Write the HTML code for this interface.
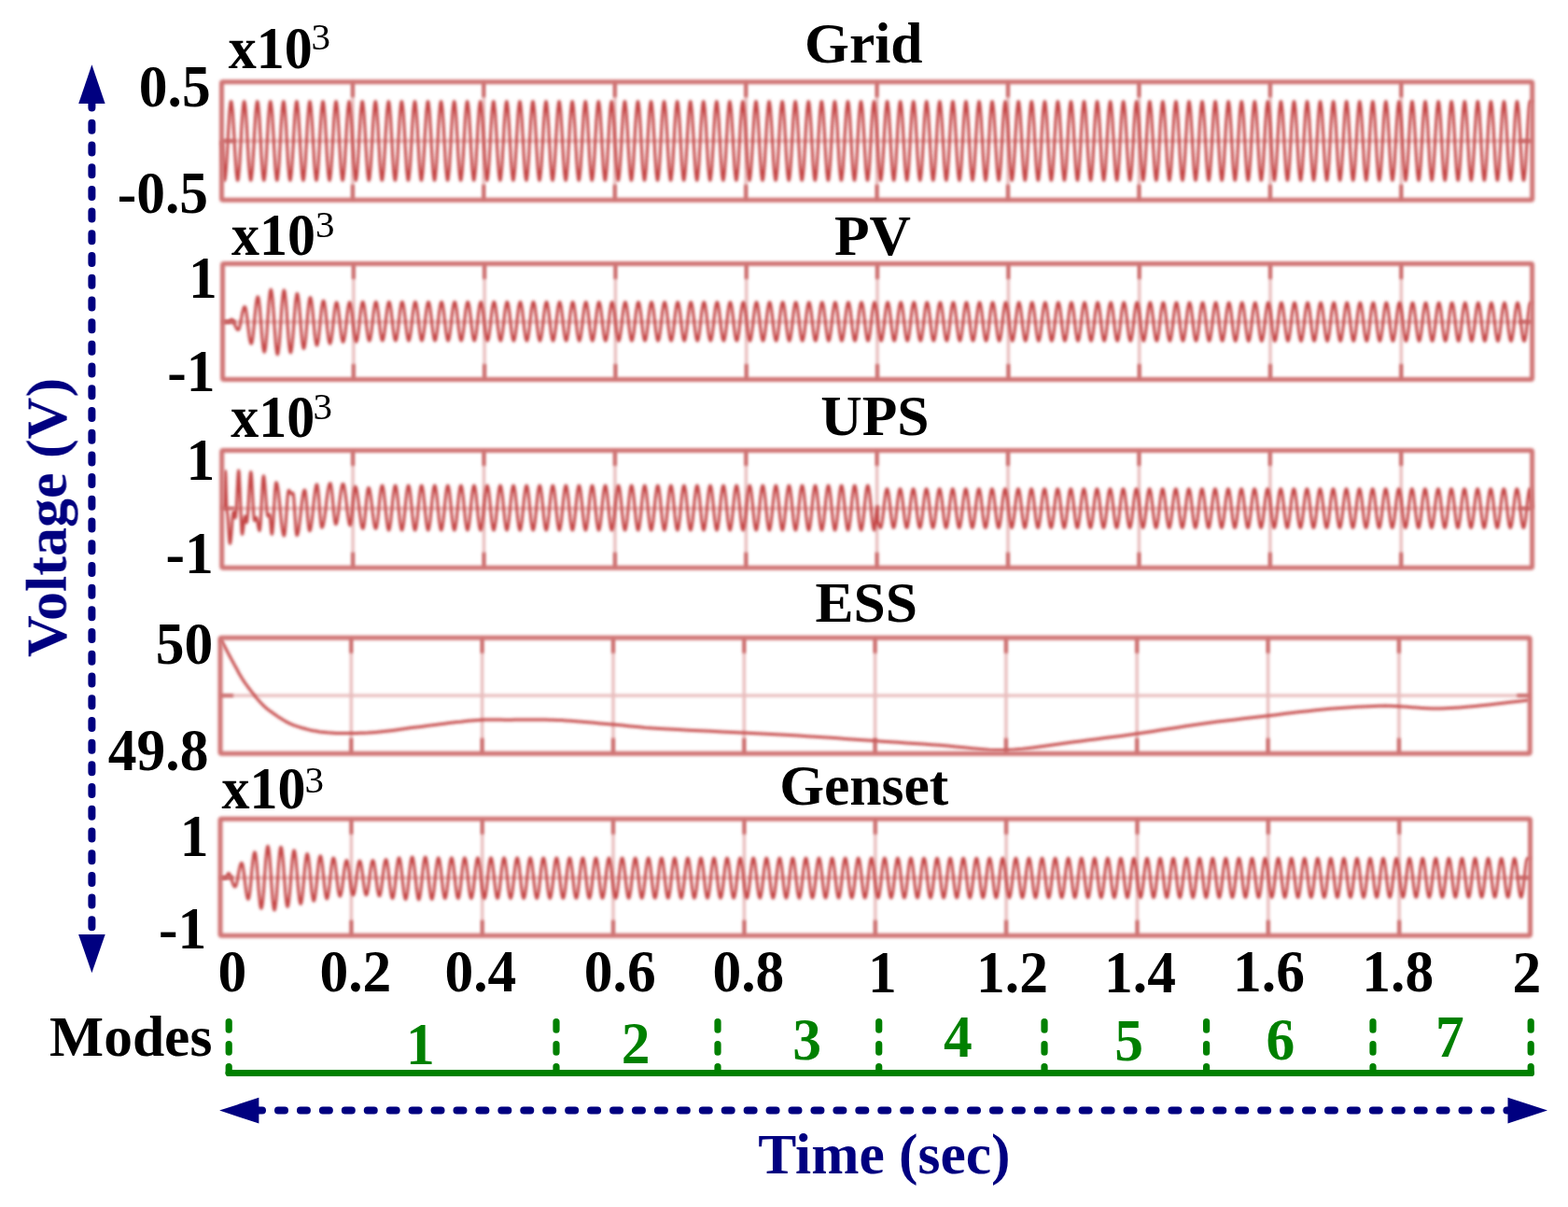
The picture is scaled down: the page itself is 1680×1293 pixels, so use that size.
<!DOCTYPE html>
<html><head><meta charset="utf-8"><title>Voltage waveforms</title>
<style>html,body{margin:0;padding:0;background:#fff;}svg{display:block;}text{font-family:"Liberation Serif","Times New Roman",serif;font-weight:bold;}</style>
</head><body>
<svg width="1680" height="1293" viewBox="0 0 1680 1293">
<rect width="1680" height="1293" fill="#fff"/>
<defs><filter id="bl" filterUnits="userSpaceOnUse" x="0" y="0" width="1680" height="1293"><feGaussianBlur stdDeviation="1.5"/></filter><filter id="bw" filterUnits="userSpaceOnUse" x="0" y="0" width="1680" height="1293"><feGaussianBlur stdDeviation="1.5"/></filter><filter id="bg" filterUnits="userSpaceOnUse" x="0" y="0" width="1680" height="1293"><feGaussianBlur stdDeviation="1.6"/></filter><filter id="bt" filterUnits="userSpaceOnUse" x="0" y="0" width="1680" height="1293"><feGaussianBlur stdDeviation="0.35"/></filter></defs>
<g id="plots">
<g filter="url(#bg)">
<line x1="377.9" y1="87.8" x2="377.9" y2="214.2" stroke="#e8bcbc" stroke-width="3.3"/>
<line x1="518.3" y1="87.8" x2="518.3" y2="214.2" stroke="#e8bcbc" stroke-width="3.3"/>
<line x1="658.8" y1="87.8" x2="658.8" y2="214.2" stroke="#e8bcbc" stroke-width="3.3"/>
<line x1="799.2" y1="87.8" x2="799.2" y2="214.2" stroke="#e8bcbc" stroke-width="3.3"/>
<line x1="939.6" y1="87.8" x2="939.6" y2="214.2" stroke="#e8bcbc" stroke-width="3.3"/>
<line x1="1080.0" y1="87.8" x2="1080.0" y2="214.2" stroke="#e8bcbc" stroke-width="3.3"/>
<line x1="1220.4" y1="87.8" x2="1220.4" y2="214.2" stroke="#e8bcbc" stroke-width="3.3"/>
<line x1="1360.9" y1="87.8" x2="1360.9" y2="214.2" stroke="#e8bcbc" stroke-width="3.3"/>
<line x1="1501.3" y1="87.8" x2="1501.3" y2="214.2" stroke="#e8bcbc" stroke-width="3.3"/>
<line x1="237.5" y1="151.0" x2="1641.7" y2="151.0" stroke="#e8bcbc" stroke-width="3.3"/>
<line x1="378.8" y1="282.6" x2="378.8" y2="406.4" stroke="#e8bcbc" stroke-width="3.3"/>
<line x1="519.1" y1="282.6" x2="519.1" y2="406.4" stroke="#e8bcbc" stroke-width="3.3"/>
<line x1="659.4" y1="282.6" x2="659.4" y2="406.4" stroke="#e8bcbc" stroke-width="3.3"/>
<line x1="799.7" y1="282.6" x2="799.7" y2="406.4" stroke="#e8bcbc" stroke-width="3.3"/>
<line x1="940.0" y1="282.6" x2="940.0" y2="406.4" stroke="#e8bcbc" stroke-width="3.3"/>
<line x1="1080.4" y1="282.6" x2="1080.4" y2="406.4" stroke="#e8bcbc" stroke-width="3.3"/>
<line x1="1220.7" y1="282.6" x2="1220.7" y2="406.4" stroke="#e8bcbc" stroke-width="3.3"/>
<line x1="1361.0" y1="282.6" x2="1361.0" y2="406.4" stroke="#e8bcbc" stroke-width="3.3"/>
<line x1="1501.3" y1="282.6" x2="1501.3" y2="406.4" stroke="#e8bcbc" stroke-width="3.3"/>
<line x1="238.5" y1="344.8" x2="1641.6" y2="344.8" stroke="#e8bcbc" stroke-width="3.3"/>
<line x1="378.1" y1="482.5" x2="378.1" y2="608.2" stroke="#e8bcbc" stroke-width="3.3"/>
<line x1="518.5" y1="482.5" x2="518.5" y2="608.2" stroke="#e8bcbc" stroke-width="3.3"/>
<line x1="658.9" y1="482.5" x2="658.9" y2="608.2" stroke="#e8bcbc" stroke-width="3.3"/>
<line x1="799.3" y1="482.5" x2="799.3" y2="608.2" stroke="#e8bcbc" stroke-width="3.3"/>
<line x1="939.6" y1="482.5" x2="939.6" y2="608.2" stroke="#e8bcbc" stroke-width="3.3"/>
<line x1="1080.0" y1="482.5" x2="1080.0" y2="608.2" stroke="#e8bcbc" stroke-width="3.3"/>
<line x1="1220.4" y1="482.5" x2="1220.4" y2="608.2" stroke="#e8bcbc" stroke-width="3.3"/>
<line x1="1360.8" y1="482.5" x2="1360.8" y2="608.2" stroke="#e8bcbc" stroke-width="3.3"/>
<line x1="1501.2" y1="482.5" x2="1501.2" y2="608.2" stroke="#e8bcbc" stroke-width="3.3"/>
<line x1="237.7" y1="544.6" x2="1641.6" y2="544.6" stroke="#e8bcbc" stroke-width="3.3"/>
<line x1="376.3" y1="683.2" x2="376.3" y2="807.3" stroke="#e8bcbc" stroke-width="3.3"/>
<line x1="516.6" y1="683.2" x2="516.6" y2="807.3" stroke="#e8bcbc" stroke-width="3.3"/>
<line x1="657.0" y1="683.2" x2="657.0" y2="807.3" stroke="#e8bcbc" stroke-width="3.3"/>
<line x1="797.3" y1="683.2" x2="797.3" y2="807.3" stroke="#e8bcbc" stroke-width="3.3"/>
<line x1="937.6" y1="683.2" x2="937.6" y2="807.3" stroke="#e8bcbc" stroke-width="3.3"/>
<line x1="1077.9" y1="683.2" x2="1077.9" y2="807.3" stroke="#e8bcbc" stroke-width="3.3"/>
<line x1="1218.2" y1="683.2" x2="1218.2" y2="807.3" stroke="#e8bcbc" stroke-width="3.3"/>
<line x1="1358.6" y1="683.2" x2="1358.6" y2="807.3" stroke="#e8bcbc" stroke-width="3.3"/>
<line x1="1498.9" y1="683.2" x2="1498.9" y2="807.3" stroke="#e8bcbc" stroke-width="3.3"/>
<line x1="236.0" y1="745.1" x2="1639.2" y2="745.1" stroke="#e8bcbc" stroke-width="3.3"/>
<line x1="376.4" y1="877.3" x2="376.4" y2="1002.3" stroke="#e8bcbc" stroke-width="3.3"/>
<line x1="516.7" y1="877.3" x2="516.7" y2="1002.3" stroke="#e8bcbc" stroke-width="3.3"/>
<line x1="657.0" y1="877.3" x2="657.0" y2="1002.3" stroke="#e8bcbc" stroke-width="3.3"/>
<line x1="797.4" y1="877.3" x2="797.4" y2="1002.3" stroke="#e8bcbc" stroke-width="3.3"/>
<line x1="937.8" y1="877.3" x2="937.8" y2="1002.3" stroke="#e8bcbc" stroke-width="3.3"/>
<line x1="1078.1" y1="877.3" x2="1078.1" y2="1002.3" stroke="#e8bcbc" stroke-width="3.3"/>
<line x1="1218.5" y1="877.3" x2="1218.5" y2="1002.3" stroke="#e8bcbc" stroke-width="3.3"/>
<line x1="1358.8" y1="877.3" x2="1358.8" y2="1002.3" stroke="#e8bcbc" stroke-width="3.3"/>
<line x1="1499.2" y1="877.3" x2="1499.2" y2="1002.3" stroke="#e8bcbc" stroke-width="3.3"/>
<line x1="236.0" y1="940.3" x2="1639.5" y2="940.3" stroke="#e8bcbc" stroke-width="3.3"/>
</g><g filter="url(#bw)">
<path d="M237.5 151.0L237.9 153.1 238.4 159.0 238.8 167.4 239.3 176.9 239.7 185.3 240.1 191.2 240.6 193.3 241.0 192.4 241.5 189.6 242.0 185.2 242.4 179.3 242.9 172.1 243.4 164.0 243.9 155.4 244.3 146.5 244.8 137.9 245.3 129.8 245.7 122.6 246.2 116.7 246.7 112.3 247.1 109.5 247.6 108.6 248.1 109.5 248.5 112.3 249.0 116.7 249.5 122.6 249.9 129.8 250.4 137.9 250.9 146.5 251.3 155.4 251.8 164.0 252.3 172.1 252.8 179.3 253.2 185.2 253.7 189.6 254.2 192.4 254.6 193.3 255.1 192.4 255.6 189.6 256.0 185.2 256.5 179.3 257.0 172.1 257.4 164.0 257.9 155.4 258.4 146.5 258.8 137.9 259.3 129.8 259.8 122.6 260.3 116.7 260.7 112.3 261.2 109.5 261.7 108.6 262.1 109.5 262.6 112.3 263.1 116.7 263.5 122.6 264.0 129.8 264.5 137.9 264.9 146.5 265.4 155.4 265.9 164.0 266.3 172.1 266.8 179.3 267.3 185.2 267.8 189.6 268.2 192.4 268.7 193.3 269.2 192.4 269.6 189.6 270.1 185.2 270.6 179.3 271.0 172.1 271.5 164.0 272.0 155.4 272.4 146.5 272.9 137.9 273.4 129.8 273.8 122.6 274.3 116.7 274.8 112.3 275.3 109.5 275.7 108.6 276.2 109.5 276.7 112.3 277.1 116.7 277.6 122.6 278.1 129.8 278.5 137.9 279.0 146.5 279.5 155.4 279.9 164.0 280.4 172.1 280.9 179.3 281.3 185.2 281.8 189.6 282.3 192.4 282.8 193.3 283.2 192.4 283.7 189.6 284.2 185.2 284.6 179.3 285.1 172.1 285.6 164.0 286.0 155.4 286.5 146.5 287.0 137.9 287.4 129.8 287.9 122.6 288.4 116.7 288.8 112.3 289.3 109.5 289.8 108.6 290.2 109.5 290.7 112.3 291.2 116.7 291.7 122.6 292.1 129.8 292.6 137.9 293.1 146.5 293.5 155.4 294.0 164.0 294.5 172.1 294.9 179.3 295.4 185.2 295.9 189.6 296.3 192.4 296.8 193.3 297.3 192.4 297.7 189.6 298.2 185.2 298.7 179.3 299.2 172.1 299.6 164.0 300.1 155.4 300.6 146.5 301.0 137.9 301.5 129.8 302.0 122.6 302.4 116.7 302.9 112.3 303.4 109.5 303.8 108.6 304.3 109.5 304.8 112.3 305.2 116.7 305.7 122.6 306.2 129.8 306.7 137.9 307.1 146.5 307.6 155.4 308.1 164.0 308.5 172.1 309.0 179.3 309.5 185.2 309.9 189.6 310.4 192.4 310.9 193.3 311.3 192.4 311.8 189.6 312.3 185.2 312.7 179.3 313.2 172.1 313.7 164.0 314.2 155.4 314.6 146.5 315.1 137.9 315.6 129.8 316.0 122.6 316.5 116.7 317.0 112.3 317.4 109.5 317.9 108.6 318.4 109.5 318.8 112.3 319.3 116.7 319.8 122.6 320.2 129.8 320.7 137.9 321.2 146.5 321.6 155.4 322.1 164.0 322.6 172.1 323.1 179.3 323.5 185.2 324.0 189.6 324.5 192.4 324.9 193.3 325.4 192.4 325.9 189.6 326.3 185.2 326.8 179.3 327.3 172.1 327.7 164.0 328.2 155.4 328.7 146.5 329.1 137.9 329.6 129.8 330.1 122.6 330.6 116.7 331.0 112.3 331.5 109.5 332.0 108.6 332.4 109.5 332.9 112.3 333.4 116.7 333.8 122.6 334.3 129.8 334.8 137.9 335.2 146.5 335.7 155.4 336.2 164.0 336.6 172.1 337.1 179.3 337.6 185.2 338.1 189.6 338.5 192.4 339.0 193.3 339.5 192.4 339.9 189.6 340.4 185.2 340.9 179.3 341.3 172.1 341.8 164.0 342.3 155.4 342.7 146.5 343.2 137.9 343.7 129.8 344.1 122.6 344.6 116.7 345.1 112.3 345.6 109.5 346.0 108.6 346.5 109.5 347.0 112.3 347.4 116.7 347.9 122.6 348.4 129.8 348.8 137.9 349.3 146.5 349.8 155.4 350.2 164.0 350.7 172.1 351.2 179.3 351.6 185.2 352.1 189.6 352.6 192.4 353.1 193.3 353.5 192.4 354.0 189.6 354.5 185.2 354.9 179.3 355.4 172.1 355.9 164.0 356.3 155.4 356.8 146.5 357.3 137.9 357.7 129.8 358.2 122.6 358.7 116.7 359.1 112.3 359.6 109.5 360.1 108.6 360.5 109.5 361.0 112.3 361.5 116.7 362.0 122.6 362.4 129.8 362.9 137.9 363.4 146.5 363.8 155.4 364.3 164.0 364.8 172.1 365.2 179.3 365.7 185.2 366.2 189.6 366.6 192.4 367.1 193.3 367.6 192.4 368.0 189.6 368.5 185.2 369.0 179.3 369.5 172.1 369.9 164.0 370.4 155.4 370.9 146.5 371.3 137.9 371.8 129.8 372.3 122.6 372.7 116.7 373.2 112.3 373.7 109.5 374.1 108.6 374.6 109.5 375.1 112.3 375.5 116.7 376.0 122.6 376.5 129.8 377.0 137.9 377.4 146.5 377.9 155.4 378.4 164.0 378.8 172.1 379.3 179.3 379.8 185.2 380.2 189.6 380.7 192.4 381.2 193.3 381.6 192.4 382.1 189.6 382.6 185.2 383.0 179.3 383.5 172.1 384.0 164.0 384.5 155.4 384.9 146.5 385.4 137.9 385.9 129.8 386.3 122.6 386.8 116.7 387.3 112.3 387.7 109.5 388.2 108.6 388.7 109.5 389.1 112.3 389.6 116.7 390.1 122.6 390.5 129.8 391.0 137.9 391.5 146.5 391.9 155.4 392.4 164.0 392.9 172.1 393.4 179.3 393.8 185.2 394.3 189.6 394.8 192.4 395.2 193.3 395.7 192.4 396.2 189.6 396.6 185.2 397.1 179.3 397.6 172.1 398.0 164.0 398.5 155.4 399.0 146.5 399.4 137.9 399.9 129.8 400.4 122.6 400.9 116.7 401.3 112.3 401.8 109.5 402.3 108.6 402.7 109.5 403.2 112.3 403.7 116.7 404.1 122.6 404.6 129.8 405.1 137.9 405.5 146.5 406.0 155.4 406.5 164.0 406.9 172.1 407.4 179.3 407.9 185.2 408.4 189.6 408.8 192.4 409.3 193.3 409.8 192.4 410.2 189.6 410.7 185.2 411.2 179.3 411.6 172.1 412.1 164.0 412.6 155.4 413.0 146.5 413.5 137.9 414.0 129.8 414.4 122.6 414.9 116.7 415.4 112.3 415.9 109.5 416.3 108.6 416.8 109.5 417.3 112.3 417.7 116.7 418.2 122.6 418.7 129.8 419.1 137.9 419.6 146.5 420.1 155.4 420.5 164.0 421.0 172.1 421.5 179.3 421.9 185.2 422.4 189.6 422.9 192.4 423.4 193.3 423.8 192.4 424.3 189.6 424.8 185.2 425.2 179.3 425.7 172.1 426.2 164.0 426.6 155.4 427.1 146.5 427.6 137.9 428.0 129.8 428.5 122.6 429.0 116.7 429.4 112.3 429.9 109.5 430.4 108.6 430.8 109.5 431.3 112.3 431.8 116.7 432.3 122.6 432.7 129.8 433.2 137.9 433.7 146.5 434.1 155.4 434.6 164.0 435.1 172.1 435.5 179.3 436.0 185.2 436.5 189.6 436.9 192.4 437.4 193.3 437.9 192.4 438.3 189.6 438.8 185.2 439.3 179.3 439.8 172.1 440.2 164.0 440.7 155.4 441.2 146.5 441.6 137.9 442.1 129.8 442.6 122.6 443.0 116.7 443.5 112.3 444.0 109.5 444.4 108.6 444.9 109.5 445.4 112.3 445.8 116.7 446.3 122.6 446.8 129.8 447.3 137.9 447.7 146.5 448.2 155.4 448.7 164.0 449.1 172.1 449.6 179.3 450.1 185.2 450.5 189.6 451.0 192.4 451.5 193.3 451.9 192.4 452.4 189.6 452.9 185.2 453.3 179.3 453.8 172.1 454.3 164.0 454.8 155.4 455.2 146.5 455.7 137.9 456.2 129.8 456.6 122.6 457.1 116.7 457.6 112.3 458.0 109.5 458.5 108.6 459.0 109.5 459.4 112.3 459.9 116.7 460.4 122.6 460.8 129.8 461.3 137.9 461.8 146.5 462.2 155.4 462.7 164.0 463.2 172.1 463.7 179.3 464.1 185.2 464.6 189.6 465.1 192.4 465.5 193.3 466.0 192.4 466.5 189.6 466.9 185.2 467.4 179.3 467.9 172.1 468.3 164.0 468.8 155.4 469.3 146.5 469.7 137.9 470.2 129.8 470.7 122.6 471.2 116.7 471.6 112.3 472.1 109.5 472.6 108.6 473.0 109.5 473.5 112.3 474.0 116.7 474.4 122.6 474.9 129.8 475.4 137.9 475.8 146.5 476.3 155.4 476.8 164.0 477.2 172.1 477.7 179.3 478.2 185.2 478.7 189.6 479.1 192.4 479.6 193.3 480.1 192.4 480.5 189.6 481.0 185.2 481.5 179.3 481.9 172.1 482.4 164.0 482.9 155.4 483.3 146.5 483.8 137.9 484.3 129.8 484.7 122.6 485.2 116.7 485.7 112.3 486.2 109.5 486.6 108.6 487.1 109.5 487.6 112.3 488.0 116.7 488.5 122.6 489.0 129.8 489.4 137.9 489.9 146.5 490.4 155.4 490.8 164.0 491.3 172.1 491.8 179.3 492.2 185.2 492.7 189.6 493.2 192.4 493.6 193.3 494.1 192.4 494.6 189.6 495.1 185.2 495.5 179.3 496.0 172.1 496.5 164.0 496.9 155.4 497.4 146.5 497.9 137.9 498.3 129.8 498.8 122.6 499.3 116.7 499.7 112.3 500.2 109.5 500.7 108.6 501.1 109.5 501.6 112.3 502.1 116.7 502.6 122.6 503.0 129.8 503.5 137.9 504.0 146.5 504.4 155.4 504.9 164.0 505.4 172.1 505.8 179.3 506.3 185.2 506.8 189.6 507.2 192.4 507.7 193.3 508.2 192.4 508.6 189.6 509.1 185.2 509.6 179.3 510.1 172.1 510.5 164.0 511.0 155.4 511.5 146.5 511.9 137.9 512.4 129.8 512.9 122.6 513.3 116.7 513.8 112.3 514.3 109.5 514.7 108.6 515.2 109.5 515.7 112.3 516.1 116.7 516.6 122.6 517.1 129.8 517.6 137.9 518.0 146.5 518.5 155.4 519.0 164.0 519.4 172.1 519.9 179.3 520.4 185.2 520.8 189.6 521.3 192.4 521.8 193.3 522.2 192.4 522.7 189.6 523.2 185.2 523.6 179.3 524.1 172.1 524.6 164.0 525.1 155.4 525.5 146.5 526.0 137.9 526.5 129.8 526.9 122.6 527.4 116.7 527.9 112.3 528.3 109.5 528.8 108.6 529.3 109.5 529.7 112.3 530.2 116.7 530.7 122.6 531.1 129.8 531.6 137.9 532.1 146.5 532.5 155.4 533.0 164.0 533.5 172.1 534.0 179.3 534.4 185.2 534.9 189.6 535.4 192.4 535.8 193.3 536.3 192.4 536.8 189.6 537.2 185.2 537.7 179.3 538.2 172.1 538.6 164.0 539.1 155.4 539.6 146.5 540.0 137.9 540.5 129.8 541.0 122.6 541.5 116.7 541.9 112.3 542.4 109.5 542.9 108.6 543.3 109.5 543.8 112.3 544.3 116.7 544.7 122.6 545.2 129.8 545.7 137.9 546.1 146.5 546.6 155.4 547.1 164.0 547.5 172.1 548.0 179.3 548.5 185.2 549.0 189.6 549.4 192.4 549.9 193.3 550.4 192.4 550.8 189.6 551.3 185.2 551.8 179.3 552.2 172.1 552.7 164.0 553.2 155.4 553.6 146.5 554.1 137.9 554.6 129.8 555.0 122.6 555.5 116.7 556.0 112.3 556.5 109.5 556.9 108.6 557.4 109.5 557.9 112.3 558.3 116.7 558.8 122.6 559.3 129.8 559.7 137.9 560.2 146.5 560.7 155.4 561.1 164.0 561.6 172.1 562.1 179.3 562.5 185.2 563.0 189.6 563.5 192.4 564.0 193.3 564.4 192.4 564.9 189.6 565.4 185.2 565.8 179.3 566.3 172.1 566.8 164.0 567.2 155.4 567.7 146.5 568.2 137.9 568.6 129.8 569.1 122.6 569.6 116.7 570.0 112.3 570.5 109.5 571.0 108.6 571.4 109.5 571.9 112.3 572.4 116.7 572.9 122.6 573.3 129.8 573.8 137.9 574.3 146.5 574.7 155.4 575.2 164.0 575.7 172.1 576.1 179.3 576.6 185.2 577.1 189.6 577.5 192.4 578.0 193.3 578.5 192.4 578.9 189.6 579.4 185.2 579.9 179.3 580.4 172.1 580.8 164.0 581.3 155.4 581.8 146.5 582.2 137.9 582.7 129.8 583.2 122.6 583.6 116.7 584.1 112.3 584.6 109.5 585.0 108.6 585.5 109.5 586.0 112.3 586.4 116.7 586.9 122.6 587.4 129.8 587.9 137.9 588.3 146.5 588.8 155.4 589.3 164.0 589.7 172.1 590.2 179.3 590.7 185.2 591.1 189.6 591.6 192.4 592.1 193.3 592.5 192.4 593.0 189.6 593.5 185.2 593.9 179.3 594.4 172.1 594.9 164.0 595.4 155.4 595.8 146.5 596.3 137.9 596.8 129.8 597.2 122.6 597.7 116.7 598.2 112.3 598.6 109.5 599.1 108.6 599.6 109.5 600.0 112.3 600.5 116.7 601.0 122.6 601.4 129.8 601.9 137.9 602.4 146.5 602.8 155.4 603.3 164.0 603.8 172.1 604.3 179.3 604.7 185.2 605.2 189.6 605.7 192.4 606.1 193.3 606.6 192.4 607.1 189.6 607.5 185.2 608.0 179.3 608.5 172.1 608.9 164.0 609.4 155.4 609.9 146.5 610.3 137.9 610.8 129.8 611.3 122.6 611.8 116.7 612.2 112.3 612.7 109.5 613.2 108.6 613.6 109.5 614.1 112.3 614.6 116.7 615.0 122.6 615.5 129.8 616.0 137.9 616.4 146.5 616.9 155.4 617.4 164.0 617.8 172.1 618.3 179.3 618.8 185.2 619.3 189.6 619.7 192.4 620.2 193.3 620.7 192.4 621.1 189.6 621.6 185.2 622.1 179.3 622.5 172.1 623.0 164.0 623.5 155.4 623.9 146.5 624.4 137.9 624.9 129.8 625.3 122.6 625.8 116.7 626.3 112.3 626.8 109.5 627.2 108.6 627.7 109.5 628.2 112.3 628.6 116.7 629.1 122.6 629.6 129.8 630.0 137.9 630.5 146.5 631.0 155.4 631.4 164.0 631.9 172.1 632.4 179.3 632.8 185.2 633.3 189.6 633.8 192.4 634.2 193.3 634.7 192.4 635.2 189.6 635.7 185.2 636.1 179.3 636.6 172.1 637.1 164.0 637.5 155.4 638.0 146.5 638.5 137.9 638.9 129.8 639.4 122.6 639.9 116.7 640.3 112.3 640.8 109.5 641.3 108.6 641.7 109.5 642.2 112.3 642.7 116.7 643.2 122.6 643.6 129.8 644.1 137.9 644.6 146.5 645.0 155.4 645.5 164.0 646.0 172.1 646.4 179.3 646.9 185.2 647.4 189.6 647.8 192.4 648.3 193.3 648.8 192.4 649.2 189.6 649.7 185.2 650.2 179.3 650.7 172.1 651.1 164.0 651.6 155.4 652.1 146.5 652.5 137.9 653.0 129.8 653.5 122.6 653.9 116.7 654.4 112.3 654.9 109.5 655.3 108.6 655.8 109.5 656.3 112.3 656.7 116.7 657.2 122.6 657.7 129.8 658.2 137.9 658.6 146.5 659.1 155.4 659.6 164.0 660.0 172.1 660.5 179.3 661.0 185.2 661.4 189.6 661.9 192.4 662.4 193.3 662.8 192.4 663.3 189.6 663.8 185.2 664.2 179.3 664.7 172.1 665.2 164.0 665.7 155.4 666.1 146.5 666.6 137.9 667.1 129.8 667.5 122.6 668.0 116.7 668.5 112.3 668.9 109.5 669.4 108.6 669.9 109.5 670.3 112.3 670.8 116.7 671.3 122.6 671.7 129.8 672.2 137.9 672.7 146.5 673.1 155.4 673.6 164.0 674.1 172.1 674.6 179.3 675.0 185.2 675.5 189.6 676.0 192.4 676.4 193.3 676.9 192.4 677.4 189.6 677.8 185.2 678.3 179.3 678.8 172.1 679.2 164.0 679.7 155.4 680.2 146.5 680.6 137.9 681.1 129.8 681.6 122.6 682.1 116.7 682.5 112.3 683.0 109.5 683.5 108.6 683.9 109.5 684.4 112.3 684.9 116.7 685.3 122.6 685.8 129.8 686.3 137.9 686.7 146.5 687.2 155.4 687.7 164.0 688.1 172.1 688.6 179.3 689.1 185.2 689.6 189.6 690.0 192.4 690.5 193.3 691.0 192.4 691.4 189.6 691.9 185.2 692.4 179.3 692.8 172.1 693.3 164.0 693.8 155.4 694.2 146.5 694.7 137.9 695.2 129.8 695.6 122.6 696.1 116.7 696.6 112.3 697.1 109.5 697.5 108.6 698.0 109.5 698.5 112.3 698.9 116.7 699.4 122.6 699.9 129.8 700.3 137.9 700.8 146.5 701.3 155.4 701.7 164.0 702.2 172.1 702.7 179.3 703.1 185.2 703.6 189.6 704.1 192.4 704.5 193.3 705.0 192.4 705.5 189.6 706.0 185.2 706.4 179.3 706.9 172.1 707.4 164.0 707.8 155.4 708.3 146.5 708.8 137.9 709.2 129.8 709.7 122.6 710.2 116.7 710.6 112.3 711.1 109.5 711.6 108.6 712.0 109.5 712.5 112.3 713.0 116.7 713.5 122.6 713.9 129.8 714.4 137.9 714.9 146.5 715.3 155.4 715.8 164.0 716.3 172.1 716.7 179.3 717.2 185.2 717.7 189.6 718.1 192.4 718.6 193.3 719.1 192.4 719.5 189.6 720.0 185.2 720.5 179.3 721.0 172.1 721.4 164.0 721.9 155.4 722.4 146.5 722.8 137.9 723.3 129.8 723.8 122.6 724.2 116.7 724.7 112.3 725.2 109.5 725.6 108.6 726.1 109.5 726.6 112.3 727.0 116.7 727.5 122.6 728.0 129.8 728.5 137.9 728.9 146.5 729.4 155.4 729.9 164.0 730.3 172.1 730.8 179.3 731.3 185.2 731.7 189.6 732.2 192.4 732.7 193.3 733.1 192.4 733.6 189.6 734.1 185.2 734.5 179.3 735.0 172.1 735.5 164.0 736.0 155.4 736.4 146.5 736.9 137.9 737.4 129.8 737.8 122.6 738.3 116.7 738.8 112.3 739.2 109.5 739.7 108.6 740.2 109.5 740.6 112.3 741.1 116.7 741.6 122.6 742.0 129.8 742.5 137.9 743.0 146.5 743.4 155.4 743.9 164.0 744.4 172.1 744.9 179.3 745.3 185.2 745.8 189.6 746.3 192.4 746.7 193.3 747.2 192.4 747.7 189.6 748.1 185.2 748.6 179.3 749.1 172.1 749.5 164.0 750.0 155.4 750.5 146.5 750.9 137.9 751.4 129.8 751.9 122.6 752.4 116.7 752.8 112.3 753.3 109.5 753.8 108.6 754.2 109.5 754.7 112.3 755.2 116.7 755.6 122.6 756.1 129.8 756.6 137.9 757.0 146.5 757.5 155.4 758.0 164.0 758.4 172.1 758.9 179.3 759.4 185.2 759.9 189.6 760.3 192.4 760.8 193.3 761.3 192.4 761.7 189.6 762.2 185.2 762.7 179.3 763.1 172.1 763.6 164.0 764.1 155.4 764.5 146.5 765.0 137.9 765.5 129.8 765.9 122.6 766.4 116.7 766.9 112.3 767.4 109.5 767.8 108.6 768.3 109.5 768.8 112.3 769.2 116.7 769.7 122.6 770.2 129.8 770.6 137.9 771.1 146.5 771.6 155.4 772.0 164.0 772.5 172.1 773.0 179.3 773.4 185.2 773.9 189.6 774.4 192.4 774.9 193.3 775.3 192.4 775.8 189.6 776.3 185.2 776.7 179.3 777.2 172.1 777.7 164.0 778.1 155.4 778.6 146.5 779.1 137.9 779.5 129.8 780.0 122.6 780.5 116.7 780.9 112.3 781.4 109.5 781.9 108.6 782.3 109.5 782.8 112.3 783.3 116.7 783.8 122.6 784.2 129.8 784.7 137.9 785.2 146.5 785.6 155.4 786.1 164.0 786.6 172.1 787.0 179.3 787.5 185.2 788.0 189.6 788.4 192.4 788.9 193.3 789.4 192.4 789.8 189.6 790.3 185.2 790.8 179.3 791.3 172.1 791.7 164.0 792.2 155.4 792.7 146.5 793.1 137.9 793.6 129.8 794.1 122.6 794.5 116.7 795.0 112.3 795.5 109.5 795.9 108.6 796.4 109.5 796.9 112.3 797.3 116.7 797.8 122.6 798.3 129.8 798.8 137.9 799.2 146.5 799.7 155.4 800.2 164.0 800.6 172.1 801.1 179.3 801.6 185.2 802.0 189.6 802.5 192.4 803.0 193.3 803.4 192.4 803.9 189.6 804.4 185.2 804.8 179.3 805.3 172.1 805.8 164.0 806.3 155.4 806.7 146.5 807.2 137.9 807.7 129.8 808.1 122.6 808.6 116.7 809.1 112.3 809.5 109.5 810.0 108.6 810.5 109.5 810.9 112.3 811.4 116.7 811.9 122.6 812.3 129.8 812.8 137.9 813.3 146.5 813.7 155.4 814.2 164.0 814.7 172.1 815.2 179.3 815.6 185.2 816.1 189.6 816.6 192.4 817.0 193.3 817.5 192.4 818.0 189.6 818.4 185.2 818.9 179.3 819.4 172.1 819.8 164.0 820.3 155.4 820.8 146.5 821.2 137.9 821.7 129.8 822.2 122.6 822.7 116.7 823.1 112.3 823.6 109.5 824.1 108.6 824.5 109.5 825.0 112.3 825.5 116.7 825.9 122.6 826.4 129.8 826.9 137.9 827.3 146.5 827.8 155.4 828.3 164.0 828.7 172.1 829.2 179.3 829.7 185.2 830.2 189.6 830.6 192.4 831.1 193.3 831.6 192.4 832.0 189.6 832.5 185.2 833.0 179.3 833.4 172.1 833.9 164.0 834.4 155.4 834.8 146.5 835.3 137.9 835.8 129.8 836.2 122.6 836.7 116.7 837.2 112.3 837.7 109.5 838.1 108.6 838.6 109.5 839.1 112.3 839.5 116.7 840.0 122.6 840.5 129.8 840.9 137.9 841.4 146.5 841.9 155.4 842.3 164.0 842.8 172.1 843.3 179.3 843.7 185.2 844.2 189.6 844.7 192.4 845.2 193.3 845.6 192.4 846.1 189.6 846.6 185.2 847.0 179.3 847.5 172.1 848.0 164.0 848.4 155.4 848.9 146.5 849.4 137.9 849.8 129.8 850.3 122.6 850.8 116.7 851.2 112.3 851.7 109.5 852.2 108.6 852.6 109.5 853.1 112.3 853.6 116.7 854.1 122.6 854.5 129.8 855.0 137.9 855.5 146.5 855.9 155.4 856.4 164.0 856.9 172.1 857.3 179.3 857.8 185.2 858.3 189.6 858.7 192.4 859.2 193.3 859.7 192.4 860.1 189.6 860.6 185.2 861.1 179.3 861.6 172.1 862.0 164.0 862.5 155.4 863.0 146.5 863.4 137.9 863.9 129.8 864.4 122.6 864.8 116.7 865.3 112.3 865.8 109.5 866.2 108.6 866.7 109.5 867.2 112.3 867.6 116.7 868.1 122.6 868.6 129.8 869.1 137.9 869.5 146.5 870.0 155.4 870.5 164.0 870.9 172.1 871.4 179.3 871.9 185.2 872.3 189.6 872.8 192.4 873.3 193.3 873.7 192.4 874.2 189.6 874.7 185.2 875.1 179.3 875.6 172.1 876.1 164.0 876.6 155.4 877.0 146.5 877.5 137.9 878.0 129.8 878.4 122.6 878.9 116.7 879.4 112.3 879.8 109.5 880.3 108.6 880.8 109.5 881.2 112.3 881.7 116.7 882.2 122.6 882.6 129.8 883.1 137.9 883.6 146.5 884.0 155.4 884.5 164.0 885.0 172.1 885.5 179.3 885.9 185.2 886.4 189.6 886.9 192.4 887.3 193.3 887.8 192.4 888.3 189.6 888.7 185.2 889.2 179.3 889.7 172.1 890.1 164.0 890.6 155.4 891.1 146.5 891.5 137.9 892.0 129.8 892.5 122.6 893.0 116.7 893.4 112.3 893.9 109.5 894.4 108.6 894.8 109.5 895.3 112.3 895.8 116.7 896.2 122.6 896.7 129.8 897.2 137.9 897.6 146.5 898.1 155.4 898.6 164.0 899.0 172.1 899.5 179.3 900.0 185.2 900.5 189.6 900.9 192.4 901.4 193.3 901.9 192.4 902.3 189.6 902.8 185.2 903.3 179.3 903.7 172.1 904.2 164.0 904.7 155.4 905.1 146.5 905.6 137.9 906.1 129.8 906.5 122.6 907.0 116.7 907.5 112.3 908.0 109.5 908.4 108.6 908.9 109.5 909.4 112.3 909.8 116.7 910.3 122.6 910.8 129.8 911.2 137.9 911.7 146.5 912.2 155.4 912.6 164.0 913.1 172.1 913.6 179.3 914.0 185.2 914.5 189.6 915.0 192.4 915.5 193.3 915.9 192.4 916.4 189.6 916.9 185.2 917.3 179.3 917.8 172.1 918.3 164.0 918.7 155.4 919.2 146.5 919.7 137.9 920.1 129.8 920.6 122.6 921.1 116.7 921.5 112.3 922.0 109.5 922.5 108.6 922.9 109.5 923.4 112.3 923.9 116.7 924.4 122.6 924.8 129.8 925.3 137.9 925.8 146.5 926.2 155.4 926.7 164.0 927.2 172.1 927.6 179.3 928.1 185.2 928.6 189.6 929.0 192.4 929.5 193.3 930.0 192.4 930.4 189.6 930.9 185.2 931.4 179.3 931.9 172.1 932.3 164.0 932.8 155.4 933.3 146.5 933.7 137.9 934.2 129.8 934.7 122.6 935.1 116.7 935.6 112.3 936.1 109.5 936.5 108.6 937.0 109.5 937.5 112.3 937.9 116.7 938.4 122.6 938.9 129.8 939.4 137.9 939.8 146.5 940.3 155.4 940.8 164.0 941.2 172.1 941.7 179.3 942.2 185.2 942.6 189.6 943.1 192.4 943.6 193.3 944.0 192.4 944.5 189.6 945.0 185.2 945.4 179.3 945.9 172.1 946.4 164.0 946.9 155.4 947.3 146.5 947.8 137.9 948.3 129.8 948.7 122.6 949.2 116.7 949.7 112.3 950.1 109.5 950.6 108.6 951.1 109.5 951.5 112.3 952.0 116.7 952.5 122.6 952.9 129.8 953.4 137.9 953.9 146.5 954.3 155.4 954.8 164.0 955.3 172.1 955.8 179.3 956.2 185.2 956.7 189.6 957.2 192.4 957.6 193.3 958.1 192.4 958.6 189.6 959.0 185.2 959.5 179.3 960.0 172.1 960.4 164.0 960.9 155.4 961.4 146.5 961.8 137.9 962.3 129.8 962.8 122.6 963.3 116.7 963.7 112.3 964.2 109.5 964.7 108.6 965.1 109.5 965.6 112.3 966.1 116.7 966.5 122.6 967.0 129.8 967.5 137.9 967.9 146.5 968.4 155.4 968.9 164.0 969.3 172.1 969.8 179.3 970.3 185.2 970.8 189.6 971.2 192.4 971.7 193.3 972.2 192.4 972.6 189.6 973.1 185.2 973.6 179.3 974.0 172.1 974.5 164.0 975.0 155.4 975.4 146.5 975.9 137.9 976.4 129.8 976.8 122.6 977.3 116.7 977.8 112.3 978.3 109.5 978.7 108.6 979.2 109.5 979.7 112.3 980.1 116.7 980.6 122.6 981.1 129.8 981.5 137.9 982.0 146.5 982.5 155.4 982.9 164.0 983.4 172.1 983.9 179.3 984.3 185.2 984.8 189.6 985.3 192.4 985.8 193.3 986.2 192.4 986.7 189.6 987.2 185.2 987.6 179.3 988.1 172.1 988.6 164.0 989.0 155.4 989.5 146.5 990.0 137.9 990.4 129.8 990.9 122.6 991.4 116.7 991.8 112.3 992.3 109.5 992.8 108.6 993.2 109.5 993.7 112.3 994.2 116.7 994.7 122.6 995.1 129.8 995.6 137.9 996.1 146.5 996.5 155.4 997.0 164.0 997.5 172.1 997.9 179.3 998.4 185.2 998.9 189.6 999.3 192.4 999.8 193.3 1000.3 192.4 1000.7 189.6 1001.2 185.2 1001.7 179.3 1002.2 172.1 1002.6 164.0 1003.1 155.4 1003.6 146.5 1004.0 137.9 1004.5 129.8 1005.0 122.6 1005.4 116.7 1005.9 112.3 1006.4 109.5 1006.8 108.6 1007.3 109.5 1007.8 112.3 1008.2 116.7 1008.7 122.6 1009.2 129.8 1009.7 137.9 1010.1 146.5 1010.6 155.4 1011.1 164.0 1011.5 172.1 1012.0 179.3 1012.5 185.2 1012.9 189.6 1013.4 192.4 1013.9 193.3 1014.3 192.4 1014.8 189.6 1015.3 185.2 1015.7 179.3 1016.2 172.1 1016.7 164.0 1017.2 155.4 1017.6 146.5 1018.1 137.9 1018.6 129.8 1019.0 122.6 1019.5 116.7 1020.0 112.3 1020.4 109.5 1020.9 108.6 1021.4 109.5 1021.8 112.3 1022.3 116.7 1022.8 122.6 1023.2 129.8 1023.7 137.9 1024.2 146.5 1024.6 155.4 1025.1 164.0 1025.6 172.1 1026.1 179.3 1026.5 185.2 1027.0 189.6 1027.5 192.4 1027.9 193.3 1028.4 192.4 1028.9 189.6 1029.3 185.2 1029.8 179.3 1030.3 172.1 1030.7 164.0 1031.2 155.4 1031.7 146.5 1032.1 137.9 1032.6 129.8 1033.1 122.6 1033.6 116.7 1034.0 112.3 1034.5 109.5 1035.0 108.6 1035.4 109.5 1035.9 112.3 1036.4 116.7 1036.8 122.6 1037.3 129.8 1037.8 137.9 1038.2 146.5 1038.7 155.4 1039.2 164.0 1039.6 172.1 1040.1 179.3 1040.6 185.2 1041.1 189.6 1041.5 192.4 1042.0 193.3 1042.5 192.4 1042.9 189.6 1043.4 185.2 1043.9 179.3 1044.3 172.1 1044.8 164.0 1045.3 155.4 1045.7 146.5 1046.2 137.9 1046.7 129.8 1047.1 122.6 1047.6 116.7 1048.1 112.3 1048.6 109.5 1049.0 108.6 1049.5 109.5 1050.0 112.3 1050.4 116.7 1050.9 122.6 1051.4 129.8 1051.8 137.9 1052.3 146.5 1052.8 155.4 1053.2 164.0 1053.7 172.1 1054.2 179.3 1054.6 185.2 1055.1 189.6 1055.6 192.4 1056.0 193.3 1056.5 192.4 1057.0 189.6 1057.5 185.2 1057.9 179.3 1058.4 172.1 1058.9 164.0 1059.3 155.4 1059.8 146.5 1060.3 137.9 1060.7 129.8 1061.2 122.6 1061.7 116.7 1062.1 112.3 1062.6 109.5 1063.1 108.6 1063.5 109.5 1064.0 112.3 1064.5 116.7 1065.0 122.6 1065.4 129.8 1065.9 137.9 1066.4 146.5 1066.8 155.4 1067.3 164.0 1067.8 172.1 1068.2 179.3 1068.7 185.2 1069.2 189.6 1069.6 192.4 1070.1 193.3 1070.6 192.4 1071.0 189.6 1071.5 185.2 1072.0 179.3 1072.5 172.1 1072.9 164.0 1073.4 155.4 1073.9 146.5 1074.3 137.9 1074.8 129.8 1075.3 122.6 1075.7 116.7 1076.2 112.3 1076.7 109.5 1077.1 108.6 1077.6 109.5 1078.1 112.3 1078.5 116.7 1079.0 122.6 1079.5 129.8 1080.0 137.9 1080.4 146.5 1080.9 155.4 1081.4 164.0 1081.8 172.1 1082.3 179.3 1082.8 185.2 1083.2 189.6 1083.7 192.4 1084.2 193.3 1084.6 192.4 1085.1 189.6 1085.6 185.2 1086.0 179.3 1086.5 172.1 1087.0 164.0 1087.5 155.4 1087.9 146.5 1088.4 137.9 1088.9 129.8 1089.3 122.6 1089.8 116.7 1090.3 112.3 1090.7 109.5 1091.2 108.6 1091.7 109.5 1092.1 112.3 1092.6 116.7 1093.1 122.6 1093.5 129.8 1094.0 137.9 1094.5 146.5 1094.9 155.4 1095.4 164.0 1095.9 172.1 1096.4 179.3 1096.8 185.2 1097.3 189.6 1097.8 192.4 1098.2 193.3 1098.7 192.4 1099.2 189.6 1099.6 185.2 1100.1 179.3 1100.6 172.1 1101.0 164.0 1101.5 155.4 1102.0 146.5 1102.4 137.9 1102.9 129.8 1103.4 122.6 1103.9 116.7 1104.3 112.3 1104.8 109.5 1105.3 108.6 1105.7 109.5 1106.2 112.3 1106.7 116.7 1107.1 122.6 1107.6 129.8 1108.1 137.9 1108.5 146.5 1109.0 155.4 1109.5 164.0 1109.9 172.1 1110.4 179.3 1110.9 185.2 1111.4 189.6 1111.8 192.4 1112.3 193.3 1112.8 192.4 1113.2 189.6 1113.7 185.2 1114.2 179.3 1114.6 172.1 1115.1 164.0 1115.6 155.4 1116.0 146.5 1116.5 137.9 1117.0 129.8 1117.4 122.6 1117.9 116.7 1118.4 112.3 1118.9 109.5 1119.3 108.6 1119.8 109.5 1120.3 112.3 1120.7 116.7 1121.2 122.6 1121.7 129.8 1122.1 137.9 1122.6 146.5 1123.1 155.4 1123.5 164.0 1124.0 172.1 1124.5 179.3 1124.9 185.2 1125.4 189.6 1125.9 192.4 1126.3 193.3 1126.8 192.4 1127.3 189.6 1127.8 185.2 1128.2 179.3 1128.7 172.1 1129.2 164.0 1129.6 155.4 1130.1 146.5 1130.6 137.9 1131.0 129.8 1131.5 122.6 1132.0 116.7 1132.4 112.3 1132.9 109.5 1133.4 108.6 1133.8 109.5 1134.3 112.3 1134.8 116.7 1135.3 122.6 1135.7 129.8 1136.2 137.9 1136.7 146.5 1137.1 155.4 1137.6 164.0 1138.1 172.1 1138.5 179.3 1139.0 185.2 1139.5 189.6 1139.9 192.4 1140.4 193.3 1140.9 192.4 1141.3 189.6 1141.8 185.2 1142.3 179.3 1142.8 172.1 1143.2 164.0 1143.7 155.4 1144.2 146.5 1144.6 137.9 1145.1 129.8 1145.6 122.6 1146.0 116.7 1146.5 112.3 1147.0 109.5 1147.4 108.6 1147.9 109.5 1148.4 112.3 1148.8 116.7 1149.3 122.6 1149.8 129.8 1150.3 137.9 1150.7 146.5 1151.2 155.4 1151.7 164.0 1152.1 172.1 1152.6 179.3 1153.1 185.2 1153.5 189.6 1154.0 192.4 1154.5 193.3 1154.9 192.4 1155.4 189.6 1155.9 185.2 1156.3 179.3 1156.8 172.1 1157.3 164.0 1157.8 155.4 1158.2 146.5 1158.7 137.9 1159.2 129.8 1159.6 122.6 1160.1 116.7 1160.6 112.3 1161.0 109.5 1161.5 108.6 1162.0 109.5 1162.4 112.3 1162.9 116.7 1163.4 122.6 1163.8 129.8 1164.3 137.9 1164.8 146.5 1165.2 155.4 1165.7 164.0 1166.2 172.1 1166.7 179.3 1167.1 185.2 1167.6 189.6 1168.1 192.4 1168.5 193.3 1169.0 192.4 1169.5 189.6 1169.9 185.2 1170.4 179.3 1170.9 172.1 1171.3 164.0 1171.8 155.4 1172.3 146.5 1172.7 137.9 1173.2 129.8 1173.7 122.6 1174.2 116.7 1174.6 112.3 1175.1 109.5 1175.6 108.6 1176.0 109.5 1176.5 112.3 1177.0 116.7 1177.4 122.6 1177.9 129.8 1178.4 137.9 1178.8 146.5 1179.3 155.4 1179.8 164.0 1180.2 172.1 1180.7 179.3 1181.2 185.2 1181.7 189.6 1182.1 192.4 1182.6 193.3 1183.1 192.4 1183.5 189.6 1184.0 185.2 1184.5 179.3 1184.9 172.1 1185.4 164.0 1185.9 155.4 1186.3 146.5 1186.8 137.9 1187.3 129.8 1187.7 122.6 1188.2 116.7 1188.7 112.3 1189.2 109.5 1189.6 108.6 1190.1 109.5 1190.6 112.3 1191.0 116.7 1191.5 122.6 1192.0 129.8 1192.4 137.9 1192.9 146.5 1193.4 155.4 1193.8 164.0 1194.3 172.1 1194.8 179.3 1195.2 185.2 1195.7 189.6 1196.2 192.4 1196.7 193.3 1197.1 192.4 1197.6 189.6 1198.1 185.2 1198.5 179.3 1199.0 172.1 1199.5 164.0 1199.9 155.4 1200.4 146.5 1200.9 137.9 1201.3 129.8 1201.8 122.6 1202.3 116.7 1202.7 112.3 1203.2 109.5 1203.7 108.6 1204.1 109.5 1204.6 112.3 1205.1 116.7 1205.6 122.6 1206.0 129.8 1206.5 137.9 1207.0 146.5 1207.4 155.4 1207.9 164.0 1208.4 172.1 1208.8 179.3 1209.3 185.2 1209.8 189.6 1210.2 192.4 1210.7 193.3 1211.2 192.4 1211.6 189.6 1212.1 185.2 1212.6 179.3 1213.1 172.1 1213.5 164.0 1214.0 155.4 1214.5 146.5 1214.9 137.9 1215.4 129.8 1215.9 122.6 1216.3 116.7 1216.8 112.3 1217.3 109.5 1217.7 108.6 1218.2 109.5 1218.7 112.3 1219.1 116.7 1219.6 122.6 1220.1 129.8 1220.6 137.9 1221.0 146.5 1221.5 155.4 1222.0 164.0 1222.4 172.1 1222.9 179.3 1223.4 185.2 1223.8 189.6 1224.3 192.4 1224.8 193.3 1225.2 192.4 1225.7 189.6 1226.2 185.2 1226.6 179.3 1227.1 172.1 1227.6 164.0 1228.1 155.4 1228.5 146.5 1229.0 137.9 1229.5 129.8 1229.9 122.6 1230.4 116.7 1230.9 112.3 1231.3 109.5 1231.8 108.6 1232.3 109.5 1232.7 112.3 1233.2 116.7 1233.7 122.6 1234.1 129.8 1234.6 137.9 1235.1 146.5 1235.5 155.4 1236.0 164.0 1236.5 172.1 1237.0 179.3 1237.4 185.2 1237.9 189.6 1238.4 192.4 1238.8 193.3 1239.3 192.4 1239.8 189.6 1240.2 185.2 1240.7 179.3 1241.2 172.1 1241.6 164.0 1242.1 155.4 1242.6 146.5 1243.0 137.9 1243.5 129.8 1244.0 122.6 1244.5 116.7 1244.9 112.3 1245.4 109.5 1245.9 108.6 1246.3 109.5 1246.8 112.3 1247.3 116.7 1247.7 122.6 1248.2 129.8 1248.7 137.9 1249.1 146.5 1249.6 155.4 1250.1 164.0 1250.5 172.1 1251.0 179.3 1251.5 185.2 1252.0 189.6 1252.4 192.4 1252.9 193.3 1253.4 192.4 1253.8 189.6 1254.3 185.2 1254.8 179.3 1255.2 172.1 1255.7 164.0 1256.2 155.4 1256.6 146.5 1257.1 137.9 1257.6 129.8 1258.0 122.6 1258.5 116.7 1259.0 112.3 1259.5 109.5 1259.9 108.6 1260.4 109.5 1260.9 112.3 1261.3 116.7 1261.8 122.6 1262.3 129.8 1262.7 137.9 1263.2 146.5 1263.7 155.4 1264.1 164.0 1264.6 172.1 1265.1 179.3 1265.5 185.2 1266.0 189.6 1266.5 192.4 1267.0 193.3 1267.4 192.4 1267.9 189.6 1268.4 185.2 1268.8 179.3 1269.3 172.1 1269.8 164.0 1270.2 155.4 1270.7 146.5 1271.2 137.9 1271.6 129.8 1272.1 122.6 1272.6 116.7 1273.0 112.3 1273.5 109.5 1274.0 108.6 1274.4 109.5 1274.9 112.3 1275.4 116.7 1275.9 122.6 1276.3 129.8 1276.8 137.9 1277.3 146.5 1277.7 155.4 1278.2 164.0 1278.7 172.1 1279.1 179.3 1279.6 185.2 1280.1 189.6 1280.5 192.4 1281.0 193.3 1281.5 192.4 1281.9 189.6 1282.4 185.2 1282.9 179.3 1283.4 172.1 1283.8 164.0 1284.3 155.4 1284.8 146.5 1285.2 137.9 1285.7 129.8 1286.2 122.6 1286.6 116.7 1287.1 112.3 1287.6 109.5 1288.0 108.6 1288.5 109.5 1289.0 112.3 1289.4 116.7 1289.9 122.6 1290.4 129.8 1290.9 137.9 1291.3 146.5 1291.8 155.4 1292.3 164.0 1292.7 172.1 1293.2 179.3 1293.7 185.2 1294.1 189.6 1294.6 192.4 1295.1 193.3 1295.5 192.4 1296.0 189.6 1296.5 185.2 1296.9 179.3 1297.4 172.1 1297.9 164.0 1298.4 155.4 1298.8 146.5 1299.3 137.9 1299.8 129.8 1300.2 122.6 1300.7 116.7 1301.2 112.3 1301.6 109.5 1302.1 108.6 1302.6 109.5 1303.0 112.3 1303.5 116.7 1304.0 122.6 1304.4 129.8 1304.9 137.9 1305.4 146.5 1305.8 155.4 1306.3 164.0 1306.8 172.1 1307.3 179.3 1307.7 185.2 1308.2 189.6 1308.7 192.4 1309.1 193.3 1309.6 192.4 1310.1 189.6 1310.5 185.2 1311.0 179.3 1311.5 172.1 1311.9 164.0 1312.4 155.4 1312.9 146.5 1313.3 137.9 1313.8 129.8 1314.3 122.6 1314.8 116.7 1315.2 112.3 1315.7 109.5 1316.2 108.6 1316.6 109.5 1317.1 112.3 1317.6 116.7 1318.0 122.6 1318.5 129.8 1319.0 137.9 1319.4 146.5 1319.9 155.4 1320.4 164.0 1320.8 172.1 1321.3 179.3 1321.8 185.2 1322.3 189.6 1322.7 192.4 1323.2 193.3 1323.7 192.4 1324.1 189.6 1324.6 185.2 1325.1 179.3 1325.5 172.1 1326.0 164.0 1326.5 155.4 1326.9 146.5 1327.4 137.9 1327.9 129.8 1328.3 122.6 1328.8 116.7 1329.3 112.3 1329.8 109.5 1330.2 108.6 1330.7 109.5 1331.2 112.3 1331.6 116.7 1332.1 122.6 1332.6 129.8 1333.0 137.9 1333.5 146.5 1334.0 155.4 1334.4 164.0 1334.9 172.1 1335.4 179.3 1335.8 185.2 1336.3 189.6 1336.8 192.4 1337.2 193.3 1337.7 192.4 1338.2 189.6 1338.7 185.2 1339.1 179.3 1339.6 172.1 1340.1 164.0 1340.5 155.4 1341.0 146.5 1341.5 137.9 1341.9 129.8 1342.4 122.6 1342.9 116.7 1343.3 112.3 1343.8 109.5 1344.3 108.6 1344.7 109.5 1345.2 112.3 1345.7 116.7 1346.2 122.6 1346.6 129.8 1347.1 137.9 1347.6 146.5 1348.0 155.4 1348.5 164.0 1349.0 172.1 1349.4 179.3 1349.9 185.2 1350.4 189.6 1350.8 192.4 1351.3 193.3 1351.8 192.4 1352.2 189.6 1352.7 185.2 1353.2 179.3 1353.7 172.1 1354.1 164.0 1354.6 155.4 1355.1 146.5 1355.5 137.9 1356.0 129.8 1356.5 122.6 1356.9 116.7 1357.4 112.3 1357.9 109.5 1358.3 108.6 1358.8 109.5 1359.3 112.3 1359.7 116.7 1360.2 122.6 1360.7 129.8 1361.2 137.9 1361.6 146.5 1362.1 155.4 1362.6 164.0 1363.0 172.1 1363.5 179.3 1364.0 185.2 1364.4 189.6 1364.9 192.4 1365.4 193.3 1365.8 192.4 1366.3 189.6 1366.8 185.2 1367.2 179.3 1367.7 172.1 1368.2 164.0 1368.7 155.4 1369.1 146.5 1369.6 137.9 1370.1 129.8 1370.5 122.6 1371.0 116.7 1371.5 112.3 1371.9 109.5 1372.4 108.6 1372.9 109.5 1373.3 112.3 1373.8 116.7 1374.3 122.6 1374.7 129.8 1375.2 137.9 1375.7 146.5 1376.1 155.4 1376.6 164.0 1377.1 172.1 1377.6 179.3 1378.0 185.2 1378.5 189.6 1379.0 192.4 1379.4 193.3 1379.9 192.4 1380.4 189.6 1380.8 185.2 1381.3 179.3 1381.8 172.1 1382.2 164.0 1382.7 155.4 1383.2 146.5 1383.6 137.9 1384.1 129.8 1384.6 122.6 1385.1 116.7 1385.5 112.3 1386.0 109.5 1386.5 108.6 1386.9 109.5 1387.4 112.3 1387.9 116.7 1388.3 122.6 1388.8 129.8 1389.3 137.9 1389.7 146.5 1390.2 155.4 1390.7 164.0 1391.1 172.1 1391.6 179.3 1392.1 185.2 1392.6 189.6 1393.0 192.4 1393.5 193.3 1394.0 192.4 1394.4 189.6 1394.9 185.2 1395.4 179.3 1395.8 172.1 1396.3 164.0 1396.8 155.4 1397.2 146.5 1397.7 137.9 1398.2 129.8 1398.6 122.6 1399.1 116.7 1399.6 112.3 1400.1 109.5 1400.5 108.6 1401.0 109.5 1401.5 112.3 1401.9 116.7 1402.4 122.6 1402.9 129.8 1403.3 137.9 1403.8 146.5 1404.3 155.4 1404.7 164.0 1405.2 172.1 1405.7 179.3 1406.1 185.2 1406.6 189.6 1407.1 192.4 1407.5 193.3 1408.0 192.4 1408.5 189.6 1409.0 185.2 1409.4 179.3 1409.9 172.1 1410.4 164.0 1410.8 155.4 1411.3 146.5 1411.8 137.9 1412.2 129.8 1412.7 122.6 1413.2 116.7 1413.6 112.3 1414.1 109.5 1414.6 108.6 1415.0 109.5 1415.5 112.3 1416.0 116.7 1416.5 122.6 1416.9 129.8 1417.4 137.9 1417.9 146.5 1418.3 155.4 1418.8 164.0 1419.3 172.1 1419.7 179.3 1420.2 185.2 1420.7 189.6 1421.1 192.4 1421.6 193.3 1422.1 192.4 1422.5 189.6 1423.0 185.2 1423.5 179.3 1424.0 172.1 1424.4 164.0 1424.9 155.4 1425.4 146.5 1425.8 137.9 1426.3 129.8 1426.8 122.6 1427.2 116.7 1427.7 112.3 1428.2 109.5 1428.6 108.6 1429.1 109.5 1429.6 112.3 1430.0 116.7 1430.5 122.6 1431.0 129.8 1431.5 137.9 1431.9 146.5 1432.4 155.4 1432.9 164.0 1433.3 172.1 1433.8 179.3 1434.3 185.2 1434.7 189.6 1435.2 192.4 1435.7 193.3 1436.1 192.4 1436.6 189.6 1437.1 185.2 1437.5 179.3 1438.0 172.1 1438.5 164.0 1439.0 155.4 1439.4 146.5 1439.9 137.9 1440.4 129.8 1440.8 122.6 1441.3 116.7 1441.8 112.3 1442.2 109.5 1442.7 108.6 1443.2 109.5 1443.6 112.3 1444.1 116.7 1444.6 122.6 1445.0 129.8 1445.5 137.9 1446.0 146.5 1446.4 155.4 1446.9 164.0 1447.4 172.1 1447.9 179.3 1448.3 185.2 1448.8 189.6 1449.3 192.4 1449.7 193.3 1450.2 192.4 1450.7 189.6 1451.1 185.2 1451.6 179.3 1452.1 172.1 1452.5 164.0 1453.0 155.4 1453.5 146.5 1453.9 137.9 1454.4 129.8 1454.9 122.6 1455.4 116.7 1455.8 112.3 1456.3 109.5 1456.8 108.6 1457.2 109.5 1457.7 112.3 1458.2 116.7 1458.6 122.6 1459.1 129.8 1459.6 137.9 1460.0 146.5 1460.5 155.4 1461.0 164.0 1461.4 172.1 1461.9 179.3 1462.4 185.2 1462.9 189.6 1463.3 192.4 1463.8 193.3 1464.3 192.4 1464.7 189.6 1465.2 185.2 1465.7 179.3 1466.1 172.1 1466.6 164.0 1467.1 155.4 1467.5 146.5 1468.0 137.9 1468.5 129.8 1468.9 122.6 1469.4 116.7 1469.9 112.3 1470.4 109.5 1470.8 108.6 1471.3 109.5 1471.8 112.3 1472.2 116.7 1472.7 122.6 1473.2 129.8 1473.6 137.9 1474.1 146.5 1474.6 155.4 1475.0 164.0 1475.5 172.1 1476.0 179.3 1476.4 185.2 1476.9 189.6 1477.4 192.4 1477.8 193.3 1478.3 192.4 1478.8 189.6 1479.3 185.2 1479.7 179.3 1480.2 172.1 1480.7 164.0 1481.1 155.4 1481.6 146.5 1482.1 137.9 1482.5 129.8 1483.0 122.6 1483.5 116.7 1483.9 112.3 1484.4 109.5 1484.9 108.6 1485.3 109.5 1485.8 112.3 1486.3 116.7 1486.8 122.6 1487.2 129.8 1487.7 137.9 1488.2 146.5 1488.6 155.4 1489.1 164.0 1489.6 172.1 1490.0 179.3 1490.5 185.2 1491.0 189.6 1491.4 192.4 1491.9 193.3 1492.4 192.4 1492.8 189.6 1493.3 185.2 1493.8 179.3 1494.3 172.1 1494.7 164.0 1495.2 155.4 1495.7 146.5 1496.1 137.9 1496.6 129.8 1497.1 122.6 1497.5 116.7 1498.0 112.3 1498.5 109.5 1498.9 108.6 1499.4 109.5 1499.9 112.3 1500.3 116.7 1500.8 122.6 1501.3 129.8 1501.8 137.9 1502.2 146.5 1502.7 155.4 1503.2 164.0 1503.6 172.1 1504.1 179.3 1504.6 185.2 1505.0 189.6 1505.5 192.4 1506.0 193.3 1506.4 192.4 1506.9 189.6 1507.4 185.2 1507.8 179.3 1508.3 172.1 1508.8 164.0 1509.3 155.4 1509.7 146.5 1510.2 137.9 1510.7 129.8 1511.1 122.6 1511.6 116.7 1512.1 112.3 1512.5 109.5 1513.0 108.6 1513.5 109.5 1513.9 112.3 1514.4 116.7 1514.9 122.6 1515.3 129.8 1515.8 137.9 1516.3 146.5 1516.7 155.4 1517.2 164.0 1517.7 172.1 1518.2 179.3 1518.6 185.2 1519.1 189.6 1519.6 192.4 1520.0 193.3 1520.5 192.4 1521.0 189.6 1521.4 185.2 1521.9 179.3 1522.4 172.1 1522.8 164.0 1523.3 155.4 1523.8 146.5 1524.2 137.9 1524.7 129.8 1525.2 122.6 1525.7 116.7 1526.1 112.3 1526.6 109.5 1527.1 108.6 1527.5 109.5 1528.0 112.3 1528.5 116.7 1528.9 122.6 1529.4 129.8 1529.9 137.9 1530.3 146.5 1530.8 155.4 1531.3 164.0 1531.7 172.1 1532.2 179.3 1532.7 185.2 1533.2 189.6 1533.6 192.4 1534.1 193.3 1534.6 192.4 1535.0 189.6 1535.5 185.2 1536.0 179.3 1536.4 172.1 1536.9 164.0 1537.4 155.4 1537.8 146.5 1538.3 137.9 1538.8 129.8 1539.2 122.6 1539.7 116.7 1540.2 112.3 1540.7 109.5 1541.1 108.6 1541.6 109.5 1542.1 112.3 1542.5 116.7 1543.0 122.6 1543.5 129.8 1543.9 137.9 1544.4 146.5 1544.9 155.4 1545.3 164.0 1545.8 172.1 1546.3 179.3 1546.7 185.2 1547.2 189.6 1547.7 192.4 1548.1 193.3 1548.6 192.4 1549.1 189.6 1549.6 185.2 1550.0 179.3 1550.5 172.1 1551.0 164.0 1551.4 155.4 1551.9 146.5 1552.4 137.9 1552.8 129.8 1553.3 122.6 1553.8 116.7 1554.2 112.3 1554.7 109.5 1555.2 108.6 1555.6 109.5 1556.1 112.3 1556.6 116.7 1557.1 122.6 1557.5 129.8 1558.0 137.9 1558.5 146.5 1558.9 155.4 1559.4 164.0 1559.9 172.1 1560.3 179.3 1560.8 185.2 1561.3 189.6 1561.7 192.4 1562.2 193.3 1562.7 192.4 1563.1 189.6 1563.6 185.2 1564.1 179.3 1564.6 172.1 1565.0 164.0 1565.5 155.4 1566.0 146.5 1566.4 137.9 1566.9 129.8 1567.4 122.6 1567.8 116.7 1568.3 112.3 1568.8 109.5 1569.2 108.6 1569.7 109.5 1570.2 112.3 1570.6 116.7 1571.1 122.6 1571.6 129.8 1572.1 137.9 1572.5 146.5 1573.0 155.4 1573.5 164.0 1573.9 172.1 1574.4 179.3 1574.9 185.2 1575.3 189.6 1575.8 192.4 1576.3 193.3 1576.7 192.4 1577.2 189.6 1577.7 185.2 1578.1 179.3 1578.6 172.1 1579.1 164.0 1579.6 155.4 1580.0 146.5 1580.5 137.9 1581.0 129.8 1581.4 122.6 1581.9 116.7 1582.4 112.3 1582.8 109.5 1583.3 108.6 1583.8 109.5 1584.2 112.3 1584.7 116.7 1585.2 122.6 1585.6 129.8 1586.1 137.9 1586.6 146.5 1587.0 155.4 1587.5 164.0 1588.0 172.1 1588.5 179.3 1588.9 185.2 1589.4 189.6 1589.9 192.4 1590.3 193.3 1590.8 192.4 1591.3 189.6 1591.7 185.2 1592.2 179.3 1592.7 172.1 1593.1 164.0 1593.6 155.4 1594.1 146.5 1594.5 137.9 1595.0 129.8 1595.5 122.6 1596.0 116.7 1596.4 112.3 1596.9 109.5 1597.4 108.6 1597.8 109.5 1598.3 112.3 1598.8 116.7 1599.2 122.6 1599.7 129.8 1600.2 137.9 1600.6 146.5 1601.1 155.4 1601.6 164.0 1602.0 172.1 1602.5 179.3 1603.0 185.2 1603.5 189.6 1603.9 192.4 1604.4 193.3 1604.9 192.4 1605.3 189.6 1605.8 185.2 1606.3 179.3 1606.7 172.1 1607.2 164.0 1607.7 155.4 1608.1 146.5 1608.6 137.9 1609.1 129.8 1609.5 122.6 1610.0 116.7 1610.5 112.3 1611.0 109.5 1611.4 108.6 1611.9 109.5 1612.4 112.3 1612.8 116.7 1613.3 122.6 1613.8 129.8 1614.2 137.9 1614.7 146.5 1615.2 155.4 1615.6 164.0 1616.1 172.1 1616.6 179.3 1617.0 185.2 1617.5 189.6 1618.0 192.4 1618.5 193.3 1618.9 192.4 1619.4 189.6 1619.9 185.2 1620.3 179.3 1620.8 172.1 1621.3 164.0 1621.7 155.4 1622.2 146.5 1622.7 137.9 1623.1 129.8 1623.6 122.6 1624.1 116.7 1624.5 112.3 1625.0 109.5 1625.5 108.6 1625.9 109.5 1626.4 112.3 1626.9 116.7 1627.4 122.6 1627.8 129.8 1628.3 137.9 1628.8 146.5 1629.2 155.4 1629.7 164.0 1630.2 172.1 1630.6 179.3 1631.1 185.2 1631.6 189.6 1632.0 192.4 1632.5 193.3 1633.0 192.4 1633.4 189.6 1633.9 185.2 1634.4 179.3 1634.9 172.1 1635.3 164.0 1635.8 155.4 1636.3 146.5 1636.7 137.9 1637.2 129.8 1637.7 122.6 1638.1 116.7 1638.6 112.3 1639.1 109.5 1639.5 108.6 1640.0 108.6 1640.4 108.6 1640.8 108.6 1641.3 108.6 1641.7 108.6" stroke="#c44444" stroke-width="3.0" fill="none" stroke-linejoin="round"/>
<path d="M238.5 344.8L239.0 344.8 239.5 344.8 240.0 344.8 240.5 344.8 241.0 344.8 241.5 344.8 242.0 344.8 242.5 344.8 243.0 344.8 243.5 344.8 244.0 344.8 244.5 344.8 245.0 344.8 245.5 344.8 245.9 344.6 246.4 344.2 246.8 343.5 247.2 342.9 247.7 342.4 248.1 342.2 248.6 342.3 249.0 342.7 249.5 343.3 250.0 344.1 250.4 345.0 250.9 346.1 251.4 347.2 251.8 348.4 252.3 349.6 252.8 350.6 253.3 351.6 253.7 352.4 254.2 353.0 254.7 353.3 255.1 353.4 255.6 353.2 256.1 352.4 256.5 351.1 257.0 349.3 257.5 347.2 257.9 344.8 258.4 342.3 258.9 339.7 259.3 337.1 259.8 334.7 260.3 332.6 260.8 330.9 261.2 329.6 261.7 328.8 262.2 328.5 262.6 328.9 263.1 330.2 263.6 332.3 264.0 335.1 264.5 338.4 265.0 342.2 265.4 346.3 265.9 350.5 266.4 354.6 266.8 358.4 267.3 361.7 267.8 364.5 268.3 366.6 268.7 367.9 269.2 368.3 269.7 367.8 270.1 366.1 270.6 363.5 271.1 360.0 271.5 355.7 272.0 350.9 272.5 345.7 272.9 340.4 273.4 335.2 273.9 330.4 274.3 326.1 274.8 322.6 275.3 320.0 275.8 318.3 276.2 317.8 276.7 318.4 277.2 320.3 277.6 323.5 278.1 327.6 278.6 332.6 279.0 338.3 279.5 344.4 280.0 350.6 280.4 356.7 280.9 362.4 281.4 367.4 281.8 371.6 282.3 374.7 282.8 376.6 283.2 377.2 283.7 376.5 284.2 374.3 284.7 370.8 285.1 366.2 285.6 360.5 286.1 354.1 286.5 347.2 287.0 340.2 287.5 333.4 287.9 327.0 288.4 321.3 288.9 316.6 289.3 313.1 289.8 310.9 290.3 310.2 290.7 311.0 291.2 313.2 291.7 316.9 292.2 321.7 292.6 327.6 293.1 334.2 293.6 341.4 294.0 348.6 294.5 355.7 295.0 362.4 295.4 368.3 295.9 373.1 296.4 376.8 296.8 379.0 297.3 379.8 297.8 379.0 298.2 376.8 298.7 373.2 299.2 368.4 299.7 362.5 300.1 356.0 300.6 348.9 301.1 341.7 301.5 334.7 302.0 328.1 302.5 322.3 302.9 317.5 303.4 313.9 303.9 311.6 304.3 310.9 304.8 311.6 305.3 313.8 305.7 317.3 306.2 322.0 306.7 327.6 307.2 334.0 307.6 340.9 308.1 347.9 308.6 354.8 309.0 361.2 309.5 366.8 310.0 371.5 310.4 375.0 310.9 377.2 311.4 377.9 311.8 377.2 312.3 375.2 312.8 371.9 313.2 367.4 313.7 362.1 314.2 356.0 314.7 349.5 315.1 342.9 315.6 336.4 316.1 330.3 316.5 324.9 317.0 320.5 317.5 317.2 317.9 315.1 318.4 314.4 318.9 315.1 319.3 317.0 319.8 320.1 320.3 324.2 320.7 329.2 321.2 334.8 321.7 340.9 322.1 347.0 322.6 353.1 323.1 358.7 323.6 363.7 324.0 367.8 324.5 370.9 325.0 372.8 325.4 373.5 325.9 372.9 326.4 371.1 326.8 368.2 327.3 364.4 327.8 359.7 328.2 354.5 328.7 348.9 329.2 343.1 329.6 337.5 330.1 332.3 330.6 327.6 331.1 323.8 331.5 320.9 332.0 319.1 332.5 318.5 332.9 319.1 333.4 320.7 333.9 323.4 334.3 327.0 334.8 331.4 335.3 336.3 335.7 341.5 336.2 346.9 336.7 352.2 337.1 357.1 337.6 361.4 338.1 365.0 338.6 367.7 339.0 369.4 339.5 369.9 340.0 369.4 340.4 367.9 340.9 365.4 341.4 362.0 341.8 358.0 342.3 353.4 342.8 348.5 343.2 343.5 343.7 338.6 344.2 334.0 344.6 330.0 345.1 326.6 345.6 324.1 346.1 322.6 346.5 322.1 347.0 322.6 347.5 324.1 347.9 326.5 348.4 329.7 348.9 333.6 349.3 338.0 349.8 342.7 350.3 347.5 350.7 352.2 351.2 356.6 351.7 360.5 352.1 363.7 352.6 366.1 353.1 367.6 353.6 368.1 354.0 367.6 354.5 366.2 355.0 363.9 355.4 360.8 355.9 357.0 356.4 352.8 356.8 348.3 357.3 343.6 357.8 339.1 358.2 334.9 358.7 331.1 359.2 328.0 359.6 325.7 360.1 324.3 360.6 323.8 361.0 324.3 361.5 325.6 362.0 327.9 362.5 330.8 362.9 334.4 363.4 338.5 363.9 342.9 364.3 347.3 364.8 351.7 365.3 355.7 365.7 359.3 366.2 362.3 366.7 364.5 367.1 365.9 367.6 366.4 368.1 365.9 368.5 364.5 369.0 362.3 369.5 359.3 370.0 355.7 370.4 351.6 370.9 347.3 371.4 342.8 371.8 338.4 372.3 334.4 372.8 330.7 373.2 327.8 373.7 325.5 374.2 324.2 374.6 323.7 375.1 324.1 375.6 325.5 376.0 327.7 376.5 330.7 377.0 334.3 377.5 338.3 377.9 342.7 378.4 347.1 378.9 351.4 379.3 355.5 379.8 359.1 380.3 362.0 380.7 364.2 381.2 365.6 381.7 366.1 382.1 365.6 382.6 364.2 383.1 362.0 383.5 359.0 384.0 355.4 384.5 351.3 385.0 346.9 385.4 342.5 385.9 338.1 386.4 334.0 386.8 330.4 387.3 327.4 387.8 325.2 388.2 323.8 388.7 323.3 389.2 323.8 389.6 325.1 390.1 327.3 390.6 330.3 391.0 333.8 391.5 337.8 392.0 342.1 392.4 346.5 392.9 350.8 393.4 354.8 393.9 358.3 394.3 361.2 394.8 363.4 395.3 364.8 395.7 365.2 396.2 364.8 396.7 363.4 397.1 361.2 397.6 358.3 398.1 354.8 398.5 350.8 399.0 346.5 399.5 342.1 399.9 337.8 400.4 333.8 400.9 330.2 401.4 327.3 401.8 325.1 402.3 323.8 402.8 323.3 403.2 323.8 403.7 325.1 404.2 327.3 404.6 330.2 405.1 333.7 405.6 337.7 406.0 342.0 406.5 346.3 407.0 350.6 407.4 354.6 407.9 358.1 408.4 361.0 408.9 363.2 409.3 364.5 409.8 365.0 410.3 364.5 410.7 363.2 411.2 361.0 411.7 358.1 412.1 354.6 412.6 350.6 413.1 346.3 413.5 342.0 414.0 337.7 414.5 333.7 414.9 330.2 415.4 327.3 415.9 325.1 416.4 323.8 416.8 323.3 417.3 323.8 417.8 325.1 418.2 327.3 418.7 330.2 419.2 333.7 419.6 337.7 420.1 342.0 420.6 346.3 421.0 350.6 421.5 354.6 422.0 358.1 422.4 361.0 422.9 363.2 423.4 364.6 423.9 365.0 424.3 364.6 424.8 363.2 425.3 361.0 425.7 358.1 426.2 354.6 426.7 350.6 427.1 346.3 427.6 342.0 428.1 337.7 428.5 333.8 429.0 330.2 429.5 327.3 429.9 325.1 430.4 323.8 430.9 323.3 431.3 323.8 431.8 325.1 432.3 327.3 432.8 330.2 433.2 333.8 433.7 337.7 434.2 342.0 434.6 346.4 435.1 350.6 435.6 354.6 436.0 358.1 436.5 361.0 437.0 363.2 437.4 364.6 437.9 365.0 438.4 364.6 438.8 363.2 439.3 361.0 439.8 358.1 440.3 354.6 440.7 350.6 441.2 346.4 441.7 342.0 442.1 337.7 442.6 333.8 443.1 330.2 443.5 327.3 444.0 325.1 444.5 323.8 444.9 323.3 445.4 323.8 445.9 325.1 446.3 327.3 446.8 330.2 447.3 333.8 447.8 337.7 448.2 342.0 448.7 346.4 449.2 350.6 449.6 354.6 450.1 358.1 450.6 361.0 451.0 363.2 451.5 364.6 452.0 365.0 452.4 364.6 452.9 363.2 453.4 361.0 453.8 358.1 454.3 354.6 454.8 350.6 455.3 346.4 455.7 342.0 456.2 337.7 456.7 333.8 457.1 330.2 457.6 327.3 458.1 325.2 458.5 323.8 459.0 323.4 459.5 323.8 459.9 325.2 460.4 327.3 460.9 330.2 461.3 333.8 461.8 337.8 462.3 342.0 462.7 346.4 463.2 350.6 463.7 354.6 464.2 358.1 464.6 361.0 465.1 363.2 465.6 364.6 466.0 365.0 466.5 364.6 467.0 363.2 467.4 361.0 467.9 358.1 468.4 354.6 468.8 350.6 469.3 346.4 469.8 342.0 470.2 337.8 470.7 333.8 471.2 330.3 471.7 327.3 472.1 325.2 472.6 323.8 473.1 323.4 473.5 323.8 474.0 325.2 474.5 327.3 474.9 330.3 475.4 333.8 475.9 337.8 476.3 342.0 476.8 346.4 477.3 350.6 477.7 354.6 478.2 358.1 478.7 361.1 479.2 363.2 479.6 364.6 480.1 365.0 480.6 364.6 481.0 363.2 481.5 361.1 482.0 358.1 482.4 354.6 482.9 350.6 483.4 346.4 483.8 342.0 484.3 337.8 484.8 333.8 485.2 330.3 485.7 327.4 486.2 325.2 486.7 323.8 487.1 323.4 487.6 323.8 488.1 325.2 488.5 327.4 489.0 330.3 489.5 333.8 489.9 337.8 490.4 342.0 490.9 346.4 491.3 350.6 491.8 354.6 492.3 358.1 492.7 361.1 493.2 363.2 493.7 364.6 494.1 365.0 494.6 364.6 495.1 363.2 495.6 361.1 496.0 358.1 496.5 354.6 497.0 350.6 497.4 346.4 497.9 342.0 498.4 337.8 498.8 333.8 499.3 330.3 499.8 327.4 500.2 325.2 500.7 323.8 501.2 323.4 501.6 323.8 502.1 325.2 502.6 327.4 503.1 330.3 503.5 333.8 504.0 337.8 504.5 342.0 504.9 346.4 505.4 350.6 505.9 354.6 506.3 358.2 506.8 361.1 507.3 363.2 507.7 364.6 508.2 365.0 508.7 364.6 509.1 363.2 509.6 361.1 510.1 358.2 510.6 354.6 511.0 350.7 511.5 346.4 512.0 342.0 512.4 337.8 512.9 333.8 513.4 330.3 513.8 327.4 514.3 325.2 514.8 323.9 515.2 323.4 515.7 323.9 516.2 325.2 516.6 327.4 517.1 330.3 517.6 333.8 518.1 337.8 518.5 342.0 519.0 346.4 519.5 350.7 519.9 354.6 520.4 358.2 520.9 361.1 521.3 363.2 521.8 364.6 522.3 365.0 522.7 364.6 523.2 363.2 523.7 361.1 524.1 358.2 524.6 354.6 525.1 350.7 525.6 346.4 526.0 342.1 526.5 337.8 527.0 333.8 527.4 330.3 527.9 327.4 528.4 325.2 528.8 323.9 529.3 323.4 529.8 323.9 530.2 325.2 530.7 327.4 531.2 330.3 531.6 333.8 532.1 337.8 532.6 342.1 533.0 346.4 533.5 350.7 534.0 354.6 534.5 358.2 534.9 361.1 535.4 363.3 535.9 364.6 536.3 365.1 536.8 364.6 537.3 363.3 537.7 361.1 538.2 358.2 538.7 354.6 539.1 350.7 539.6 346.4 540.1 342.1 540.5 337.8 541.0 333.8 541.5 330.3 542.0 327.4 542.4 325.2 542.9 323.9 543.4 323.4 543.8 323.9 544.3 325.2 544.8 327.4 545.2 330.3 545.7 333.8 546.2 337.8 546.6 342.1 547.1 346.4 547.6 350.7 548.0 354.6 548.5 358.2 549.0 361.1 549.5 363.3 549.9 364.6 550.4 365.1 550.9 364.6 551.3 363.3 551.8 361.1 552.3 358.2 552.7 354.7 553.2 350.7 553.7 346.4 554.1 342.1 554.6 337.8 555.1 333.8 555.5 330.3 556.0 327.4 556.5 325.2 557.0 323.9 557.4 323.4 557.9 323.9 558.4 325.2 558.8 327.4 559.3 330.3 559.8 333.8 560.2 337.8 560.7 342.1 561.2 346.4 561.6 350.7 562.1 354.7 562.6 358.2 563.0 361.1 563.5 363.3 564.0 364.6 564.5 365.1 564.9 364.6 565.4 363.3 565.9 361.1 566.3 358.2 566.8 354.7 567.3 350.7 567.7 346.4 568.2 342.1 568.7 337.8 569.1 333.8 569.6 330.3 570.1 327.4 570.5 325.2 571.0 323.9 571.5 323.4 571.9 323.9 572.4 325.2 572.9 327.4 573.4 330.3 573.8 333.8 574.3 337.8 574.8 342.1 575.2 346.4 575.7 350.7 576.2 354.7 576.6 358.2 577.1 361.1 577.6 363.3 578.0 364.6 578.5 365.1 579.0 364.6 579.4 363.3 579.9 361.1 580.4 358.2 580.9 354.7 581.3 350.7 581.8 346.4 582.3 342.1 582.7 337.8 583.2 333.9 583.7 330.3 584.1 327.4 584.6 325.2 585.1 323.9 585.5 323.4 586.0 323.9 586.5 325.2 586.9 327.4 587.4 330.3 587.9 333.9 588.4 337.8 588.8 342.1 589.3 346.4 589.8 350.7 590.2 354.7 590.7 358.2 591.2 361.1 591.6 363.3 592.1 364.6 592.6 365.1 593.0 364.6 593.5 363.3 594.0 361.1 594.4 358.2 594.9 354.7 595.4 350.7 595.9 346.4 596.3 342.1 596.8 337.8 597.3 333.9 597.7 330.3 598.2 327.4 598.7 325.3 599.1 323.9 599.6 323.5 600.1 323.9 600.5 325.3 601.0 327.4 601.5 330.3 601.9 333.9 602.4 337.8 602.9 342.1 603.3 346.4 603.8 350.7 604.3 354.7 604.8 358.2 605.2 361.1 605.7 363.3 606.2 364.6 606.6 365.1 607.1 364.6 607.6 363.3 608.0 361.1 608.5 358.2 609.0 354.7 609.4 350.7 609.9 346.4 610.4 342.1 610.8 337.8 611.3 333.9 611.8 330.4 612.3 327.4 612.7 325.3 613.2 323.9 613.7 323.5 614.1 323.9 614.6 325.3 615.1 327.4 615.5 330.4 616.0 333.9 616.5 337.8 616.9 342.1 617.4 346.5 617.9 350.7 618.3 354.7 618.8 358.2 619.3 361.1 619.8 363.3 620.2 364.6 620.7 365.1 621.2 364.6 621.6 363.3 622.1 361.1 622.6 358.2 623.0 354.7 623.5 350.7 624.0 346.5 624.4 342.1 624.9 337.9 625.4 333.9 625.8 330.4 626.3 327.5 626.8 325.3 627.3 323.9 627.7 323.5 628.2 323.9 628.7 325.3 629.1 327.5 629.6 330.4 630.1 333.9 630.5 337.9 631.0 342.1 631.5 346.5 631.9 350.7 632.4 354.7 632.9 358.2 633.3 361.1 633.8 363.3 634.3 364.6 634.8 365.1 635.2 364.6 635.7 363.3 636.2 361.1 636.6 358.2 637.1 354.7 637.6 350.7 638.0 346.5 638.5 342.1 639.0 337.9 639.4 333.9 639.9 330.4 640.4 327.5 640.8 325.3 641.3 323.9 641.8 323.5 642.2 323.9 642.7 325.3 643.2 327.5 643.7 330.4 644.1 333.9 644.6 337.9 645.1 342.1 645.5 346.5 646.0 350.7 646.5 354.7 646.9 358.2 647.4 361.1 647.9 363.3 648.3 364.6 648.8 365.1 649.3 364.6 649.7 363.3 650.2 361.1 650.7 358.2 651.2 354.7 651.6 350.7 652.1 346.5 652.6 342.1 653.0 337.9 653.5 333.9 654.0 330.4 654.4 327.5 654.9 325.3 655.4 324.0 655.8 323.5 656.3 324.0 656.8 325.3 657.2 327.5 657.7 330.4 658.2 333.9 658.7 337.9 659.1 342.1 659.6 346.5 660.1 350.7 660.5 354.7 661.0 358.2 661.5 361.1 661.9 363.3 662.4 364.6 662.9 365.1 663.3 364.6 663.8 363.3 664.3 361.1 664.7 358.2 665.2 354.7 665.7 350.7 666.2 346.5 666.6 342.1 667.1 337.9 667.6 333.9 668.0 330.4 668.5 327.5 669.0 325.3 669.4 324.0 669.9 323.5 670.4 324.0 670.8 325.3 671.3 327.5 671.8 330.4 672.2 333.9 672.7 337.9 673.2 342.1 673.6 346.5 674.1 350.7 674.6 354.7 675.1 358.2 675.5 361.1 676.0 363.3 676.5 364.7 676.9 365.1 677.4 364.7 677.9 363.3 678.3 361.1 678.8 358.2 679.3 354.7 679.7 350.7 680.2 346.5 680.7 342.1 681.1 337.9 681.6 333.9 682.1 330.4 682.6 327.5 683.0 325.3 683.5 324.0 684.0 323.5 684.4 324.0 684.9 325.3 685.4 327.5 685.8 330.4 686.3 333.9 686.8 337.9 687.2 342.1 687.7 346.5 688.2 350.7 688.6 354.7 689.1 358.2 689.6 361.1 690.1 363.3 690.5 364.7 691.0 365.1 691.5 364.7 691.9 363.3 692.4 361.1 692.9 358.2 693.3 354.7 693.8 350.7 694.3 346.5 694.7 342.2 695.2 337.9 695.7 333.9 696.1 330.4 696.6 327.5 697.1 325.3 697.6 324.0 698.0 323.5 698.5 324.0 699.0 325.3 699.4 327.5 699.9 330.4 700.4 333.9 700.8 337.9 701.3 342.2 701.8 346.5 702.2 350.8 702.7 354.7 703.2 358.2 703.6 361.1 704.1 363.3 704.6 364.7 705.0 365.1 705.5 364.7 706.0 363.3 706.5 361.1 706.9 358.2 707.4 354.7 707.9 350.8 708.3 346.5 708.8 342.2 709.3 337.9 709.7 333.9 710.2 330.4 710.7 327.5 711.1 325.3 711.6 324.0 712.1 323.5 712.5 324.0 713.0 325.3 713.5 327.5 714.0 330.4 714.4 333.9 714.9 337.9 715.4 342.2 715.8 346.5 716.3 350.8 716.8 354.7 717.2 358.2 717.7 361.2 718.2 363.3 718.6 364.7 719.1 365.1 719.6 364.7 720.0 363.3 720.5 361.2 721.0 358.2 721.5 354.7 721.9 350.8 722.4 346.5 722.9 342.2 723.3 337.9 723.8 333.9 724.3 330.4 724.7 327.5 725.2 325.4 725.7 324.0 726.1 323.6 726.6 324.0 727.1 325.4 727.5 327.5 728.0 330.4 728.5 333.9 729.0 337.9 729.4 342.2 729.9 346.5 730.4 350.8 730.8 354.7 731.3 358.3 731.8 361.2 732.2 363.3 732.7 364.7 733.2 365.1 733.6 364.7 734.1 363.3 734.6 361.2 735.0 358.3 735.5 354.7 736.0 350.8 736.5 346.5 736.9 342.2 737.4 337.9 737.9 334.0 738.3 330.4 738.8 327.5 739.3 325.4 739.7 324.0 740.2 323.6 740.7 324.0 741.1 325.4 741.6 327.5 742.1 330.4 742.5 334.0 743.0 337.9 743.5 342.2 743.9 346.5 744.4 350.8 744.9 354.7 745.4 358.3 745.8 361.2 746.3 363.3 746.8 364.7 747.2 365.1 747.7 364.7 748.2 363.3 748.6 361.2 749.1 358.3 749.6 354.7 750.0 350.8 750.5 346.5 751.0 342.2 751.4 337.9 751.9 334.0 752.4 330.5 752.9 327.5 753.3 325.4 753.8 324.0 754.3 323.6 754.7 324.0 755.2 325.4 755.7 327.5 756.1 330.5 756.6 334.0 757.1 337.9 757.5 342.2 758.0 346.5 758.5 350.8 758.9 354.7 759.4 358.3 759.9 361.2 760.4 363.3 760.8 364.7 761.3 365.1 761.8 364.7 762.2 363.3 762.7 361.2 763.2 358.3 763.6 354.8 764.1 350.8 764.6 346.5 765.0 342.2 765.5 337.9 766.0 334.0 766.4 330.5 766.9 327.6 767.4 325.4 767.9 324.0 768.3 323.6 768.8 324.0 769.3 325.4 769.7 327.6 770.2 330.5 770.7 334.0 771.1 337.9 771.6 342.2 772.1 346.5 772.5 350.8 773.0 354.8 773.5 358.3 773.9 361.2 774.4 363.3 774.9 364.7 775.4 365.1 775.8 364.7 776.3 363.3 776.8 361.2 777.2 358.3 777.7 354.8 778.2 350.8 778.6 346.5 779.1 342.2 779.6 338.0 780.0 334.0 780.5 330.5 781.0 327.6 781.4 325.4 781.9 324.1 782.4 323.6 782.8 324.1 783.3 325.4 783.8 327.6 784.3 330.5 784.7 334.0 785.2 338.0 785.7 342.2 786.1 346.5 786.6 350.8 787.1 354.8 787.5 358.3 788.0 361.2 788.5 363.4 788.9 364.7 789.4 365.1 789.9 364.7 790.3 363.4 790.8 361.2 791.3 358.3 791.8 354.8 792.2 350.8 792.7 346.6 793.2 342.2 793.6 338.0 794.1 334.0 794.6 330.5 795.0 327.6 795.5 325.4 796.0 324.1 796.4 323.6 796.9 324.1 797.4 325.4 797.8 327.6 798.3 330.5 798.8 334.0 799.3 338.0 799.7 342.2 800.2 346.6 800.7 350.8 801.1 354.8 801.6 358.3 802.1 361.2 802.5 363.4 803.0 364.7 803.5 365.2 803.9 364.7 804.4 363.4 804.9 361.2 805.3 358.3 805.8 354.8 806.3 350.8 806.8 346.6 807.2 342.2 807.7 338.0 808.2 334.0 808.6 330.5 809.1 327.6 809.6 325.4 810.0 324.1 810.5 323.6 811.0 324.1 811.4 325.4 811.9 327.6 812.4 330.5 812.8 334.0 813.3 338.0 813.8 342.2 814.2 346.6 814.7 350.8 815.2 354.8 815.7 358.3 816.1 361.2 816.6 363.4 817.1 364.7 817.5 365.2 818.0 364.7 818.5 363.4 818.9 361.2 819.4 358.3 819.9 354.8 820.3 350.8 820.8 346.6 821.3 342.2 821.7 338.0 822.2 334.0 822.7 330.5 823.2 327.6 823.6 325.4 824.1 324.1 824.6 323.6 825.0 324.1 825.5 325.4 826.0 327.6 826.4 330.5 826.9 334.0 827.4 338.0 827.8 342.2 828.3 346.6 828.8 350.8 829.2 354.8 829.7 358.3 830.2 361.2 830.7 363.4 831.1 364.7 831.6 365.2 832.1 364.7 832.5 363.4 833.0 361.2 833.5 358.3 833.9 354.8 834.4 350.8 834.9 346.6 835.3 342.2 835.8 338.0 836.3 334.0 836.7 330.5 837.2 327.6 837.7 325.4 838.2 324.1 838.6 323.6 839.1 324.1 839.6 325.4 840.0 327.6 840.5 330.5 841.0 334.0 841.4 338.0 841.9 342.2 842.4 346.6 842.8 350.8 843.3 354.8 843.8 358.3 844.2 361.2 844.7 363.4 845.2 364.7 845.7 365.2 846.1 364.7 846.6 363.4 847.1 361.2 847.5 358.3 848.0 354.8 848.5 350.8 848.9 346.6 849.4 342.2 849.9 338.0 850.3 334.0 850.8 330.5 851.3 327.6 851.7 325.4 852.2 324.1 852.7 323.7 853.1 324.1 853.6 325.4 854.1 327.6 854.6 330.5 855.0 334.0 855.5 338.0 856.0 342.2 856.4 346.6 856.9 350.8 857.4 354.8 857.8 358.3 858.3 361.2 858.8 363.4 859.2 364.7 859.7 365.2 860.2 364.7 860.6 363.4 861.1 361.2 861.6 358.3 862.1 354.8 862.5 350.8 863.0 346.6 863.5 342.3 863.9 338.0 864.4 334.0 864.9 330.5 865.3 327.6 865.8 325.5 866.3 324.1 866.7 323.7 867.2 324.1 867.7 325.5 868.1 327.6 868.6 330.5 869.1 334.0 869.6 338.0 870.0 342.3 870.5 346.6 871.0 350.8 871.4 354.8 871.9 358.3 872.4 361.2 872.8 363.4 873.3 364.7 873.8 365.2 874.2 364.7 874.7 363.4 875.2 361.2 875.6 358.3 876.1 354.8 876.6 350.8 877.1 346.6 877.5 342.3 878.0 338.0 878.5 334.1 878.9 330.5 879.4 327.6 879.9 325.5 880.3 324.1 880.8 323.7 881.3 324.1 881.7 325.5 882.2 327.6 882.7 330.5 883.1 334.1 883.6 338.0 884.1 342.3 884.5 346.6 885.0 350.8 885.5 354.8 886.0 358.3 886.4 361.2 886.9 363.4 887.4 364.7 887.8 365.2 888.3 364.7 888.8 363.4 889.2 361.2 889.7 358.3 890.2 354.8 890.6 350.8 891.1 346.6 891.6 342.3 892.0 338.0 892.5 334.1 893.0 330.6 893.5 327.6 893.9 325.5 894.4 324.1 894.9 323.7 895.3 324.1 895.8 325.5 896.3 327.6 896.7 330.6 897.2 334.1 897.7 338.0 898.1 342.3 898.6 346.6 899.1 350.9 899.5 354.8 900.0 358.3 900.5 361.2 901.0 363.4 901.4 364.7 901.9 365.2 902.4 364.7 902.8 363.4 903.3 361.2 903.8 358.3 904.2 354.8 904.7 350.9 905.2 346.6 905.6 342.3 906.1 338.0 906.6 334.1 907.0 330.6 907.5 327.7 908.0 325.5 908.5 324.1 908.9 323.7 909.4 324.1 909.9 325.5 910.3 327.7 910.8 330.6 911.3 334.1 911.7 338.0 912.2 342.3 912.7 346.6 913.1 350.9 913.6 354.8 914.1 358.3 914.5 361.2 915.0 363.4 915.5 364.7 916.0 365.2 916.4 364.7 916.9 363.4 917.4 361.2 917.8 358.3 918.3 354.8 918.8 350.9 919.2 346.6 919.7 342.3 920.2 338.0 920.6 334.1 921.1 330.6 921.6 327.7 922.0 325.5 922.5 324.2 923.0 323.7 923.4 324.2 923.9 325.5 924.4 327.7 924.9 330.6 925.3 334.1 925.8 338.0 926.3 342.3 926.7 346.6 927.2 350.9 927.7 354.8 928.1 358.3 928.6 361.2 929.1 363.4 929.5 364.8 930.0 365.2 930.5 364.8 930.9 363.4 931.4 361.2 931.9 358.3 932.4 354.8 932.8 350.9 933.3 346.6 933.8 342.3 934.2 338.1 934.7 334.1 935.2 330.6 935.6 327.7 936.1 325.5 936.6 324.2 937.0 323.7 937.5 324.2 938.0 325.5 938.4 327.7 938.9 330.6 939.4 334.1 939.9 338.1 940.3 342.3 940.8 346.6 941.3 350.9 941.7 354.8 942.2 358.3 942.7 361.2 943.1 363.4 943.6 364.8 944.1 365.2 944.5 364.8 945.0 363.4 945.5 361.2 945.9 358.3 946.4 354.8 946.9 350.9 947.4 346.6 947.8 342.3 948.3 338.1 948.8 334.1 949.2 330.6 949.7 327.7 950.2 325.5 950.6 324.2 951.1 323.7 951.6 324.2 952.0 325.5 952.5 327.7 953.0 330.6 953.4 334.1 953.9 338.1 954.4 342.3 954.8 346.6 955.3 350.9 955.8 354.8 956.3 358.4 956.7 361.3 957.2 363.4 957.7 364.8 958.1 365.2 958.6 364.8 959.1 363.4 959.5 361.3 960.0 358.4 960.5 354.8 960.9 350.9 961.4 346.6 961.9 342.3 962.3 338.1 962.8 334.1 963.3 330.6 963.8 327.7 964.2 325.5 964.7 324.2 965.2 323.7 965.6 324.2 966.1 325.5 966.6 327.7 967.0 330.6 967.5 334.1 968.0 338.1 968.4 342.3 968.9 346.6 969.4 350.9 969.8 354.8 970.3 358.4 970.8 361.3 971.3 363.4 971.7 364.8 972.2 365.2 972.7 364.8 973.1 363.4 973.6 361.3 974.1 358.4 974.5 354.9 975.0 350.9 975.5 346.7 975.9 342.3 976.4 338.1 976.9 334.1 977.3 330.6 977.8 327.7 978.3 325.5 978.8 324.2 979.2 323.7 979.7 324.2 980.2 325.5 980.6 327.7 981.1 330.6 981.6 334.1 982.0 338.1 982.5 342.3 983.0 346.7 983.4 350.9 983.9 354.9 984.4 358.4 984.8 361.3 985.3 363.4 985.8 364.8 986.2 365.2 986.7 364.8 987.2 363.4 987.7 361.3 988.1 358.4 988.6 354.9 989.1 350.9 989.5 346.7 990.0 342.3 990.5 338.1 990.9 334.1 991.4 330.6 991.9 327.7 992.3 325.6 992.8 324.2 993.3 323.8 993.7 324.2 994.2 325.6 994.7 327.7 995.2 330.6 995.6 334.1 996.1 338.1 996.6 342.3 997.0 346.7 997.5 350.9 998.0 354.9 998.4 358.4 998.9 361.3 999.4 363.4 999.8 364.8 1000.3 365.2 1000.8 364.8 1001.2 363.4 1001.7 361.3 1002.2 358.4 1002.7 354.9 1003.1 350.9 1003.6 346.7 1004.1 342.3 1004.5 338.1 1005.0 334.1 1005.5 330.6 1005.9 327.7 1006.4 325.6 1006.9 324.2 1007.3 323.8 1007.8 324.2 1008.3 325.6 1008.7 327.7 1009.2 330.6 1009.7 334.1 1010.2 338.1 1010.6 342.3 1011.1 346.7 1011.6 350.9 1012.0 354.9 1012.5 358.4 1013.0 361.3 1013.4 363.4 1013.9 364.8 1014.4 365.2 1014.8 364.8 1015.3 363.4 1015.8 361.3 1016.2 358.4 1016.7 354.9 1017.2 350.9 1017.7 346.7 1018.1 342.3 1018.6 338.1 1019.1 334.1 1019.5 330.6 1020.0 327.7 1020.5 325.6 1020.9 324.2 1021.4 323.8 1021.9 324.2 1022.3 325.6 1022.8 327.7 1023.3 330.6 1023.7 334.1 1024.2 338.1 1024.7 342.3 1025.1 346.7 1025.6 350.9 1026.1 354.9 1026.6 358.4 1027.0 361.3 1027.5 363.4 1028.0 364.8 1028.4 365.2 1028.9 364.8 1029.4 363.4 1029.8 361.3 1030.3 358.4 1030.8 354.9 1031.2 350.9 1031.7 346.7 1032.2 342.4 1032.6 338.1 1033.1 334.2 1033.6 330.6 1034.1 327.8 1034.5 325.6 1035.0 324.2 1035.5 323.8 1035.9 324.2 1036.4 325.6 1036.9 327.8 1037.3 330.7 1037.8 334.2 1038.3 338.1 1038.7 342.4 1039.2 346.7 1039.7 350.9 1040.1 354.9 1040.6 358.4 1041.1 361.3 1041.6 363.5 1042.0 364.8 1042.5 365.2 1043.0 364.8 1043.4 363.5 1043.9 361.3 1044.4 358.4 1044.8 354.9 1045.3 350.9 1045.8 346.7 1046.2 342.4 1046.7 338.1 1047.2 334.2 1047.6 330.7 1048.1 327.8 1048.6 325.6 1049.1 324.3 1049.5 323.8 1050.0 324.3 1050.5 325.6 1050.9 327.8 1051.4 330.7 1051.9 334.2 1052.3 338.1 1052.8 342.4 1053.3 346.7 1053.7 350.9 1054.2 354.9 1054.7 358.4 1055.1 361.3 1055.6 363.5 1056.1 364.8 1056.5 365.3 1057.0 364.8 1057.5 363.5 1058.0 361.3 1058.4 358.4 1058.9 354.9 1059.4 350.9 1059.8 346.7 1060.3 342.4 1060.8 338.1 1061.2 334.2 1061.7 330.7 1062.2 327.8 1062.6 325.6 1063.1 324.3 1063.6 323.8 1064.0 324.3 1064.5 325.6 1065.0 327.8 1065.5 330.7 1065.9 334.2 1066.4 338.1 1066.9 342.4 1067.3 346.7 1067.8 350.9 1068.3 354.9 1068.7 358.4 1069.2 361.3 1069.7 363.5 1070.1 364.8 1070.6 365.3 1071.1 364.8 1071.5 363.5 1072.0 361.3 1072.5 358.4 1073.0 354.9 1073.4 350.9 1073.9 346.7 1074.4 342.4 1074.8 338.1 1075.3 334.2 1075.8 330.7 1076.2 327.8 1076.7 325.6 1077.2 324.3 1077.6 323.8 1078.1 324.3 1078.6 325.6 1079.0 327.8 1079.5 330.7 1080.0 334.2 1080.5 338.1 1080.9 342.4 1081.4 346.7 1081.9 350.9 1082.3 354.9 1082.8 358.4 1083.3 361.3 1083.7 363.5 1084.2 364.8 1084.7 365.3 1085.1 364.8 1085.6 363.5 1086.1 361.3 1086.5 358.4 1087.0 354.9 1087.5 351.0 1088.0 346.7 1088.4 342.4 1088.9 338.1 1089.4 334.2 1089.8 330.7 1090.3 327.8 1090.8 325.6 1091.2 324.3 1091.7 323.8 1092.2 324.3 1092.6 325.6 1093.1 327.8 1093.6 330.7 1094.0 334.2 1094.5 338.2 1095.0 342.4 1095.4 346.7 1095.9 351.0 1096.4 354.9 1096.9 358.4 1097.3 361.3 1097.8 363.5 1098.3 364.8 1098.7 365.3 1099.2 364.8 1099.7 363.5 1100.1 361.3 1100.6 358.4 1101.1 354.9 1101.5 351.0 1102.0 346.7 1102.5 342.4 1102.9 338.2 1103.4 334.2 1103.9 330.7 1104.4 327.8 1104.8 325.6 1105.3 324.3 1105.8 323.8 1106.2 324.3 1106.7 325.6 1107.2 327.8 1107.6 330.7 1108.1 334.2 1108.6 338.2 1109.0 342.4 1109.5 346.7 1110.0 351.0 1110.4 354.9 1110.9 358.4 1111.4 361.3 1111.9 363.5 1112.3 364.8 1112.8 365.3 1113.3 364.8 1113.7 363.5 1114.2 361.3 1114.7 358.4 1115.1 354.9 1115.6 351.0 1116.1 346.7 1116.5 342.4 1117.0 338.2 1117.5 334.2 1117.9 330.7 1118.4 327.8 1118.9 325.6 1119.4 324.3 1119.8 323.9 1120.3 324.3 1120.8 325.6 1121.2 327.8 1121.7 330.7 1122.2 334.2 1122.6 338.2 1123.1 342.4 1123.6 346.7 1124.0 351.0 1124.5 354.9 1125.0 358.4 1125.4 361.3 1125.9 363.5 1126.4 364.8 1126.8 365.3 1127.3 364.8 1127.8 363.5 1128.3 361.3 1128.7 358.4 1129.2 354.9 1129.7 351.0 1130.1 346.7 1130.6 342.4 1131.1 338.2 1131.5 334.2 1132.0 330.7 1132.5 327.8 1132.9 325.7 1133.4 324.3 1133.9 323.9 1134.3 324.3 1134.8 325.7 1135.3 327.8 1135.8 330.7 1136.2 334.2 1136.7 338.2 1137.2 342.4 1137.6 346.7 1138.1 351.0 1138.6 354.9 1139.0 358.4 1139.5 361.3 1140.0 363.5 1140.4 364.8 1140.9 365.3 1141.4 364.8 1141.8 363.5 1142.3 361.3 1142.8 358.4 1143.3 354.9 1143.7 351.0 1144.2 346.7 1144.7 342.4 1145.1 338.2 1145.6 334.2 1146.1 330.7 1146.5 327.8 1147.0 325.7 1147.5 324.3 1147.9 323.9 1148.4 324.3 1148.9 325.7 1149.3 327.8 1149.8 330.7 1150.3 334.2 1150.8 338.2 1151.2 342.4 1151.7 346.7 1152.2 351.0 1152.6 354.9 1153.1 358.4 1153.6 361.3 1154.0 363.5 1154.5 364.8 1155.0 365.3 1155.4 364.8 1155.9 363.5 1156.4 361.3 1156.8 358.4 1157.3 354.9 1157.8 351.0 1158.3 346.8 1158.7 342.4 1159.2 338.2 1159.7 334.2 1160.1 330.7 1160.6 327.8 1161.1 325.7 1161.5 324.3 1162.0 323.9 1162.5 324.3 1162.9 325.7 1163.4 327.8 1163.9 330.7 1164.3 334.2 1164.8 338.2 1165.3 342.4 1165.7 346.8 1166.2 351.0 1166.7 354.9 1167.2 358.4 1167.6 361.3 1168.1 363.5 1168.6 364.8 1169.0 365.3 1169.5 364.8 1170.0 363.5 1170.4 361.3 1170.9 358.4 1171.4 354.9 1171.8 351.0 1172.3 346.8 1172.8 342.4 1173.2 338.2 1173.7 334.2 1174.2 330.7 1174.7 327.9 1175.1 325.7 1175.6 324.4 1176.1 323.9 1176.5 324.4 1177.0 325.7 1177.5 327.9 1177.9 330.7 1178.4 334.3 1178.9 338.2 1179.3 342.4 1179.8 346.8 1180.3 351.0 1180.7 355.0 1181.2 358.5 1181.7 361.3 1182.2 363.5 1182.6 364.8 1183.1 365.3 1183.6 364.8 1184.0 363.5 1184.5 361.3 1185.0 358.5 1185.4 355.0 1185.9 351.0 1186.4 346.8 1186.8 342.4 1187.3 338.2 1187.8 334.3 1188.2 330.8 1188.7 327.9 1189.2 325.7 1189.7 324.4 1190.1 323.9 1190.6 324.4 1191.1 325.7 1191.5 327.9 1192.0 330.8 1192.5 334.3 1192.9 338.2 1193.4 342.4 1193.9 346.8 1194.3 351.0 1194.8 355.0 1195.3 358.5 1195.7 361.4 1196.2 363.5 1196.7 364.9 1197.2 365.3 1197.6 364.9 1198.1 363.5 1198.6 361.4 1199.0 358.5 1199.5 355.0 1200.0 351.0 1200.4 346.8 1200.9 342.5 1201.4 338.2 1201.8 334.3 1202.3 330.8 1202.8 327.9 1203.2 325.7 1203.7 324.4 1204.2 323.9 1204.6 324.4 1205.1 325.7 1205.6 327.9 1206.1 330.8 1206.5 334.3 1207.0 338.2 1207.5 342.5 1207.9 346.8 1208.4 351.0 1208.9 355.0 1209.3 358.5 1209.8 361.4 1210.3 363.5 1210.7 364.9 1211.2 365.3 1211.7 364.9 1212.1 363.5 1212.6 361.4 1213.1 358.5 1213.6 355.0 1214.0 351.0 1214.5 346.8 1215.0 342.5 1215.4 338.2 1215.9 334.3 1216.4 330.8 1216.8 327.9 1217.3 325.7 1217.8 324.4 1218.2 323.9 1218.7 324.4 1219.2 325.7 1219.6 327.9 1220.1 330.8 1220.6 334.3 1221.1 338.2 1221.5 342.5 1222.0 346.8 1222.5 351.0 1222.9 355.0 1223.4 358.5 1223.9 361.4 1224.3 363.5 1224.8 364.9 1225.3 365.3 1225.7 364.9 1226.2 363.5 1226.7 361.4 1227.1 358.5 1227.6 355.0 1228.1 351.0 1228.6 346.8 1229.0 342.5 1229.5 338.2 1230.0 334.3 1230.4 330.8 1230.9 327.9 1231.4 325.7 1231.8 324.4 1232.3 323.9 1232.8 324.4 1233.2 325.7 1233.7 327.9 1234.2 330.8 1234.6 334.3 1235.1 338.2 1235.6 342.5 1236.0 346.8 1236.5 351.0 1237.0 355.0 1237.5 358.5 1237.9 361.4 1238.4 363.5 1238.9 364.9 1239.3 365.3 1239.8 364.9 1240.3 363.5 1240.7 361.4 1241.2 358.5 1241.7 355.0 1242.1 351.0 1242.6 346.8 1243.1 342.5 1243.5 338.2 1244.0 334.3 1244.5 330.8 1245.0 327.9 1245.4 325.7 1245.9 324.4 1246.4 324.0 1246.8 324.4 1247.3 325.7 1247.8 327.9 1248.2 330.8 1248.7 334.3 1249.2 338.2 1249.6 342.5 1250.1 346.8 1250.6 351.0 1251.0 355.0 1251.5 358.5 1252.0 361.4 1252.5 363.5 1252.9 364.9 1253.4 365.3 1253.9 364.9 1254.3 363.5 1254.8 361.4 1255.3 358.5 1255.7 355.0 1256.2 351.0 1256.7 346.8 1257.1 342.5 1257.6 338.3 1258.1 334.3 1258.5 330.8 1259.0 327.9 1259.5 325.8 1260.0 324.4 1260.4 324.0 1260.9 324.4 1261.4 325.8 1261.8 327.9 1262.3 330.8 1262.8 334.3 1263.2 338.3 1263.7 342.5 1264.2 346.8 1264.6 351.0 1265.1 355.0 1265.6 358.5 1266.0 361.4 1266.5 363.5 1267.0 364.9 1267.5 365.3 1267.9 364.9 1268.4 363.5 1268.9 361.4 1269.3 358.5 1269.8 355.0 1270.3 351.0 1270.7 346.8 1271.2 342.5 1271.7 338.3 1272.1 334.3 1272.6 330.8 1273.1 327.9 1273.5 325.8 1274.0 324.4 1274.5 324.0 1274.9 324.4 1275.4 325.8 1275.9 327.9 1276.4 330.8 1276.8 334.3 1277.3 338.3 1277.8 342.5 1278.2 346.8 1278.7 351.0 1279.2 355.0 1279.6 358.5 1280.1 361.4 1280.6 363.6 1281.0 364.9 1281.5 365.3 1282.0 364.9 1282.4 363.6 1282.9 361.4 1283.4 358.5 1283.9 355.0 1284.3 351.1 1284.8 346.8 1285.3 342.5 1285.7 338.3 1286.2 334.3 1286.7 330.8 1287.1 327.9 1287.6 325.8 1288.1 324.4 1288.5 324.0 1289.0 324.4 1289.5 325.8 1289.9 327.9 1290.4 330.8 1290.9 334.3 1291.4 338.3 1291.8 342.5 1292.3 346.8 1292.8 351.1 1293.2 355.0 1293.7 358.5 1294.2 361.4 1294.6 363.6 1295.1 364.9 1295.6 365.3 1296.0 364.9 1296.5 363.6 1297.0 361.4 1297.4 358.5 1297.9 355.0 1298.4 351.1 1298.9 346.8 1299.3 342.5 1299.8 338.3 1300.3 334.3 1300.7 330.8 1301.2 327.9 1301.7 325.8 1302.1 324.4 1302.6 324.0 1303.1 324.4 1303.5 325.8 1304.0 327.9 1304.5 330.8 1304.9 334.3 1305.4 338.3 1305.9 342.5 1306.3 346.8 1306.8 351.1 1307.3 355.0 1307.8 358.5 1308.2 361.4 1308.7 363.6 1309.2 364.9 1309.6 365.3 1310.1 364.9 1310.6 363.6 1311.0 361.4 1311.5 358.5 1312.0 355.0 1312.4 351.1 1312.9 346.8 1313.4 342.5 1313.8 338.3 1314.3 334.3 1314.8 330.8 1315.3 328.0 1315.7 325.8 1316.2 324.5 1316.7 324.0 1317.1 324.5 1317.6 325.8 1318.1 328.0 1318.5 330.8 1319.0 334.3 1319.5 338.3 1319.9 342.5 1320.4 346.8 1320.9 351.1 1321.3 355.0 1321.8 358.5 1322.3 361.4 1322.8 363.6 1323.2 364.9 1323.7 365.4 1324.2 364.9 1324.6 363.6 1325.1 361.4 1325.6 358.5 1326.0 355.0 1326.5 351.1 1327.0 346.8 1327.4 342.5 1327.9 338.3 1328.4 334.4 1328.8 330.9 1329.3 328.0 1329.8 325.8 1330.3 324.5 1330.7 324.0 1331.2 324.5 1331.7 325.8 1332.1 328.0 1332.6 330.9 1333.1 334.4 1333.5 338.3 1334.0 342.5 1334.5 346.9 1334.9 351.1 1335.4 355.0 1335.9 358.5 1336.3 361.4 1336.8 363.6 1337.3 364.9 1337.8 365.4 1338.2 364.9 1338.7 363.6 1339.2 361.4 1339.6 358.5 1340.1 355.0 1340.6 351.1 1341.0 346.9 1341.5 342.5 1342.0 338.3 1342.4 334.4 1342.9 330.9 1343.4 328.0 1343.8 325.8 1344.3 324.5 1344.8 324.0 1345.2 324.5 1345.7 325.8 1346.2 328.0 1346.7 330.9 1347.1 334.4 1347.6 338.3 1348.1 342.5 1348.5 346.9 1349.0 351.1 1349.5 355.0 1349.9 358.5 1350.4 361.4 1350.9 363.6 1351.3 364.9 1351.8 365.4 1352.3 364.9 1352.7 363.6 1353.2 361.4 1353.7 358.5 1354.2 355.0 1354.6 351.1 1355.1 346.9 1355.6 342.5 1356.0 338.3 1356.5 334.4 1357.0 330.9 1357.4 328.0 1357.9 325.8 1358.4 324.5 1358.8 324.0 1359.3 324.5 1359.8 325.8 1360.2 328.0 1360.7 330.9 1361.2 334.4 1361.7 338.3 1362.1 342.5 1362.6 346.9 1363.1 351.1 1363.5 355.0 1364.0 358.5 1364.5 361.4 1364.9 363.6 1365.4 364.9 1365.9 365.4 1366.3 364.9 1366.8 363.6 1367.3 361.4 1367.7 358.5 1368.2 355.0 1368.7 351.1 1369.2 346.9 1369.6 342.6 1370.1 338.3 1370.6 334.4 1371.0 330.9 1371.5 328.0 1372.0 325.8 1372.4 324.5 1372.9 324.1 1373.4 324.5 1373.8 325.8 1374.3 328.0 1374.8 330.9 1375.2 334.4 1375.7 338.3 1376.2 342.6 1376.6 346.9 1377.1 351.1 1377.6 355.0 1378.1 358.5 1378.5 361.4 1379.0 363.6 1379.5 364.9 1379.9 365.4 1380.4 364.9 1380.9 363.6 1381.3 361.4 1381.8 358.5 1382.3 355.0 1382.7 351.1 1383.2 346.9 1383.7 342.6 1384.1 338.3 1384.6 334.4 1385.1 330.9 1385.6 328.0 1386.0 325.8 1386.5 324.5 1387.0 324.1 1387.4 324.5 1387.9 325.8 1388.4 328.0 1388.8 330.9 1389.3 334.4 1389.8 338.3 1390.2 342.6 1390.7 346.9 1391.2 351.1 1391.6 355.1 1392.1 358.5 1392.6 361.4 1393.1 363.6 1393.5 364.9 1394.0 365.4 1394.5 364.9 1394.9 363.6 1395.4 361.4 1395.9 358.5 1396.3 355.1 1396.8 351.1 1397.3 346.9 1397.7 342.6 1398.2 338.3 1398.7 334.4 1399.1 330.9 1399.6 328.0 1400.1 325.9 1400.6 324.5 1401.0 324.1 1401.5 324.5 1402.0 325.9 1402.4 328.0 1402.9 330.9 1403.4 334.4 1403.8 338.3 1404.3 342.6 1404.8 346.9 1405.2 351.1 1405.7 355.1 1406.2 358.6 1406.6 361.4 1407.1 363.6 1407.6 364.9 1408.0 365.4 1408.5 364.9 1409.0 363.6 1409.5 361.4 1409.9 358.6 1410.4 355.1 1410.9 351.1 1411.3 346.9 1411.8 342.6 1412.3 338.4 1412.7 334.4 1413.2 330.9 1413.7 328.0 1414.1 325.9 1414.6 324.5 1415.1 324.1 1415.5 324.5 1416.0 325.9 1416.5 328.0 1417.0 330.9 1417.4 334.4 1417.9 338.4 1418.4 342.6 1418.8 346.9 1419.3 351.1 1419.8 355.1 1420.2 358.6 1420.7 361.4 1421.2 363.6 1421.6 364.9 1422.1 365.4 1422.6 364.9 1423.0 363.6 1423.5 361.4 1424.0 358.6 1424.5 355.1 1424.9 351.1 1425.4 346.9 1425.9 342.6 1426.3 338.4 1426.8 334.4 1427.3 330.9 1427.7 328.0 1428.2 325.9 1428.7 324.5 1429.1 324.1 1429.6 324.5 1430.1 325.9 1430.5 328.0 1431.0 330.9 1431.5 334.4 1432.0 338.4 1432.4 342.6 1432.9 346.9 1433.4 351.1 1433.8 355.1 1434.3 358.6 1434.8 361.5 1435.2 363.6 1435.7 364.9 1436.2 365.4 1436.6 364.9 1437.1 363.6 1437.6 361.5 1438.0 358.6 1438.5 355.1 1439.0 351.1 1439.5 346.9 1439.9 342.6 1440.4 338.4 1440.9 334.4 1441.3 330.9 1441.8 328.0 1442.3 325.9 1442.7 324.6 1443.2 324.1 1443.7 324.6 1444.1 325.9 1444.6 328.0 1445.1 330.9 1445.5 334.4 1446.0 338.4 1446.5 342.6 1446.9 346.9 1447.4 351.1 1447.9 355.1 1448.4 358.6 1448.8 361.5 1449.3 363.6 1449.8 365.0 1450.2 365.4 1450.7 365.0 1451.2 363.6 1451.6 361.5 1452.1 358.6 1452.6 355.1 1453.0 351.1 1453.5 346.9 1454.0 342.6 1454.4 338.4 1454.9 334.4 1455.4 330.9 1455.9 328.1 1456.3 325.9 1456.8 324.6 1457.3 324.1 1457.7 324.6 1458.2 325.9 1458.7 328.1 1459.1 330.9 1459.6 334.4 1460.1 338.4 1460.5 342.6 1461.0 346.9 1461.5 351.1 1461.9 355.1 1462.4 358.6 1462.9 361.5 1463.4 363.6 1463.8 365.0 1464.3 365.4 1464.8 365.0 1465.2 363.6 1465.7 361.5 1466.2 358.6 1466.6 355.1 1467.1 351.1 1467.6 346.9 1468.0 342.6 1468.5 338.4 1469.0 334.4 1469.4 331.0 1469.9 328.1 1470.4 325.9 1470.9 324.6 1471.3 324.1 1471.8 324.6 1472.3 325.9 1472.7 328.1 1473.2 331.0 1473.7 334.4 1474.1 338.4 1474.6 342.6 1475.1 346.9 1475.5 351.1 1476.0 355.1 1476.5 358.6 1476.9 361.5 1477.4 363.6 1477.9 365.0 1478.3 365.4 1478.8 365.0 1479.3 363.6 1479.8 361.5 1480.2 358.6 1480.7 355.1 1481.2 351.2 1481.6 346.9 1482.1 342.6 1482.6 338.4 1483.0 334.5 1483.5 331.0 1484.0 328.1 1484.4 325.9 1484.9 324.6 1485.4 324.1 1485.8 324.6 1486.3 325.9 1486.8 328.1 1487.3 331.0 1487.7 334.5 1488.2 338.4 1488.7 342.6 1489.1 346.9 1489.6 351.2 1490.1 355.1 1490.5 358.6 1491.0 361.5 1491.5 363.6 1491.9 365.0 1492.4 365.4 1492.9 365.0 1493.3 363.6 1493.8 361.5 1494.3 358.6 1494.8 355.1 1495.2 351.2 1495.7 346.9 1496.2 342.6 1496.6 338.4 1497.1 334.5 1497.6 331.0 1498.0 328.1 1498.5 325.9 1499.0 324.6 1499.4 324.1 1499.9 324.6 1500.4 325.9 1500.8 328.1 1501.3 331.0 1501.8 334.5 1502.3 338.4 1502.7 342.6 1503.2 346.9 1503.7 351.2 1504.1 355.1 1504.6 358.6 1505.1 361.5 1505.5 363.6 1506.0 365.0 1506.5 365.4 1506.9 365.0 1507.4 363.6 1507.9 361.5 1508.3 358.6 1508.8 355.1 1509.3 351.2 1509.8 346.9 1510.2 342.6 1510.7 338.4 1511.2 334.5 1511.6 331.0 1512.1 328.1 1512.6 325.9 1513.0 324.6 1513.5 324.2 1514.0 324.6 1514.4 325.9 1514.9 328.1 1515.4 331.0 1515.8 334.5 1516.3 338.4 1516.8 342.6 1517.2 347.0 1517.7 351.2 1518.2 355.1 1518.7 358.6 1519.1 361.5 1519.6 363.6 1520.1 365.0 1520.5 365.4 1521.0 365.0 1521.5 363.6 1521.9 361.5 1522.4 358.6 1522.9 355.1 1523.3 351.2 1523.8 347.0 1524.3 342.6 1524.7 338.4 1525.2 334.5 1525.7 331.0 1526.2 328.1 1526.6 326.0 1527.1 324.6 1527.6 324.2 1528.0 324.6 1528.5 326.0 1529.0 328.1 1529.4 331.0 1529.9 334.5 1530.4 338.4 1530.8 342.6 1531.3 347.0 1531.8 351.2 1532.2 355.1 1532.7 358.6 1533.2 361.5 1533.7 363.7 1534.1 365.0 1534.6 365.4 1535.1 365.0 1535.5 363.7 1536.0 361.5 1536.5 358.6 1536.9 355.1 1537.4 351.2 1537.9 347.0 1538.3 342.7 1538.8 338.4 1539.3 334.5 1539.7 331.0 1540.2 328.1 1540.7 326.0 1541.2 324.6 1541.6 324.2 1542.1 324.6 1542.6 326.0 1543.0 328.1 1543.5 331.0 1544.0 334.5 1544.4 338.4 1544.9 342.7 1545.4 347.0 1545.8 351.2 1546.3 355.1 1546.8 358.6 1547.2 361.5 1547.7 363.7 1548.2 365.0 1548.6 365.4 1549.1 365.0 1549.6 363.7 1550.1 361.5 1550.5 358.6 1551.0 355.1 1551.5 351.2 1551.9 347.0 1552.4 342.7 1552.9 338.4 1553.3 334.5 1553.8 331.0 1554.3 328.1 1554.7 326.0 1555.2 324.6 1555.7 324.2 1556.1 324.6 1556.6 326.0 1557.1 328.1 1557.6 331.0 1558.0 334.5 1558.5 338.4 1559.0 342.7 1559.4 347.0 1559.9 351.2 1560.4 355.1 1560.8 358.6 1561.3 361.5 1561.8 363.7 1562.2 365.0 1562.7 365.4 1563.2 365.0 1563.6 363.7 1564.1 361.5 1564.6 358.6 1565.1 355.1 1565.5 351.2 1566.0 347.0 1566.5 342.7 1566.9 338.5 1567.4 334.5 1567.9 331.0 1568.3 328.1 1568.8 326.0 1569.3 324.7 1569.7 324.2 1570.2 324.7 1570.7 326.0 1571.1 328.1 1571.6 331.0 1572.1 334.5 1572.6 338.5 1573.0 342.7 1573.5 347.0 1574.0 351.2 1574.4 355.1 1574.9 358.6 1575.4 361.5 1575.8 363.7 1576.3 365.0 1576.8 365.5 1577.2 365.0 1577.7 363.7 1578.2 361.5 1578.6 358.6 1579.1 355.1 1579.6 351.2 1580.1 347.0 1580.5 342.7 1581.0 338.5 1581.5 334.5 1581.9 331.0 1582.4 328.1 1582.9 326.0 1583.3 324.7 1583.8 324.2 1584.3 324.7 1584.7 326.0 1585.2 328.2 1585.7 331.0 1586.1 334.5 1586.6 338.5 1587.1 342.7 1587.5 347.0 1588.0 351.2 1588.5 355.1 1589.0 358.6 1589.4 361.5 1589.9 363.7 1590.4 365.0 1590.8 365.5 1591.3 365.0 1591.8 363.7 1592.2 361.5 1592.7 358.6 1593.2 355.1 1593.6 351.2 1594.1 347.0 1594.6 342.7 1595.0 338.5 1595.5 334.5 1596.0 331.0 1596.5 328.2 1596.9 326.0 1597.4 324.7 1597.9 324.2 1598.3 324.7 1598.8 326.0 1599.3 328.2 1599.7 331.0 1600.2 334.5 1600.7 338.5 1601.1 342.7 1601.6 347.0 1602.1 351.2 1602.5 355.2 1603.0 358.6 1603.5 361.5 1604.0 363.7 1604.4 365.0 1604.9 365.5 1605.4 365.0 1605.8 363.7 1606.3 361.5 1606.8 358.6 1607.2 355.2 1607.7 351.2 1608.2 347.0 1608.6 342.7 1609.1 338.5 1609.6 334.5 1610.0 331.1 1610.5 328.2 1611.0 326.0 1611.5 324.7 1611.9 324.2 1612.4 324.7 1612.9 326.0 1613.3 328.2 1613.8 331.1 1614.3 334.5 1614.7 338.5 1615.2 342.7 1615.7 347.0 1616.1 351.2 1616.6 355.2 1617.1 358.6 1617.5 361.5 1618.0 363.7 1618.5 365.0 1619.0 365.5 1619.4 365.0 1619.9 363.7 1620.4 361.5 1620.8 358.6 1621.3 355.2 1621.8 351.2 1622.2 347.0 1622.7 342.7 1623.2 338.5 1623.6 334.5 1624.1 331.1 1624.6 328.2 1625.0 326.0 1625.5 324.7 1626.0 324.2 1626.4 324.7 1626.9 326.0 1627.4 328.2 1627.9 331.1 1628.3 334.6 1628.8 338.5 1629.3 342.7 1629.7 347.0 1630.2 351.2 1630.7 355.2 1631.1 358.7 1631.6 361.5 1632.1 363.7 1632.5 365.0 1633.0 365.5 1633.5 365.0 1633.9 363.7 1634.4 361.5 1634.9 358.7 1635.4 355.2 1635.8 351.2 1636.3 347.0 1636.8 342.7 1637.2 338.5 1637.7 334.6 1638.2 331.1 1638.6 328.2 1639.1 326.0 1639.6 324.7 1640.0 324.3 1640.4 324.3 1640.8 324.3 1641.2 324.3 1641.6 324.3" stroke="#c44444" stroke-width="3.0" fill="none" stroke-linejoin="round"/>
<path d="M237.7 543.6L238.2 543.6 238.6 543.7 239.1 543.7 239.5 543.8 240.0 543.8 240.5 534.0 241.0 514.5 241.5 504.7 241.9 511.0 242.3 526.4 242.8 541.7 243.2 548.0 243.7 549.7 244.1 554.5 244.6 561.4 245.0 569.0 245.5 575.9 245.9 580.7 246.4 582.4 246.9 581.1 247.4 577.4 247.9 571.8 248.4 565.2 248.8 558.6 249.3 553.0 249.8 549.3 250.3 548.0 250.8 549.0 251.2 551.4 251.7 553.8 252.2 554.8 252.7 552.3 253.2 545.2 253.7 535.1 254.2 523.7 254.7 513.6 255.2 506.5 255.7 504.0 256.2 506.6 256.6 514.0 257.1 525.1 257.6 538.2 258.1 551.3 258.6 562.4 259.0 569.8 259.5 572.4 259.9 571.4 260.4 568.7 260.8 564.9 261.3 560.5 261.7 556.7 262.2 554.0 262.6 553.0 263.0 554.0 263.5 556.4 263.9 558.8 264.3 559.8 264.8 558.2 265.3 553.4 265.8 546.2 266.3 537.4 266.8 527.9 267.3 519.1 267.8 511.9 268.3 507.1 268.8 505.5 269.3 507.5 269.8 513.2 270.2 521.6 270.7 531.6 271.2 541.7 271.7 550.1 272.1 555.8 272.6 557.8 273.1 557.3 273.5 556.0 273.9 554.8 274.4 554.3 274.9 554.8 275.3 556.4 275.8 558.7 276.2 561.4 276.7 564.1 277.2 566.4 277.6 568.0 278.1 568.5 278.6 566.7 279.1 561.6 279.5 553.8 280.0 544.2 280.5 534.1 281.0 524.5 281.4 516.7 281.9 511.6 282.4 509.8 282.9 510.9 283.3 513.9 283.8 518.7 284.2 524.7 284.7 531.4 285.2 538.1 285.6 544.1 286.1 548.9 286.5 551.9 287.0 553.0 287.4 552.7 287.8 552.0 288.2 551.3 288.6 551.0 289.1 552.4 289.5 556.4 290.0 561.7 290.4 567.0 290.9 571.0 291.3 572.4 291.8 571.0 292.2 567.1 292.7 560.9 293.1 553.2 293.6 544.6 294.1 535.9 294.5 528.2 295.0 522.0 295.4 518.1 295.9 516.7 296.4 517.2 296.9 518.6 297.4 521.0 297.9 524.2 298.4 528.1 298.9 532.6 299.4 537.5 299.9 542.7 300.4 547.9 300.9 553.1 301.4 558.0 301.9 562.5 302.4 566.4 302.9 569.6 303.4 572.0 303.9 573.4 304.4 573.9 304.9 572.7 305.4 569.2 305.9 563.9 306.4 557.1 306.9 549.6 307.4 542.0 307.9 535.2 308.4 529.9 308.9 526.4 309.4 525.2 309.8 525.4 310.3 526.0 310.7 526.8 311.2 527.6 311.6 528.4 312.1 529.0 312.5 529.2 312.9 529.0 313.4 528.5 313.8 528.2 314.3 529.6 314.8 533.5 315.2 539.5 315.7 547.0 316.2 554.8 316.7 562.2 317.1 568.3 317.6 572.2 318.1 573.6 318.6 573.2 319.1 572.0 319.6 569.9 320.1 567.2 320.5 563.9 321.0 560.1 321.5 555.9 322.0 551.5 322.5 546.9 323.0 542.5 323.5 538.3 324.0 534.5 324.4 531.2 324.9 528.5 325.4 526.4 325.9 525.2 326.4 524.8 326.9 525.7 327.4 528.3 327.9 532.4 328.4 537.7 328.9 543.7 329.3 549.9 329.8 555.9 330.3 561.2 330.8 565.3 331.3 567.9 331.8 568.8 332.3 568.3 332.8 566.9 333.2 564.6 333.7 561.5 334.2 557.7 334.7 553.4 335.2 548.7 335.6 543.8 336.1 538.9 336.6 534.2 337.1 529.9 337.6 526.1 338.1 523.0 338.5 520.7 339.0 519.3 339.5 518.8 340.0 519.7 340.5 522.5 341.0 526.8 341.5 532.4 342.0 538.7 342.4 545.3 342.9 551.6 343.4 557.2 343.9 561.5 344.4 564.3 344.9 565.2 345.4 564.8 345.9 563.8 346.4 562.0 346.9 559.6 347.4 556.7 347.9 553.3 348.4 549.5 348.9 545.5 349.4 541.4 349.8 537.3 350.3 533.3 350.8 529.5 351.3 526.1 351.8 523.2 352.3 520.8 352.8 519.0 353.3 518.0 353.8 517.6 354.3 518.4 354.8 520.6 355.3 524.1 355.8 528.6 356.3 533.9 356.8 539.6 357.3 545.4 357.8 550.7 358.3 555.2 358.8 558.7 359.3 560.9 359.8 561.7 360.3 561.3 360.8 560.0 361.2 558.0 361.7 555.3 362.2 552.0 362.7 548.3 363.2 544.2 363.6 540.0 364.1 535.7 364.6 531.6 365.1 527.9 365.6 524.6 366.1 521.9 366.5 519.9 367.0 518.6 367.5 518.2 368.0 518.6 368.5 519.9 368.9 522.0 369.4 524.7 369.9 528.1 370.4 532.0 370.9 536.1 371.4 540.5 371.8 544.9 372.3 549.0 372.8 552.9 373.3 556.3 373.8 559.0 374.2 561.1 374.7 562.4 375.2 562.8 375.7 562.0 376.2 559.5 376.7 555.6 377.2 550.6 377.7 545.0 378.1 539.0 378.6 533.4 379.1 528.4 379.6 524.5 380.1 522.0 380.6 521.2 381.1 521.6 381.6 522.7 382.1 524.6 382.6 527.1 383.0 530.2 383.5 533.7 384.0 537.6 384.5 541.7 385.0 545.9 385.5 550.0 386.0 553.9 386.5 557.4 386.9 560.5 387.4 563.0 387.9 564.9 388.4 566.0 388.9 566.4 389.4 565.7 389.9 563.5 390.4 560.0 390.9 555.4 391.4 550.1 391.9 544.4 392.4 538.7 392.9 533.4 393.4 528.8 393.9 525.3 394.4 523.1 394.9 522.4 395.4 522.8 395.9 524.1 396.3 526.1 396.8 528.8 397.3 532.2 397.8 536.0 398.3 540.1 398.8 544.4 399.2 548.7 399.7 552.8 400.2 556.6 400.7 560.0 401.2 562.7 401.6 564.7 402.1 566.0 402.6 566.4 403.1 565.8 403.6 564.1 404.1 561.3 404.6 557.7 405.1 553.3 405.6 548.4 406.1 543.2 406.5 538.0 407.0 533.1 407.5 528.7 408.0 525.1 408.5 522.3 409.0 520.6 409.5 520.0 410.0 520.5 410.4 522.1 410.9 524.6 411.4 527.9 411.8 532.0 412.3 536.6 412.8 541.5 413.2 546.5 413.7 551.4 414.2 556.0 414.7 560.1 415.1 563.4 415.6 565.9 416.1 567.5 416.5 568.0 417.0 567.5 417.5 565.9 417.9 563.4 418.4 560.1 418.9 556.0 419.3 551.4 419.8 546.5 420.3 541.5 420.7 536.6 421.2 532.0 421.7 527.9 422.2 524.6 422.6 522.1 423.1 520.5 423.6 520.0 424.0 520.5 424.5 522.1 425.0 524.6 425.4 527.9 425.9 532.0 426.4 536.6 426.8 541.5 427.3 546.5 427.8 551.4 428.2 556.0 428.7 560.1 429.2 563.4 429.7 565.9 430.1 567.5 430.6 568.0 431.1 567.5 431.5 565.9 432.0 563.4 432.5 560.1 432.9 556.0 433.4 551.4 433.9 546.5 434.3 541.5 434.8 536.6 435.3 532.0 435.7 527.9 436.2 524.6 436.7 522.1 437.2 520.5 437.6 520.0 438.1 520.5 438.6 522.1 439.0 524.6 439.5 527.9 440.0 532.0 440.4 536.6 440.9 541.5 441.4 546.5 441.8 551.4 442.3 556.0 442.8 560.1 443.2 563.4 443.7 565.9 444.2 567.5 444.6 568.0 445.1 567.5 445.6 565.9 446.1 563.4 446.5 560.1 447.0 556.0 447.5 551.4 447.9 546.5 448.4 541.5 448.9 536.6 449.3 532.0 449.8 527.9 450.3 524.6 450.7 522.1 451.2 520.5 451.7 520.0 452.1 520.5 452.6 522.1 453.1 524.6 453.6 527.9 454.0 532.0 454.5 536.6 455.0 541.5 455.4 546.5 455.9 551.4 456.4 556.0 456.8 560.1 457.3 563.4 457.8 565.9 458.2 567.5 458.7 568.0 459.2 567.5 459.6 565.9 460.1 563.4 460.6 560.1 461.1 556.0 461.5 551.4 462.0 546.5 462.5 541.5 462.9 536.6 463.4 532.0 463.9 527.9 464.3 524.6 464.8 522.1 465.3 520.5 465.7 520.0 466.2 520.5 466.7 522.1 467.1 524.6 467.6 527.9 468.1 532.0 468.6 536.6 469.0 541.5 469.5 546.5 470.0 551.4 470.4 556.0 470.9 560.1 471.4 563.4 471.8 565.9 472.3 567.5 472.8 568.0 473.2 567.5 473.7 565.9 474.2 563.4 474.6 560.1 475.1 556.0 475.6 551.4 476.1 546.5 476.5 541.5 477.0 536.6 477.5 532.0 477.9 527.9 478.4 524.6 478.9 522.1 479.3 520.5 479.8 520.0 480.3 520.5 480.7 522.1 481.2 524.6 481.7 527.9 482.1 532.0 482.6 536.6 483.1 541.5 483.5 546.5 484.0 551.4 484.5 556.0 485.0 560.1 485.4 563.4 485.9 565.9 486.4 567.5 486.8 568.0 487.3 567.5 487.8 565.9 488.2 563.4 488.7 560.1 489.2 556.0 489.6 551.4 490.1 546.5 490.6 541.5 491.0 536.6 491.5 532.0 492.0 527.9 492.5 524.6 492.9 522.1 493.4 520.5 493.9 520.0 494.3 520.5 494.8 522.1 495.3 524.6 495.7 527.9 496.2 532.0 496.7 536.6 497.1 541.5 497.6 546.5 498.1 551.4 498.5 556.0 499.0 560.1 499.5 563.4 500.0 565.9 500.4 567.5 500.9 568.0 501.4 567.5 501.8 565.9 502.3 563.4 502.8 560.1 503.2 556.0 503.7 551.4 504.2 546.5 504.6 541.5 505.1 536.6 505.6 532.0 506.0 527.9 506.5 524.6 507.0 522.1 507.5 520.5 507.9 520.0 508.4 520.5 508.9 522.1 509.3 524.6 509.8 527.9 510.3 532.0 510.7 536.6 511.2 541.5 511.7 546.5 512.1 551.4 512.6 556.0 513.1 560.1 513.5 563.4 514.0 565.9 514.5 567.5 515.0 568.0 515.4 567.5 515.9 565.9 516.4 563.4 516.8 560.1 517.3 556.0 517.8 551.4 518.2 546.5 518.7 541.5 519.2 536.6 519.6 532.0 520.1 527.9 520.6 524.6 521.0 522.1 521.5 520.5 522.0 520.0 522.4 520.5 522.9 522.1 523.4 524.6 523.9 527.9 524.3 532.0 524.8 536.6 525.3 541.5 525.7 546.5 526.2 551.4 526.7 556.0 527.1 560.1 527.6 563.4 528.1 565.9 528.5 567.5 529.0 568.0 529.5 567.5 529.9 565.9 530.4 563.4 530.9 560.1 531.4 556.0 531.8 551.4 532.3 546.5 532.8 541.5 533.2 536.6 533.7 532.0 534.2 527.9 534.6 524.6 535.1 522.1 535.6 520.5 536.0 520.0 536.5 520.5 537.0 522.1 537.4 524.6 537.9 527.9 538.4 532.0 538.9 536.6 539.3 541.5 539.8 546.5 540.3 551.4 540.7 556.0 541.2 560.1 541.7 563.4 542.1 565.9 542.6 567.5 543.1 568.0 543.5 567.5 544.0 565.9 544.5 563.4 544.9 560.1 545.4 556.0 545.9 551.4 546.4 546.5 546.8 541.5 547.3 536.6 547.8 532.0 548.2 527.9 548.7 524.6 549.2 522.1 549.6 520.5 550.1 520.0 550.6 520.5 551.0 522.1 551.5 524.6 552.0 527.9 552.4 532.0 552.9 536.6 553.4 541.5 553.8 546.5 554.3 551.4 554.8 556.0 555.3 560.1 555.7 563.4 556.2 565.9 556.7 567.5 557.1 568.0 557.6 567.5 558.1 565.9 558.5 563.4 559.0 560.1 559.5 556.0 559.9 551.4 560.4 546.5 560.9 541.5 561.3 536.6 561.8 532.0 562.3 527.9 562.8 524.6 563.2 522.1 563.7 520.5 564.2 520.0 564.6 520.5 565.1 522.1 565.6 524.6 566.0 527.9 566.5 532.0 567.0 536.6 567.4 541.5 567.9 546.5 568.4 551.4 568.8 556.0 569.3 560.1 569.8 563.4 570.3 565.9 570.7 567.5 571.2 568.0 571.7 567.5 572.1 565.9 572.6 563.4 573.1 560.1 573.5 556.0 574.0 551.4 574.5 546.5 574.9 541.5 575.4 536.6 575.9 532.0 576.3 527.9 576.8 524.6 577.3 522.1 577.8 520.5 578.2 520.0 578.7 520.5 579.2 522.1 579.6 524.6 580.1 527.9 580.6 532.0 581.0 536.6 581.5 541.5 582.0 546.5 582.4 551.4 582.9 556.0 583.4 560.1 583.8 563.4 584.3 565.9 584.8 567.5 585.2 568.0 585.7 567.5 586.2 565.9 586.7 563.4 587.1 560.1 587.6 556.0 588.1 551.4 588.5 546.5 589.0 541.5 589.5 536.6 589.9 532.0 590.4 527.9 590.9 524.6 591.3 522.1 591.8 520.5 592.3 520.0 592.7 520.5 593.2 522.1 593.7 524.6 594.2 527.9 594.6 532.0 595.1 536.6 595.6 541.5 596.0 546.5 596.5 551.4 597.0 556.0 597.4 560.1 597.9 563.4 598.4 565.9 598.8 567.5 599.3 568.0 599.8 567.5 600.2 565.9 600.7 563.4 601.2 560.1 601.7 556.0 602.1 551.4 602.6 546.5 603.1 541.5 603.5 536.6 604.0 532.0 604.5 527.9 604.9 524.6 605.4 522.1 605.9 520.5 606.3 520.0 606.8 520.5 607.3 522.1 607.7 524.6 608.2 527.9 608.7 532.0 609.2 536.6 609.6 541.5 610.1 546.5 610.6 551.4 611.0 556.0 611.5 560.1 612.0 563.4 612.4 565.9 612.9 567.5 613.4 568.0 613.8 567.5 614.3 565.9 614.8 563.4 615.2 560.1 615.7 556.0 616.2 551.4 616.7 546.5 617.1 541.5 617.6 536.6 618.1 532.0 618.5 527.9 619.0 524.6 619.5 522.1 619.9 520.5 620.4 520.0 620.9 520.5 621.3 522.1 621.8 524.6 622.3 527.9 622.7 532.0 623.2 536.6 623.7 541.5 624.1 546.5 624.6 551.4 625.1 556.0 625.6 560.1 626.0 563.4 626.5 565.9 627.0 567.5 627.4 568.0 627.9 567.5 628.4 565.9 628.8 563.4 629.3 560.1 629.8 556.0 630.2 551.4 630.7 546.5 631.2 541.5 631.6 536.6 632.1 532.0 632.6 527.9 633.1 524.6 633.5 522.1 634.0 520.5 634.5 520.0 634.9 520.5 635.4 522.1 635.9 524.6 636.3 527.9 636.8 532.0 637.3 536.6 637.7 541.5 638.2 546.5 638.7 551.4 639.1 556.0 639.6 560.1 640.1 563.4 640.6 565.9 641.0 567.5 641.5 568.0 642.0 567.5 642.4 565.9 642.9 563.4 643.4 560.1 643.8 556.0 644.3 551.4 644.8 546.5 645.2 541.5 645.7 536.6 646.2 532.0 646.6 527.9 647.1 524.6 647.6 522.1 648.1 520.5 648.5 520.0 649.0 520.5 649.5 522.1 649.9 524.6 650.4 527.9 650.9 532.0 651.3 536.6 651.8 541.5 652.3 546.5 652.7 551.4 653.2 556.0 653.7 560.1 654.1 563.4 654.6 565.9 655.1 567.5 655.5 568.0 656.0 567.5 656.5 565.9 657.0 563.4 657.4 560.1 657.9 556.0 658.4 551.4 658.8 546.5 659.3 541.5 659.8 536.6 660.2 532.0 660.7 527.9 661.2 524.6 661.6 522.1 662.1 520.5 662.6 520.0 663.0 520.5 663.5 522.1 664.0 524.6 664.5 527.9 664.9 532.0 665.4 536.6 665.9 541.5 666.3 546.5 666.8 551.4 667.3 556.0 667.7 560.1 668.2 563.4 668.7 565.9 669.1 567.5 669.6 568.0 670.1 567.5 670.5 565.9 671.0 563.4 671.5 560.1 672.0 556.0 672.4 551.4 672.9 546.5 673.4 541.5 673.8 536.6 674.3 532.0 674.8 527.9 675.2 524.6 675.7 522.1 676.2 520.5 676.6 520.0 677.1 520.5 677.6 522.1 678.0 524.6 678.5 527.9 679.0 532.0 679.5 536.6 679.9 541.5 680.4 546.5 680.9 551.4 681.3 556.0 681.8 560.1 682.3 563.4 682.7 565.9 683.2 567.5 683.7 568.0 684.1 567.5 684.6 565.9 685.1 563.4 685.5 560.1 686.0 556.0 686.5 551.4 687.0 546.5 687.4 541.5 687.9 536.6 688.4 532.0 688.8 527.9 689.3 524.6 689.8 522.1 690.2 520.5 690.7 520.0 691.2 520.5 691.6 522.1 692.1 524.6 692.6 527.9 693.0 532.0 693.5 536.6 694.0 541.5 694.4 546.5 694.9 551.4 695.4 556.0 695.9 560.1 696.3 563.4 696.8 565.9 697.3 567.5 697.7 568.0 698.2 567.5 698.7 565.9 699.1 563.4 699.6 560.1 700.1 556.0 700.5 551.4 701.0 546.5 701.5 541.5 701.9 536.6 702.4 532.0 702.9 527.9 703.4 524.6 703.8 522.1 704.3 520.5 704.8 520.0 705.2 520.5 705.7 522.1 706.2 524.6 706.6 527.9 707.1 532.0 707.6 536.6 708.0 541.5 708.5 546.5 709.0 551.4 709.4 556.0 709.9 560.1 710.4 563.4 710.9 565.9 711.3 567.5 711.8 568.0 712.3 567.5 712.7 565.9 713.2 563.4 713.7 560.1 714.1 556.0 714.6 551.4 715.1 546.5 715.5 541.5 716.0 536.6 716.5 532.0 716.9 527.9 717.4 524.6 717.9 522.1 718.4 520.5 718.8 520.0 719.3 520.5 719.8 522.1 720.2 524.6 720.7 527.9 721.2 532.0 721.6 536.6 722.1 541.5 722.6 546.5 723.0 551.4 723.5 556.0 724.0 560.1 724.4 563.4 724.9 565.9 725.4 567.5 725.9 568.0 726.3 567.5 726.8 565.9 727.3 563.4 727.7 560.1 728.2 556.0 728.7 551.4 729.1 546.5 729.6 541.5 730.1 536.6 730.5 532.0 731.0 527.9 731.5 524.6 731.9 522.1 732.4 520.5 732.9 520.0 733.3 520.5 733.8 522.1 734.3 524.6 734.8 527.9 735.2 532.0 735.7 536.6 736.2 541.5 736.6 546.5 737.1 551.4 737.6 556.0 738.0 560.1 738.5 563.4 739.0 565.9 739.4 567.5 739.9 568.0 740.4 567.5 740.8 565.9 741.3 563.4 741.8 560.1 742.3 556.0 742.7 551.4 743.2 546.5 743.7 541.5 744.1 536.6 744.6 532.0 745.1 527.9 745.5 524.6 746.0 522.1 746.5 520.5 746.9 520.0 747.4 520.5 747.9 522.1 748.3 524.6 748.8 527.9 749.3 532.0 749.8 536.6 750.2 541.5 750.7 546.5 751.2 551.4 751.6 556.0 752.1 560.1 752.6 563.4 753.0 565.9 753.5 567.5 754.0 568.0 754.4 567.5 754.9 565.9 755.4 563.4 755.8 560.1 756.3 556.0 756.8 551.4 757.3 546.5 757.7 541.5 758.2 536.6 758.7 532.0 759.1 527.9 759.6 524.6 760.1 522.1 760.5 520.5 761.0 520.0 761.5 520.5 761.9 522.1 762.4 524.6 762.9 527.9 763.3 532.0 763.8 536.6 764.3 541.5 764.7 546.5 765.2 551.4 765.7 556.0 766.2 560.1 766.6 563.4 767.1 565.9 767.6 567.5 768.0 568.0 768.5 567.5 769.0 565.9 769.4 563.4 769.9 560.1 770.4 556.0 770.8 551.4 771.3 546.5 771.8 541.5 772.2 536.6 772.7 532.0 773.2 527.9 773.7 524.6 774.1 522.1 774.6 520.5 775.1 520.0 775.5 520.5 776.0 522.1 776.5 524.6 776.9 527.9 777.4 532.0 777.9 536.6 778.3 541.5 778.8 546.5 779.3 551.4 779.7 556.0 780.2 560.1 780.7 563.4 781.2 565.9 781.6 567.5 782.1 568.0 782.6 567.5 783.0 565.9 783.5 563.4 784.0 560.1 784.4 556.0 784.9 551.4 785.4 546.5 785.8 541.5 786.3 536.6 786.8 532.0 787.2 527.9 787.7 524.6 788.2 522.1 788.7 520.5 789.1 520.0 789.6 520.5 790.1 522.1 790.5 524.6 791.0 527.9 791.5 532.0 791.9 536.6 792.4 541.5 792.9 546.5 793.3 551.4 793.8 556.0 794.3 560.1 794.7 563.4 795.2 565.9 795.7 567.5 796.2 568.0 796.6 567.5 797.1 565.9 797.6 563.4 798.0 560.1 798.5 556.0 799.0 551.4 799.4 546.5 799.9 541.5 800.4 536.6 800.8 532.0 801.3 527.9 801.8 524.6 802.2 522.1 802.7 520.5 803.2 520.0 803.6 520.5 804.1 522.1 804.6 524.6 805.1 527.9 805.5 532.0 806.0 536.6 806.5 541.5 806.9 546.5 807.4 551.4 807.9 556.0 808.3 560.1 808.8 563.4 809.3 565.9 809.7 567.5 810.2 568.0 810.7 567.5 811.1 565.9 811.6 563.4 812.1 560.1 812.6 556.0 813.0 551.4 813.5 546.5 814.0 541.5 814.4 536.6 814.9 532.0 815.4 527.9 815.8 524.6 816.3 522.1 816.8 520.5 817.2 520.0 817.7 520.5 818.2 522.1 818.6 524.6 819.1 527.9 819.6 532.0 820.1 536.6 820.5 541.5 821.0 546.5 821.5 551.4 821.9 556.0 822.4 560.1 822.9 563.4 823.3 565.9 823.8 567.5 824.3 568.0 824.7 567.5 825.2 565.9 825.7 563.4 826.1 560.1 826.6 556.0 827.1 551.4 827.6 546.5 828.0 541.5 828.5 536.6 829.0 532.0 829.4 527.9 829.9 524.6 830.4 522.1 830.8 520.5 831.3 520.0 831.8 520.5 832.2 522.1 832.7 524.6 833.2 527.9 833.6 532.0 834.1 536.6 834.6 541.5 835.0 546.5 835.5 551.4 836.0 556.0 836.5 560.1 836.9 563.4 837.4 565.9 837.9 567.5 838.3 568.0 838.8 567.5 839.3 565.9 839.7 563.4 840.2 560.1 840.7 556.0 841.1 551.4 841.6 546.5 842.1 541.5 842.5 536.6 843.0 532.0 843.5 527.9 844.0 524.6 844.4 522.1 844.9 520.5 845.4 520.0 845.8 520.5 846.3 522.1 846.8 524.6 847.2 527.9 847.7 532.0 848.2 536.6 848.6 541.5 849.1 546.5 849.6 551.4 850.0 556.0 850.5 560.1 851.0 563.4 851.5 565.9 851.9 567.5 852.4 568.0 852.9 567.5 853.3 565.9 853.8 563.4 854.3 560.1 854.7 556.0 855.2 551.4 855.7 546.5 856.1 541.5 856.6 536.6 857.1 532.0 857.5 527.9 858.0 524.6 858.5 522.1 859.0 520.5 859.4 520.0 859.9 520.5 860.4 522.1 860.8 524.6 861.3 527.9 861.8 532.0 862.2 536.6 862.7 541.5 863.2 546.5 863.6 551.4 864.1 556.0 864.6 560.1 865.0 563.4 865.5 565.9 866.0 567.5 866.5 568.0 866.9 567.5 867.4 565.9 867.9 563.4 868.3 560.1 868.8 556.0 869.3 551.4 869.7 546.5 870.2 541.5 870.7 536.6 871.1 532.0 871.6 527.9 872.1 524.6 872.5 522.1 873.0 520.5 873.5 520.0 873.9 520.5 874.4 522.1 874.9 524.6 875.4 527.9 875.8 532.0 876.3 536.6 876.8 541.5 877.2 546.5 877.7 551.4 878.2 556.0 878.6 560.1 879.1 563.4 879.6 565.9 880.0 567.5 880.5 568.0 881.0 567.5 881.4 565.9 881.9 563.4 882.4 560.1 882.9 556.0 883.3 551.4 883.8 546.5 884.3 541.5 884.7 536.6 885.2 532.0 885.7 527.9 886.1 524.6 886.6 522.1 887.1 520.5 887.5 520.0 888.0 520.5 888.5 522.1 888.9 524.6 889.4 527.9 889.9 532.0 890.4 536.6 890.8 541.5 891.3 546.5 891.8 551.4 892.2 556.0 892.7 560.1 893.2 563.4 893.6 565.9 894.1 567.5 894.6 568.0 895.0 567.5 895.5 565.9 896.0 563.4 896.4 560.1 896.9 556.0 897.4 551.4 897.9 546.5 898.3 541.5 898.8 536.6 899.3 532.0 899.7 527.9 900.2 524.6 900.7 522.1 901.1 520.5 901.6 520.0 902.1 520.5 902.5 522.1 903.0 524.6 903.5 527.9 903.9 532.0 904.4 536.6 904.9 541.5 905.3 546.5 905.8 551.4 906.3 556.0 906.8 560.1 907.2 563.4 907.7 565.9 908.2 567.5 908.6 568.0 909.1 567.5 909.6 565.9 910.0 563.4 910.5 560.1 911.0 556.0 911.4 551.4 911.9 546.5 912.4 541.5 912.8 536.6 913.3 532.0 913.8 527.9 914.3 524.6 914.7 522.1 915.2 520.5 915.7 520.0 916.1 520.5 916.6 522.1 917.1 524.6 917.5 527.9 918.0 532.0 918.5 536.6 918.9 541.5 919.4 546.5 919.9 551.4 920.3 556.0 920.8 560.1 921.3 563.4 921.8 565.9 922.2 567.5 922.7 568.0 923.2 567.5 923.6 565.9 924.1 563.4 924.6 560.1 925.0 556.0 925.5 551.4 926.0 546.5 926.4 541.5 926.9 536.6 927.4 532.0 927.8 527.9 928.3 524.6 928.8 522.1 929.3 520.5 929.7 520.0 930.2 520.5 930.7 522.1 931.1 524.6 931.6 527.9 932.1 532.0 932.5 536.6 933.0 541.5 933.5 546.5 933.9 551.4 934.4 556.0 934.9 560.1 935.3 563.4 935.8 565.9 936.3 567.5 936.8 568.0 937.2 566.7 937.7 563.2 938.2 558.1 938.7 552.4 939.2 547.3 939.7 543.8 940.2 542.5 940.3 551.0 940.4 559.5 940.9 559.9 941.4 561.0 941.9 562.5 942.4 564.0 942.9 565.1 943.4 565.5 943.8 565.0 944.3 563.7 944.8 561.5 945.2 558.6 945.7 555.0 946.2 551.0 946.7 546.7 947.1 542.4 947.6 538.1 948.1 534.1 948.5 530.5 949.0 527.6 949.5 525.4 949.9 524.1 950.4 523.6 950.9 524.1 951.3 525.4 951.8 527.6 952.3 530.5 952.7 534.1 953.2 538.1 953.7 542.4 954.1 546.7 954.6 551.0 955.1 555.0 955.6 558.6 956.0 561.5 956.5 563.7 957.0 565.0 957.4 565.5 957.9 565.0 958.4 563.7 958.8 561.5 959.3 558.6 959.8 555.0 960.2 551.0 960.7 546.7 961.2 542.4 961.6 538.1 962.1 534.1 962.6 530.5 963.1 527.6 963.5 525.4 964.0 524.1 964.5 523.6 964.9 524.1 965.4 525.4 965.9 527.6 966.3 530.5 966.8 534.1 967.3 538.1 967.7 542.4 968.2 546.7 968.7 551.0 969.1 555.0 969.6 558.6 970.1 561.5 970.6 563.7 971.0 565.0 971.5 565.5 972.0 565.0 972.4 563.7 972.9 561.5 973.4 558.6 973.8 555.0 974.3 551.0 974.8 546.7 975.2 542.4 975.7 538.1 976.2 534.1 976.6 530.5 977.1 527.6 977.6 525.4 978.1 524.1 978.5 523.6 979.0 524.1 979.5 525.4 979.9 527.6 980.4 530.5 980.9 534.1 981.3 538.1 981.8 542.4 982.3 546.7 982.7 551.0 983.2 555.0 983.7 558.6 984.1 561.5 984.6 563.7 985.1 565.0 985.5 565.5 986.0 565.0 986.5 563.7 987.0 561.5 987.4 558.6 987.9 555.0 988.4 551.0 988.8 546.7 989.3 542.4 989.8 538.1 990.2 534.1 990.7 530.5 991.2 527.6 991.6 525.4 992.1 524.1 992.6 523.6 993.0 524.1 993.5 525.4 994.0 527.6 994.5 530.5 994.9 534.1 995.4 538.1 995.9 542.4 996.3 546.7 996.8 551.0 997.3 555.0 997.7 558.6 998.2 561.5 998.7 563.7 999.1 565.0 999.6 565.5 1000.1 565.0 1000.5 563.7 1001.0 561.5 1001.5 558.6 1002.0 555.0 1002.4 551.0 1002.9 546.7 1003.4 542.4 1003.8 538.1 1004.3 534.1 1004.8 530.5 1005.2 527.6 1005.7 525.4 1006.2 524.1 1006.6 523.6 1007.1 524.1 1007.6 525.4 1008.0 527.6 1008.5 530.5 1009.0 534.1 1009.5 538.1 1009.9 542.4 1010.4 546.7 1010.9 551.0 1011.3 555.0 1011.8 558.6 1012.3 561.5 1012.7 563.7 1013.2 565.0 1013.7 565.5 1014.1 565.0 1014.6 563.7 1015.1 561.5 1015.5 558.6 1016.0 555.0 1016.5 551.0 1017.0 546.7 1017.4 542.4 1017.9 538.1 1018.4 534.1 1018.8 530.5 1019.3 527.6 1019.8 525.4 1020.2 524.1 1020.7 523.6 1021.2 524.1 1021.6 525.4 1022.1 527.6 1022.6 530.5 1023.0 534.1 1023.5 538.1 1024.0 542.4 1024.4 546.7 1024.9 551.0 1025.4 555.0 1025.9 558.6 1026.3 561.5 1026.8 563.7 1027.3 565.0 1027.7 565.5 1028.2 565.0 1028.7 563.7 1029.1 561.5 1029.6 558.6 1030.1 555.0 1030.5 551.0 1031.0 546.7 1031.5 542.4 1031.9 538.1 1032.4 534.1 1032.9 530.5 1033.4 527.6 1033.8 525.4 1034.3 524.1 1034.8 523.6 1035.2 524.1 1035.7 525.4 1036.2 527.6 1036.6 530.5 1037.1 534.1 1037.6 538.1 1038.0 542.4 1038.5 546.7 1039.0 551.0 1039.4 555.0 1039.9 558.6 1040.4 561.5 1040.9 563.7 1041.3 565.0 1041.8 565.5 1042.3 565.0 1042.7 563.7 1043.2 561.5 1043.7 558.6 1044.1 555.0 1044.6 551.0 1045.1 546.7 1045.5 542.4 1046.0 538.1 1046.5 534.1 1046.9 530.5 1047.4 527.6 1047.9 525.4 1048.4 524.1 1048.8 523.6 1049.3 524.1 1049.8 525.4 1050.2 527.6 1050.7 530.5 1051.2 534.1 1051.6 538.1 1052.1 542.4 1052.6 546.7 1053.0 551.0 1053.5 555.0 1054.0 558.6 1054.4 561.5 1054.9 563.7 1055.4 565.0 1055.8 565.5 1056.3 565.0 1056.8 563.7 1057.3 561.5 1057.7 558.6 1058.2 555.0 1058.7 551.0 1059.1 546.7 1059.6 542.4 1060.1 538.1 1060.5 534.1 1061.0 530.5 1061.5 527.6 1061.9 525.4 1062.4 524.1 1062.9 523.6 1063.3 524.1 1063.8 525.4 1064.3 527.6 1064.8 530.5 1065.2 534.1 1065.7 538.1 1066.2 542.4 1066.6 546.7 1067.1 551.0 1067.6 555.0 1068.0 558.6 1068.5 561.5 1069.0 563.7 1069.4 565.0 1069.9 565.5 1070.4 565.0 1070.8 563.7 1071.3 561.5 1071.8 558.6 1072.3 555.0 1072.7 551.0 1073.2 546.7 1073.7 542.4 1074.1 538.1 1074.6 534.1 1075.1 530.5 1075.5 527.6 1076.0 525.4 1076.5 524.1 1076.9 523.6 1077.4 524.1 1077.9 525.4 1078.3 527.6 1078.8 530.5 1079.3 534.1 1079.8 538.1 1080.2 542.4 1080.7 546.7 1081.2 551.0 1081.6 555.0 1082.1 558.6 1082.6 561.5 1083.0 563.7 1083.5 565.0 1084.0 565.5 1084.4 565.0 1084.9 563.7 1085.4 561.5 1085.8 558.6 1086.3 555.0 1086.8 551.0 1087.3 546.7 1087.7 542.4 1088.2 538.1 1088.7 534.1 1089.1 530.5 1089.6 527.6 1090.1 525.4 1090.5 524.1 1091.0 523.6 1091.5 524.1 1091.9 525.4 1092.4 527.6 1092.9 530.5 1093.3 534.1 1093.8 538.1 1094.3 542.4 1094.7 546.7 1095.2 551.0 1095.7 555.0 1096.2 558.6 1096.6 561.5 1097.1 563.7 1097.6 565.0 1098.0 565.5 1098.5 565.0 1099.0 563.7 1099.4 561.5 1099.9 558.6 1100.4 555.0 1100.8 551.0 1101.3 546.7 1101.8 542.4 1102.2 538.1 1102.7 534.1 1103.2 530.5 1103.7 527.6 1104.1 525.4 1104.6 524.1 1105.1 523.6 1105.5 524.1 1106.0 525.4 1106.5 527.6 1106.9 530.5 1107.4 534.1 1107.9 538.1 1108.3 542.4 1108.8 546.7 1109.3 551.0 1109.7 555.0 1110.2 558.6 1110.7 561.5 1111.2 563.7 1111.6 565.0 1112.1 565.5 1112.6 565.0 1113.0 563.7 1113.5 561.5 1114.0 558.6 1114.4 555.0 1114.9 551.0 1115.4 546.7 1115.8 542.4 1116.3 538.1 1116.8 534.1 1117.2 530.5 1117.7 527.6 1118.2 525.4 1118.7 524.1 1119.1 523.6 1119.6 524.1 1120.1 525.4 1120.5 527.6 1121.0 530.5 1121.5 534.1 1121.9 538.1 1122.4 542.4 1122.9 546.7 1123.3 551.0 1123.8 555.0 1124.3 558.6 1124.7 561.5 1125.2 563.7 1125.7 565.0 1126.2 565.5 1126.6 565.0 1127.1 563.7 1127.6 561.5 1128.0 558.6 1128.5 555.0 1129.0 551.0 1129.4 546.7 1129.9 542.4 1130.4 538.1 1130.8 534.1 1131.3 530.5 1131.8 527.6 1132.2 525.4 1132.7 524.1 1133.2 523.6 1133.6 524.1 1134.1 525.4 1134.6 527.6 1135.1 530.5 1135.5 534.1 1136.0 538.1 1136.5 542.4 1136.9 546.7 1137.4 551.0 1137.9 555.0 1138.3 558.6 1138.8 561.5 1139.3 563.7 1139.7 565.0 1140.2 565.5 1140.7 565.0 1141.1 563.7 1141.6 561.5 1142.1 558.6 1142.6 555.0 1143.0 551.0 1143.5 546.7 1144.0 542.4 1144.4 538.1 1144.9 534.1 1145.4 530.5 1145.8 527.6 1146.3 525.4 1146.8 524.1 1147.2 523.6 1147.7 524.1 1148.2 525.4 1148.6 527.6 1149.1 530.5 1149.6 534.1 1150.1 538.1 1150.5 542.4 1151.0 546.7 1151.5 551.0 1151.9 555.0 1152.4 558.6 1152.9 561.5 1153.3 563.7 1153.8 565.0 1154.3 565.5 1154.7 565.0 1155.2 563.7 1155.7 561.5 1156.1 558.6 1156.6 555.0 1157.1 551.0 1157.6 546.7 1158.0 542.4 1158.5 538.1 1159.0 534.1 1159.4 530.5 1159.9 527.6 1160.4 525.4 1160.8 524.1 1161.3 523.6 1161.8 524.1 1162.2 525.4 1162.7 527.6 1163.2 530.5 1163.6 534.1 1164.1 538.1 1164.6 542.4 1165.0 546.7 1165.5 551.0 1166.0 555.0 1166.5 558.6 1166.9 561.5 1167.4 563.7 1167.9 565.0 1168.3 565.5 1168.8 565.0 1169.3 563.7 1169.7 561.5 1170.2 558.6 1170.7 555.0 1171.1 551.0 1171.6 546.7 1172.1 542.4 1172.5 538.1 1173.0 534.1 1173.5 530.5 1174.0 527.6 1174.4 525.4 1174.9 524.1 1175.4 523.6 1175.8 524.1 1176.3 525.4 1176.8 527.6 1177.2 530.5 1177.7 534.1 1178.2 538.1 1178.6 542.4 1179.1 546.7 1179.6 551.0 1180.0 555.0 1180.5 558.6 1181.0 561.5 1181.5 563.7 1181.9 565.0 1182.4 565.5 1182.9 565.0 1183.3 563.7 1183.8 561.5 1184.3 558.6 1184.7 555.0 1185.2 551.0 1185.7 546.7 1186.1 542.4 1186.6 538.1 1187.1 534.1 1187.5 530.5 1188.0 527.6 1188.5 525.4 1189.0 524.1 1189.4 523.6 1189.9 524.1 1190.4 525.4 1190.8 527.6 1191.3 530.5 1191.8 534.1 1192.2 538.1 1192.7 542.4 1193.2 546.7 1193.6 551.0 1194.1 555.0 1194.6 558.6 1195.0 561.5 1195.5 563.7 1196.0 565.0 1196.5 565.5 1196.9 565.0 1197.4 563.7 1197.9 561.5 1198.3 558.6 1198.8 555.0 1199.3 551.0 1199.7 546.7 1200.2 542.4 1200.7 538.1 1201.1 534.1 1201.6 530.5 1202.1 527.6 1202.5 525.4 1203.0 524.1 1203.5 523.6 1203.9 524.1 1204.4 525.4 1204.9 527.6 1205.4 530.5 1205.8 534.1 1206.3 538.1 1206.8 542.4 1207.2 546.7 1207.7 551.0 1208.2 555.0 1208.6 558.6 1209.1 561.5 1209.6 563.7 1210.0 565.0 1210.5 565.5 1211.0 565.0 1211.4 563.7 1211.9 561.5 1212.4 558.6 1212.9 555.0 1213.3 551.0 1213.8 546.7 1214.3 542.4 1214.7 538.1 1215.2 534.1 1215.7 530.5 1216.1 527.6 1216.6 525.4 1217.1 524.1 1217.5 523.6 1218.0 524.1 1218.5 525.4 1218.9 527.6 1219.4 530.5 1219.9 534.1 1220.4 538.1 1220.8 542.4 1221.3 546.7 1221.8 551.0 1222.2 555.0 1222.7 558.6 1223.2 561.5 1223.6 563.7 1224.1 565.0 1224.6 565.5 1225.0 565.0 1225.5 563.7 1226.0 561.5 1226.4 558.6 1226.9 555.0 1227.4 551.0 1227.9 546.7 1228.3 542.4 1228.8 538.1 1229.3 534.1 1229.7 530.5 1230.2 527.6 1230.7 525.4 1231.1 524.1 1231.6 523.6 1232.1 524.1 1232.5 525.4 1233.0 527.6 1233.5 530.5 1233.9 534.1 1234.4 538.1 1234.9 542.4 1235.3 546.7 1235.8 551.0 1236.3 555.0 1236.8 558.6 1237.2 561.5 1237.7 563.7 1238.2 565.0 1238.6 565.5 1239.1 565.0 1239.6 563.7 1240.0 561.5 1240.5 558.6 1241.0 555.0 1241.4 551.0 1241.9 546.7 1242.4 542.4 1242.8 538.1 1243.3 534.1 1243.8 530.5 1244.3 527.6 1244.7 525.4 1245.2 524.1 1245.7 523.6 1246.1 524.1 1246.6 525.4 1247.1 527.6 1247.5 530.5 1248.0 534.1 1248.5 538.1 1248.9 542.4 1249.4 546.7 1249.9 551.0 1250.3 555.0 1250.8 558.6 1251.3 561.5 1251.8 563.7 1252.2 565.0 1252.7 565.5 1253.2 565.0 1253.6 563.7 1254.1 561.5 1254.6 558.6 1255.0 555.0 1255.5 551.0 1256.0 546.7 1256.4 542.4 1256.9 538.1 1257.4 534.1 1257.8 530.5 1258.3 527.6 1258.8 525.4 1259.3 524.1 1259.7 523.6 1260.2 524.1 1260.7 525.4 1261.1 527.6 1261.6 530.5 1262.1 534.1 1262.5 538.1 1263.0 542.4 1263.5 546.7 1263.9 551.0 1264.4 555.0 1264.9 558.6 1265.3 561.5 1265.8 563.7 1266.3 565.0 1266.8 565.5 1267.2 565.0 1267.7 563.7 1268.2 561.5 1268.6 558.6 1269.1 555.0 1269.6 551.0 1270.0 546.7 1270.5 542.4 1271.0 538.1 1271.4 534.1 1271.9 530.5 1272.4 527.6 1272.8 525.4 1273.3 524.1 1273.8 523.6 1274.2 524.1 1274.7 525.4 1275.2 527.6 1275.7 530.5 1276.1 534.1 1276.6 538.1 1277.1 542.4 1277.5 546.7 1278.0 551.0 1278.5 555.0 1278.9 558.6 1279.4 561.5 1279.9 563.7 1280.3 565.0 1280.8 565.5 1281.3 565.0 1281.7 563.7 1282.2 561.5 1282.7 558.6 1283.2 555.0 1283.6 551.0 1284.1 546.7 1284.6 542.4 1285.0 538.1 1285.5 534.1 1286.0 530.5 1286.4 527.6 1286.9 525.4 1287.4 524.1 1287.8 523.6 1288.3 524.1 1288.8 525.4 1289.2 527.6 1289.7 530.5 1290.2 534.1 1290.7 538.1 1291.1 542.4 1291.6 546.7 1292.1 551.0 1292.5 555.0 1293.0 558.6 1293.5 561.5 1293.9 563.7 1294.4 565.0 1294.9 565.5 1295.3 565.0 1295.8 563.7 1296.3 561.5 1296.7 558.6 1297.2 555.0 1297.7 551.0 1298.2 546.7 1298.6 542.4 1299.1 538.1 1299.6 534.1 1300.0 530.5 1300.5 527.6 1301.0 525.4 1301.4 524.1 1301.9 523.6 1302.4 524.1 1302.8 525.4 1303.3 527.6 1303.8 530.5 1304.2 534.1 1304.7 538.1 1305.2 542.4 1305.6 546.7 1306.1 551.0 1306.6 555.0 1307.1 558.6 1307.5 561.5 1308.0 563.7 1308.5 565.0 1308.9 565.5 1309.4 565.0 1309.9 563.7 1310.3 561.5 1310.8 558.6 1311.3 555.0 1311.7 551.0 1312.2 546.7 1312.7 542.4 1313.1 538.1 1313.6 534.1 1314.1 530.5 1314.6 527.6 1315.0 525.4 1315.5 524.1 1316.0 523.6 1316.4 524.1 1316.9 525.4 1317.4 527.6 1317.8 530.5 1318.3 534.1 1318.8 538.1 1319.2 542.4 1319.7 546.7 1320.2 551.0 1320.6 555.0 1321.1 558.6 1321.6 561.5 1322.1 563.7 1322.5 565.0 1323.0 565.5 1323.5 565.0 1323.9 563.7 1324.4 561.5 1324.9 558.6 1325.3 555.0 1325.8 551.0 1326.3 546.7 1326.7 542.4 1327.2 538.1 1327.7 534.1 1328.1 530.5 1328.6 527.6 1329.1 525.4 1329.6 524.1 1330.0 523.6 1330.5 524.1 1331.0 525.4 1331.4 527.6 1331.9 530.5 1332.4 534.1 1332.8 538.1 1333.3 542.4 1333.8 546.7 1334.2 551.0 1334.7 555.0 1335.2 558.6 1335.6 561.5 1336.1 563.7 1336.6 565.0 1337.0 565.5 1337.5 565.0 1338.0 563.7 1338.5 561.5 1338.9 558.6 1339.4 555.0 1339.9 551.0 1340.3 546.7 1340.8 542.4 1341.3 538.1 1341.7 534.1 1342.2 530.5 1342.7 527.6 1343.1 525.4 1343.6 524.1 1344.1 523.6 1344.5 524.1 1345.0 525.4 1345.5 527.6 1346.0 530.5 1346.4 534.1 1346.9 538.1 1347.4 542.4 1347.8 546.7 1348.3 551.0 1348.8 555.0 1349.2 558.6 1349.7 561.5 1350.2 563.7 1350.6 565.0 1351.1 565.5 1351.6 565.0 1352.0 563.7 1352.5 561.5 1353.0 558.6 1353.5 555.0 1353.9 551.0 1354.4 546.7 1354.9 542.4 1355.3 538.1 1355.8 534.1 1356.3 530.5 1356.7 527.6 1357.2 525.4 1357.7 524.1 1358.1 523.6 1358.6 524.1 1359.1 525.4 1359.5 527.6 1360.0 530.5 1360.5 534.1 1361.0 538.1 1361.4 542.4 1361.9 546.7 1362.4 551.0 1362.8 555.0 1363.3 558.6 1363.8 561.5 1364.2 563.7 1364.7 565.0 1365.2 565.5 1365.6 565.0 1366.1 563.7 1366.6 561.5 1367.0 558.6 1367.5 555.0 1368.0 551.0 1368.5 546.7 1368.9 542.4 1369.4 538.1 1369.9 534.1 1370.3 530.5 1370.8 527.6 1371.3 525.4 1371.7 524.1 1372.2 523.6 1372.7 524.1 1373.1 525.4 1373.6 527.6 1374.1 530.5 1374.5 534.1 1375.0 538.1 1375.5 542.4 1375.9 546.7 1376.4 551.0 1376.9 555.0 1377.4 558.6 1377.8 561.5 1378.3 563.7 1378.8 565.0 1379.2 565.5 1379.7 565.0 1380.2 563.7 1380.6 561.5 1381.1 558.6 1381.6 555.0 1382.0 551.0 1382.5 546.7 1383.0 542.4 1383.4 538.1 1383.9 534.1 1384.4 530.5 1384.9 527.6 1385.3 525.4 1385.8 524.1 1386.3 523.6 1386.7 524.1 1387.2 525.4 1387.7 527.6 1388.1 530.5 1388.6 534.1 1389.1 538.1 1389.5 542.4 1390.0 546.7 1390.5 551.0 1390.9 555.0 1391.4 558.6 1391.9 561.5 1392.4 563.7 1392.8 565.0 1393.3 565.5 1393.8 565.0 1394.2 563.7 1394.7 561.5 1395.2 558.6 1395.6 555.0 1396.1 551.0 1396.6 546.7 1397.0 542.4 1397.5 538.1 1398.0 534.1 1398.4 530.5 1398.9 527.6 1399.4 525.4 1399.9 524.1 1400.3 523.6 1400.8 524.1 1401.3 525.4 1401.7 527.6 1402.2 530.5 1402.7 534.1 1403.1 538.1 1403.6 542.4 1404.1 546.7 1404.5 551.0 1405.0 555.0 1405.5 558.6 1405.9 561.5 1406.4 563.7 1406.9 565.0 1407.3 565.5 1407.8 565.0 1408.3 563.7 1408.8 561.5 1409.2 558.6 1409.7 555.0 1410.2 551.0 1410.6 546.7 1411.1 542.4 1411.6 538.1 1412.0 534.1 1412.5 530.5 1413.0 527.6 1413.4 525.4 1413.9 524.1 1414.4 523.6 1414.8 524.1 1415.3 525.4 1415.8 527.6 1416.3 530.5 1416.7 534.1 1417.2 538.1 1417.7 542.4 1418.1 546.7 1418.6 551.0 1419.1 555.0 1419.5 558.6 1420.0 561.5 1420.5 563.7 1420.9 565.0 1421.4 565.5 1421.9 565.0 1422.3 563.7 1422.8 561.5 1423.3 558.6 1423.8 555.0 1424.2 551.0 1424.7 546.7 1425.2 542.4 1425.6 538.1 1426.1 534.1 1426.6 530.5 1427.0 527.6 1427.5 525.4 1428.0 524.1 1428.4 523.6 1428.9 524.1 1429.4 525.4 1429.8 527.6 1430.3 530.5 1430.8 534.1 1431.3 538.1 1431.7 542.4 1432.2 546.7 1432.7 551.0 1433.1 555.0 1433.6 558.6 1434.1 561.5 1434.5 563.7 1435.0 565.0 1435.5 565.5 1435.9 565.0 1436.4 563.7 1436.9 561.5 1437.3 558.6 1437.8 555.0 1438.3 551.0 1438.8 546.7 1439.2 542.4 1439.7 538.1 1440.2 534.1 1440.6 530.5 1441.1 527.6 1441.6 525.4 1442.0 524.1 1442.5 523.6 1443.0 524.1 1443.4 525.4 1443.9 527.6 1444.4 530.5 1444.8 534.1 1445.3 538.1 1445.8 542.4 1446.2 546.7 1446.7 551.0 1447.2 555.0 1447.7 558.6 1448.1 561.5 1448.6 563.7 1449.1 565.0 1449.5 565.5 1450.0 565.0 1450.5 563.7 1450.9 561.5 1451.4 558.6 1451.9 555.0 1452.3 551.0 1452.8 546.7 1453.3 542.4 1453.7 538.1 1454.2 534.1 1454.7 530.5 1455.2 527.6 1455.6 525.4 1456.1 524.1 1456.6 523.6 1457.0 524.1 1457.5 525.4 1458.0 527.6 1458.4 530.5 1458.9 534.1 1459.4 538.1 1459.8 542.4 1460.3 546.7 1460.8 551.0 1461.2 555.0 1461.7 558.6 1462.2 561.5 1462.7 563.7 1463.1 565.0 1463.6 565.5 1464.1 565.0 1464.5 563.7 1465.0 561.5 1465.5 558.6 1465.9 555.0 1466.4 551.0 1466.9 546.7 1467.3 542.4 1467.8 538.1 1468.3 534.1 1468.7 530.5 1469.2 527.6 1469.7 525.4 1470.2 524.1 1470.6 523.6 1471.1 524.1 1471.6 525.4 1472.0 527.6 1472.5 530.5 1473.0 534.1 1473.4 538.1 1473.9 542.4 1474.4 546.7 1474.8 551.0 1475.3 555.0 1475.8 558.6 1476.2 561.5 1476.7 563.7 1477.2 565.0 1477.7 565.5 1478.1 565.0 1478.6 563.7 1479.1 561.5 1479.5 558.6 1480.0 555.0 1480.5 551.0 1480.9 546.7 1481.4 542.4 1481.9 538.1 1482.3 534.1 1482.8 530.5 1483.3 527.6 1483.7 525.4 1484.2 524.1 1484.7 523.6 1485.1 524.1 1485.6 525.4 1486.1 527.6 1486.6 530.5 1487.0 534.1 1487.5 538.1 1488.0 542.4 1488.4 546.7 1488.9 551.0 1489.4 555.0 1489.8 558.6 1490.3 561.5 1490.8 563.7 1491.2 565.0 1491.7 565.5 1492.2 565.0 1492.6 563.7 1493.1 561.5 1493.6 558.6 1494.1 555.0 1494.5 551.0 1495.0 546.7 1495.5 542.4 1495.9 538.1 1496.4 534.1 1496.9 530.5 1497.3 527.6 1497.8 525.4 1498.3 524.1 1498.7 523.6 1499.2 524.1 1499.7 525.4 1500.1 527.6 1500.6 530.5 1501.1 534.1 1501.6 538.1 1502.0 542.4 1502.5 546.7 1503.0 551.0 1503.4 555.0 1503.9 558.6 1504.4 561.5 1504.8 563.7 1505.3 565.0 1505.8 565.5 1506.2 565.0 1506.7 563.7 1507.2 561.5 1507.6 558.6 1508.1 555.0 1508.6 551.0 1509.1 546.7 1509.5 542.4 1510.0 538.1 1510.5 534.1 1510.9 530.5 1511.4 527.6 1511.9 525.4 1512.3 524.1 1512.8 523.6 1513.3 524.1 1513.7 525.4 1514.2 527.6 1514.7 530.5 1515.1 534.1 1515.6 538.1 1516.1 542.4 1516.5 546.7 1517.0 551.0 1517.5 555.0 1518.0 558.6 1518.4 561.5 1518.9 563.7 1519.4 565.0 1519.8 565.5 1520.3 565.0 1520.8 563.7 1521.2 561.5 1521.7 558.6 1522.2 555.0 1522.6 551.0 1523.1 546.7 1523.6 542.4 1524.0 538.1 1524.5 534.1 1525.0 530.5 1525.5 527.6 1525.9 525.4 1526.4 524.1 1526.9 523.6 1527.3 524.1 1527.8 525.4 1528.3 527.6 1528.7 530.5 1529.2 534.1 1529.7 538.1 1530.1 542.4 1530.6 546.7 1531.1 551.0 1531.5 555.0 1532.0 558.6 1532.5 561.5 1533.0 563.7 1533.4 565.0 1533.9 565.5 1534.4 565.0 1534.8 563.7 1535.3 561.5 1535.8 558.6 1536.2 555.0 1536.7 551.0 1537.2 546.7 1537.6 542.4 1538.1 538.1 1538.6 534.1 1539.0 530.5 1539.5 527.6 1540.0 525.4 1540.5 524.1 1540.9 523.6 1541.4 524.1 1541.9 525.4 1542.3 527.6 1542.8 530.5 1543.3 534.1 1543.7 538.1 1544.2 542.4 1544.7 546.7 1545.1 551.0 1545.6 555.0 1546.1 558.6 1546.5 561.5 1547.0 563.7 1547.5 565.0 1548.0 565.5 1548.4 565.0 1548.9 563.7 1549.4 561.5 1549.8 558.6 1550.3 555.0 1550.8 551.0 1551.2 546.7 1551.7 542.4 1552.2 538.1 1552.6 534.1 1553.1 530.5 1553.6 527.6 1554.0 525.4 1554.5 524.1 1555.0 523.6 1555.4 524.1 1555.9 525.4 1556.4 527.6 1556.9 530.5 1557.3 534.1 1557.8 538.1 1558.3 542.4 1558.7 546.7 1559.2 551.0 1559.7 555.0 1560.1 558.6 1560.6 561.5 1561.1 563.7 1561.5 565.0 1562.0 565.5 1562.5 565.0 1562.9 563.7 1563.4 561.5 1563.9 558.6 1564.4 555.0 1564.8 551.0 1565.3 546.7 1565.8 542.4 1566.2 538.1 1566.7 534.1 1567.2 530.5 1567.6 527.6 1568.1 525.4 1568.6 524.1 1569.0 523.6 1569.5 524.1 1570.0 525.4 1570.4 527.6 1570.9 530.5 1571.4 534.1 1571.9 538.1 1572.3 542.4 1572.8 546.7 1573.3 551.0 1573.7 555.0 1574.2 558.6 1574.7 561.5 1575.1 563.7 1575.6 565.0 1576.1 565.5 1576.5 565.0 1577.0 563.7 1577.5 561.5 1577.9 558.6 1578.4 555.0 1578.9 551.0 1579.4 546.7 1579.8 542.4 1580.3 538.1 1580.8 534.1 1581.2 530.5 1581.7 527.6 1582.2 525.4 1582.6 524.1 1583.1 523.6 1583.6 524.1 1584.0 525.4 1584.5 527.6 1585.0 530.5 1585.4 534.1 1585.9 538.1 1586.4 542.4 1586.8 546.7 1587.3 551.0 1587.8 555.0 1588.3 558.6 1588.7 561.5 1589.2 563.7 1589.7 565.0 1590.1 565.5 1590.6 565.0 1591.1 563.7 1591.5 561.5 1592.0 558.6 1592.5 555.0 1592.9 551.0 1593.4 546.7 1593.9 542.4 1594.3 538.1 1594.8 534.1 1595.3 530.5 1595.8 527.6 1596.2 525.4 1596.7 524.1 1597.2 523.6 1597.6 524.1 1598.1 525.4 1598.6 527.6 1599.0 530.5 1599.5 534.1 1600.0 538.1 1600.4 542.4 1600.9 546.7 1601.4 551.0 1601.8 555.0 1602.3 558.6 1602.8 561.5 1603.3 563.7 1603.7 565.0 1604.2 565.5 1604.7 565.0 1605.1 563.7 1605.6 561.5 1606.1 558.6 1606.5 555.0 1607.0 551.0 1607.5 546.7 1607.9 542.4 1608.4 538.1 1608.9 534.1 1609.3 530.5 1609.8 527.6 1610.3 525.4 1610.8 524.1 1611.2 523.6 1611.7 524.1 1612.2 525.4 1612.6 527.6 1613.1 530.5 1613.6 534.1 1614.0 538.1 1614.5 542.4 1615.0 546.7 1615.4 551.0 1615.9 555.0 1616.4 558.6 1616.8 561.5 1617.3 563.7 1617.8 565.0 1618.2 565.5 1618.7 565.0 1619.2 563.7 1619.7 561.5 1620.1 558.6 1620.6 555.0 1621.1 551.0 1621.5 546.7 1622.0 542.4 1622.5 538.1 1622.9 534.1 1623.4 530.5 1623.9 527.6 1624.3 525.4 1624.8 524.1 1625.3 523.6 1625.7 524.1 1626.2 525.4 1626.7 527.6 1627.2 530.5 1627.6 534.1 1628.1 538.1 1628.6 542.4 1629.0 546.7 1629.5 551.0 1630.0 555.0 1630.4 558.6 1630.9 561.5 1631.4 563.7 1631.8 565.0 1632.3 565.5 1632.8 565.0 1633.2 563.7 1633.7 561.5 1634.2 558.6 1634.7 555.0 1635.1 551.0 1635.6 546.7 1636.1 542.4 1636.5 538.1 1637.0 534.1 1637.5 530.5 1637.9 527.6 1638.4 525.4 1638.9 524.1 1639.3 523.6 1639.8 525.6 1640.2 530.9 1640.7 537.3 1641.1 542.6 1641.6 544.6" stroke="#c44444" stroke-width="3.0" fill="none" stroke-linejoin="round"/>
<path d="M236.5 684.5L237.5 686.5 238.9 689.1 240.6 692.3 242.4 695.8 244.3 699.4 246.2 703.0 248.0 706.4 249.6 709.3 251.0 711.9 252.3 714.3 253.6 716.6 254.8 718.8 255.9 721.0 257.1 723.0 258.3 725.0 259.5 727.0 260.7 728.9 262.0 730.8 263.2 732.5 264.4 734.2 265.6 735.9 266.9 737.5 268.1 739.1 269.3 740.7 270.5 742.3 271.8 743.9 273.0 745.4 274.2 746.9 275.4 748.4 276.7 749.8 277.9 751.2 279.1 752.5 280.3 753.7 281.3 754.8 282.3 755.9 283.4 756.9 284.5 757.9 285.8 759.0 287.2 760.1 288.9 761.4 290.9 762.8 293.1 764.4 295.6 766.1 298.1 767.9 300.8 769.6 303.4 771.2 306.1 772.8 308.6 774.1 311.1 775.3 313.5 776.3 316.0 777.3 318.4 778.1 320.8 778.9 323.3 779.7 325.7 780.3 328.2 781.0 330.6 781.6 333.0 782.2 335.3 782.7 337.6 783.1 340.0 783.5 342.5 783.9 345.1 784.2 347.9 784.5 350.8 784.8 353.9 785.0 357.1 785.2 360.4 785.4 363.7 785.5 367.2 785.6 370.8 785.6 374.4 785.6 378.1 785.6 381.9 785.5 385.8 785.3 389.8 785.2 393.9 785.0 398.1 784.7 402.4 784.4 406.8 784.0 411.4 783.5 416.1 783.0 421.0 782.4 426.0 781.7 431.1 781.0 436.1 780.3 441.1 779.6 446.1 779.0 451.1 778.4 456.1 777.7 461.3 777.1 466.3 776.4 471.4 775.8 476.2 775.2 480.9 774.6 485.4 774.1 489.6 773.6 493.6 773.2 497.3 772.7 501.0 772.3 504.6 772.0 508.1 771.7 511.7 771.4 515.3 771.2 519.0 771.1 522.6 771.0 526.2 771.0 529.9 771.0 533.5 771.1 537.1 771.1 540.7 771.2 544.3 771.2 547.9 771.2 551.4 771.1 555.0 771.1 558.5 771.0 562.1 771.0 565.7 771.0 569.5 771.0 573.3 771.0 577.2 771.0 581.0 771.1 584.8 771.1 588.8 771.2 592.8 771.3 597.1 771.4 601.7 771.6 606.7 771.9 612.1 772.3 617.8 772.7 623.8 773.2 630.1 773.7 636.5 774.3 642.9 774.9 649.4 775.4 655.7 776.0 661.7 776.5 667.4 777.1 673.0 777.7 678.7 778.2 684.7 778.8 691.2 779.4 698.5 779.9 706.7 780.5 716.1 781.1 726.6 781.6 737.9 782.2 749.7 782.8 761.7 783.3 773.6 783.9 785.1 784.5 796.0 785.0 806.3 785.5 816.5 786.1 826.5 786.6 836.3 787.1 845.9 787.6 855.2 788.1 864.4 788.7 873.3 789.2 881.8 789.7 890.0 790.3 897.8 790.8 905.5 791.4 913.1 791.9 920.7 792.5 928.6 793.0 936.7 793.6 945.1 794.2 953.7 794.7 962.4 795.3 971.2 795.9 980.1 796.5 989.0 797.1 997.9 797.7 1006.7 798.3 1015.5 799.0 1024.4 799.9 1033.2 800.8 1042.1 801.7 1050.9 802.5 1059.8 803.2 1068.7 803.5 1077.6 803.5 1086.5 803.1 1095.5 802.3 1104.4 801.3 1113.4 800.1 1122.4 798.8 1131.3 797.5 1140.2 796.2 1149.0 795.0 1157.7 793.9 1166.4 792.8 1175.1 791.7 1183.7 790.6 1192.2 789.5 1200.8 788.4 1209.4 787.2 1218.0 786.0 1226.6 784.7 1235.2 783.4 1243.7 782.1 1252.3 780.7 1260.9 779.4 1269.5 778.0 1278.2 776.7 1287.0 775.5 1295.9 774.3 1304.9 773.1 1314.0 772.0 1323.2 770.9 1332.3 769.8 1341.3 768.8 1350.3 767.7 1359.0 766.7 1367.7 765.7 1376.3 764.6 1384.9 763.6 1393.4 762.6 1401.7 761.7 1409.8 760.8 1417.7 760.0 1425.2 759.3 1432.6 758.7 1439.9 758.2 1447.0 757.7 1453.8 757.3 1460.4 757.0 1466.5 756.7 1472.0 756.5 1477.0 756.3 1481.1 756.2 1484.3 756.1 1486.8 756.2 1489.0 756.2 1491.0 756.3 1493.3 756.5 1496.0 756.6 1499.4 756.8 1503.5 757.0 1508.0 757.3 1512.9 757.7 1518.0 758.1 1523.3 758.4 1528.6 758.7 1533.8 758.9 1539.0 759.0 1544.0 758.9 1548.9 758.8 1553.7 758.6 1558.6 758.3 1563.7 757.9 1568.9 757.5 1574.5 757.0 1580.5 756.5 1587.3 755.8 1595.2 755.0 1603.5 754.1 1612.0 753.1 1620.1 752.1 1627.5 751.3 1633.7 750.5 1638.3 750.0" stroke="#c44444" stroke-width="3.0" fill="none" stroke-linejoin="round"/>
<path d="M236.0 940.5L236.5 940.5 237.0 940.5 237.5 940.5 238.0 940.5 238.5 940.5 239.0 940.5 239.5 940.5 240.0 940.5 240.5 940.5 241.0 940.5 241.5 940.5 242.0 940.5 242.5 940.2 242.9 939.2 243.4 938.0 243.9 936.8 244.3 935.8 244.8 935.5 245.3 935.7 245.7 936.1 246.2 936.9 246.7 937.9 247.1 939.1 247.6 940.5 248.1 942.0 248.5 943.5 249.0 945.0 249.5 946.4 250.0 947.6 250.4 948.6 250.9 949.4 251.4 949.8 251.8 950.0 252.3 949.7 252.8 948.9 253.2 947.6 253.7 945.8 254.2 943.6 254.6 941.2 255.1 938.5 255.6 935.9 256.0 933.3 256.5 930.8 257.0 928.7 257.5 926.9 257.9 925.5 258.4 924.7 258.9 924.4 259.3 924.8 259.8 926.1 260.3 928.1 260.7 930.9 261.2 934.1 261.7 937.8 262.1 941.8 262.6 945.9 263.1 949.9 263.5 953.6 264.0 956.9 264.5 959.6 265.0 961.6 265.4 962.9 265.9 963.3 266.4 962.7 266.8 961.1 267.3 958.5 267.8 954.9 268.2 950.7 268.7 945.8 269.2 940.7 269.6 935.4 270.1 930.2 270.6 925.4 271.0 921.1 271.5 917.6 272.0 915.0 272.5 913.3 272.9 912.8 273.4 913.4 273.9 915.4 274.3 918.5 274.8 922.8 275.3 927.9 275.7 933.6 276.2 939.8 276.7 946.1 277.1 952.3 277.6 958.1 278.1 963.2 278.5 967.4 279.0 970.6 279.5 972.5 279.9 973.2 280.4 972.4 280.9 970.3 281.4 966.8 281.8 962.1 282.3 956.5 282.8 950.1 283.2 943.3 283.7 936.3 284.2 929.5 284.6 923.1 285.1 917.5 285.6 912.8 286.0 909.3 286.5 907.1 287.0 906.4 287.4 907.2 287.9 909.4 288.4 913.0 288.9 917.8 289.3 923.6 289.8 930.1 290.3 937.1 290.7 944.3 291.2 951.3 291.7 957.9 292.1 963.7 292.6 968.4 293.1 972.0 293.5 974.2 294.0 975.0 294.5 974.3 294.9 972.1 295.4 968.5 295.9 963.8 296.4 958.1 296.8 951.6 297.3 944.7 297.8 937.6 298.2 930.7 298.7 924.2 299.2 918.5 299.6 913.8 300.1 910.2 300.6 908.0 301.0 907.3 301.5 908.0 302.0 910.1 302.4 913.4 302.9 917.9 303.4 923.3 303.9 929.4 304.3 936.0 304.8 942.7 305.3 949.2 305.7 955.4 306.2 960.8 306.7 965.3 307.1 968.6 307.6 970.7 308.1 971.4 308.5 970.7 309.0 968.8 309.5 965.6 309.9 961.4 310.4 956.3 310.9 950.5 311.4 944.3 311.8 938.0 312.3 931.8 312.8 926.0 313.2 920.9 313.7 916.7 314.2 913.5 314.6 911.6 315.1 910.9 315.6 911.6 316.0 913.4 316.5 916.4 317.0 920.4 317.4 925.3 317.9 930.8 318.4 936.6 318.8 942.7 319.3 948.5 319.8 954.0 320.3 958.9 320.7 962.9 321.2 965.9 321.7 967.7 322.1 968.4 322.6 967.8 323.1 966.0 323.5 963.2 324.0 959.5 324.5 954.9 324.9 949.8 325.4 944.3 325.9 938.6 326.3 933.1 326.8 928.0 327.3 923.4 327.8 919.7 328.2 916.9 328.7 915.1 329.2 914.5 329.6 915.1 330.1 916.7 330.6 919.4 331.0 922.9 331.5 927.2 332.0 932.0 332.4 937.2 332.9 942.5 333.4 947.7 333.8 952.5 334.3 956.8 334.8 960.3 335.3 963.0 335.7 964.6 336.2 965.2 336.7 964.6 337.1 963.1 337.6 960.6 338.1 957.2 338.5 953.1 339.0 948.5 339.5 943.5 339.9 938.5 340.4 933.5 340.9 928.9 341.3 924.8 341.8 921.4 342.3 918.9 342.8 917.4 343.2 916.8 343.7 917.3 344.2 918.8 344.6 921.2 345.1 924.5 345.6 928.4 346.0 932.8 346.5 937.5 347.0 942.3 347.4 947.0 347.9 951.4 348.4 955.3 348.8 958.5 349.3 961.0 349.8 962.4 350.2 963.0 350.7 962.5 351.2 961.0 351.7 958.7 352.1 955.7 352.6 952.0 353.1 947.7 353.5 943.3 354.0 938.7 354.5 934.2 354.9 930.0 355.4 926.2 355.9 923.2 356.3 920.9 356.8 919.4 357.3 919.0 357.7 919.4 358.2 920.7 358.7 922.9 359.2 925.8 359.6 929.3 360.1 933.2 360.6 937.4 361.0 941.7 361.5 945.9 362.0 949.9 362.4 953.4 362.9 956.2 363.4 958.4 363.8 959.7 364.3 960.2 364.8 959.7 365.2 958.5 365.7 956.5 366.2 953.8 366.7 950.5 367.1 946.8 367.6 942.9 368.1 938.9 368.5 934.9 369.0 931.3 369.5 928.0 369.9 925.3 370.4 923.3 370.9 922.0 371.3 921.6 371.8 922.0 372.3 923.2 372.7 925.2 373.2 927.8 373.7 930.9 374.2 934.5 374.6 938.3 375.1 942.2 375.6 946.0 376.0 949.6 376.5 952.7 377.0 955.3 377.4 957.3 377.9 958.5 378.4 958.9 378.8 958.5 379.3 957.3 379.8 955.4 380.2 952.8 380.7 949.7 381.2 946.2 381.7 942.4 382.1 938.6 382.6 934.8 383.1 931.3 383.5 928.2 384.0 925.6 384.5 923.7 384.9 922.5 385.4 922.1 385.9 922.5 386.3 923.7 386.8 925.6 387.3 928.2 387.7 931.3 388.2 934.8 388.7 938.6 389.1 942.4 389.6 946.2 390.1 949.7 390.6 952.8 391.0 955.4 391.5 957.3 392.0 958.5 392.4 958.9 392.9 958.5 393.4 957.3 393.8 955.4 394.3 952.7 394.8 949.6 395.2 946.0 395.7 942.2 396.2 938.3 396.6 934.5 397.1 930.9 397.6 927.8 398.1 925.1 398.5 923.2 399.0 922.0 399.5 921.6 399.9 922.0 400.4 923.2 400.9 925.2 401.3 927.9 401.8 931.2 402.3 934.8 402.7 938.7 403.2 942.7 403.7 946.7 404.1 950.3 404.6 953.6 405.1 956.2 405.6 958.2 406.0 959.5 406.5 959.9 407.0 959.5 407.4 958.2 407.9 956.1 408.4 953.4 408.8 950.1 409.3 946.3 409.8 942.3 410.2 938.2 410.7 934.2 411.2 930.4 411.6 927.1 412.1 924.4 412.6 922.3 413.1 921.1 413.5 920.6 414.0 921.1 414.5 922.4 414.9 924.6 415.4 927.6 415.9 931.1 416.3 935.1 416.8 939.4 417.3 943.8 417.7 948.1 418.2 952.1 418.7 955.6 419.1 958.5 419.6 960.7 420.1 962.1 420.6 962.5 421.0 962.1 421.5 960.6 422.0 958.4 422.4 955.3 422.9 951.6 423.4 947.4 423.8 943.0 424.3 938.4 424.8 934.0 425.2 929.8 425.7 926.1 426.2 923.0 426.6 920.8 427.1 919.3 427.6 918.9 428.0 919.3 428.5 920.8 429.0 923.1 429.5 926.2 429.9 930.0 430.4 934.3 430.9 938.8 431.3 943.5 431.8 948.0 432.3 952.3 432.7 956.0 433.2 959.2 433.7 961.5 434.1 962.9 434.6 963.4 435.1 962.9 435.5 961.4 436.0 959.1 436.5 955.9 437.0 952.1 437.4 947.7 437.9 943.1 438.4 938.3 438.8 933.7 439.3 929.4 439.8 925.5 440.2 922.3 440.7 920.0 441.2 918.5 441.6 918.0 442.1 918.5 442.6 920.0 443.0 922.4 443.5 925.6 444.0 929.4 444.5 933.8 444.9 938.5 445.4 943.2 445.9 947.9 446.3 952.3 446.8 956.1 447.3 959.3 447.7 961.7 448.2 963.2 448.7 963.7 449.1 963.2 449.6 961.7 450.1 959.3 450.5 956.1 451.0 952.3 451.5 947.9 452.0 943.3 452.4 938.5 452.9 933.8 453.4 929.5 453.8 925.6 454.3 922.4 454.8 920.0 455.2 918.5 455.7 918.0 456.2 918.5 456.6 920.0 457.1 922.4 457.6 925.5 458.0 929.4 458.5 933.7 459.0 938.3 459.4 943.1 459.9 947.7 460.4 952.0 460.9 955.9 461.3 959.0 461.8 961.4 462.3 962.9 462.7 963.4 463.2 962.9 463.7 961.4 464.1 959.1 464.6 956.0 465.1 952.2 465.5 948.0 466.0 943.5 466.5 938.8 466.9 934.3 467.4 930.0 467.9 926.3 468.4 923.1 468.8 920.8 469.3 919.4 469.8 918.9 470.2 919.4 470.7 920.8 471.2 923.1 471.6 926.1 472.1 929.8 472.6 934.0 473.0 938.4 473.5 943.0 474.0 947.4 474.4 951.6 474.9 955.3 475.4 958.3 475.9 960.6 476.3 962.0 476.8 962.5 477.3 962.0 477.7 960.6 478.2 958.3 478.7 955.3 479.1 951.6 479.6 947.4 480.1 943.0 480.5 938.4 481.0 934.0 481.5 929.8 481.9 926.1 482.4 923.1 482.9 920.8 483.4 919.4 483.8 918.9 484.3 919.4 484.8 920.8 485.2 923.1 485.7 926.1 486.2 929.8 486.6 934.0 487.1 938.4 487.6 943.0 488.0 947.4 488.5 951.6 489.0 955.3 489.4 958.3 489.9 960.6 490.4 962.0 490.9 962.5 491.3 962.0 491.8 960.6 492.3 958.3 492.7 955.3 493.2 951.6 493.7 947.4 494.1 943.0 494.6 938.4 495.1 934.0 495.5 929.8 496.0 926.1 496.5 923.1 496.9 920.8 497.4 919.4 497.9 918.9 498.3 919.4 498.8 920.8 499.3 923.1 499.8 926.1 500.2 929.8 500.7 934.0 501.2 938.4 501.6 943.0 502.1 947.4 502.6 951.6 503.0 955.3 503.5 958.3 504.0 960.6 504.4 962.0 504.9 962.5 505.4 962.0 505.8 960.6 506.3 958.3 506.8 955.3 507.3 951.6 507.7 947.4 508.2 943.0 508.7 938.4 509.1 934.0 509.6 929.8 510.1 926.1 510.5 923.1 511.0 920.8 511.5 919.4 511.9 918.9 512.4 919.4 512.9 920.8 513.3 923.1 513.8 926.1 514.3 929.8 514.8 934.0 515.2 938.4 515.7 943.0 516.2 947.4 516.6 951.6 517.1 955.2 517.6 958.3 518.0 960.6 518.5 962.0 519.0 962.5 519.4 962.0 519.9 960.6 520.4 958.3 520.8 955.3 521.3 951.6 521.8 947.4 522.3 943.0 522.7 938.4 523.2 934.0 523.7 929.8 524.1 926.1 524.6 923.1 525.1 920.8 525.5 919.4 526.0 918.9 526.5 919.4 526.9 920.8 527.4 923.1 527.9 926.1 528.3 929.8 528.8 934.0 529.3 938.4 529.7 943.0 530.2 947.4 530.7 951.6 531.2 955.2 531.6 958.3 532.1 960.6 532.6 962.0 533.0 962.4 533.5 962.0 534.0 960.6 534.4 958.3 534.9 955.2 535.4 951.6 535.8 947.4 536.3 943.0 536.8 938.4 537.2 934.0 537.7 929.8 538.2 926.1 538.7 923.1 539.1 920.8 539.6 919.4 540.1 918.9 540.5 919.4 541.0 920.8 541.5 923.1 541.9 926.1 542.4 929.8 542.9 934.0 543.3 938.4 543.8 942.9 544.3 947.4 544.7 951.5 545.2 955.2 545.7 958.3 546.2 960.5 546.6 961.9 547.1 962.4 547.6 961.9 548.0 960.5 548.5 958.3 549.0 955.2 549.4 951.5 549.9 947.4 550.4 943.0 550.8 938.4 551.3 934.0 551.8 929.8 552.2 926.1 552.7 923.1 553.2 920.8 553.7 919.4 554.1 918.9 554.6 919.4 555.1 920.8 555.5 923.1 556.0 926.1 556.5 929.8 556.9 934.0 557.4 938.4 557.9 942.9 558.3 947.4 558.8 951.5 559.3 955.2 559.7 958.3 560.2 960.5 560.7 961.9 561.2 962.4 561.6 961.9 562.1 960.5 562.6 958.3 563.0 955.2 563.5 951.5 564.0 947.4 564.4 942.9 564.9 938.4 565.4 934.0 565.8 929.8 566.3 926.1 566.8 923.1 567.2 920.8 567.7 919.4 568.2 918.9 568.6 919.4 569.1 920.8 569.6 923.1 570.1 926.1 570.5 929.8 571.0 934.0 571.5 938.4 571.9 942.9 572.4 947.4 572.9 951.5 573.3 955.2 573.8 958.2 574.3 960.5 574.7 961.9 575.2 962.4 575.7 961.9 576.1 960.5 576.6 958.2 577.1 955.2 577.6 951.5 578.0 947.4 578.5 942.9 579.0 938.4 579.4 934.0 579.9 929.8 580.4 926.1 580.8 923.1 581.3 920.8 581.8 919.4 582.2 919.0 582.7 919.4 583.2 920.8 583.6 923.1 584.1 926.1 584.6 929.8 585.1 934.0 585.5 938.4 586.0 942.9 586.5 947.4 586.9 951.5 587.4 955.2 587.9 958.2 588.3 960.5 588.8 961.9 589.3 962.4 589.7 961.9 590.2 960.5 590.7 958.2 591.1 955.2 591.6 951.5 592.1 947.4 592.6 942.9 593.0 938.4 593.5 934.0 594.0 929.8 594.4 926.1 594.9 923.1 595.4 920.8 595.8 919.4 596.3 919.0 596.8 919.4 597.2 920.8 597.7 923.1 598.2 926.1 598.6 929.8 599.1 934.0 599.6 938.4 600.0 942.9 600.5 947.4 601.0 951.5 601.5 955.2 601.9 958.2 602.4 960.5 602.9 961.9 603.3 962.4 603.8 961.9 604.3 960.5 604.7 958.2 605.2 955.2 605.7 951.5 606.1 947.4 606.6 942.9 607.1 938.4 607.5 934.0 608.0 929.8 608.5 926.1 609.0 923.1 609.4 920.8 609.9 919.4 610.4 919.0 610.8 919.4 611.3 920.8 611.8 923.1 612.2 926.1 612.7 929.8 613.2 934.0 613.6 938.4 614.1 942.9 614.6 947.4 615.0 951.5 615.5 955.2 616.0 958.2 616.5 960.5 616.9 961.9 617.4 962.3 617.9 961.9 618.3 960.5 618.8 958.2 619.3 955.2 619.7 951.5 620.2 947.4 620.7 942.9 621.1 938.4 621.6 934.0 622.1 929.8 622.5 926.1 623.0 923.1 623.5 920.9 624.0 919.4 624.4 919.0 624.9 919.4 625.4 920.8 625.8 923.1 626.3 926.1 626.8 929.8 627.2 934.0 627.7 938.4 628.2 942.9 628.6 947.3 629.1 951.5 629.6 955.2 630.0 958.2 630.5 960.4 631.0 961.8 631.5 962.3 631.9 961.8 632.4 960.4 632.9 958.2 633.3 955.2 633.8 951.5 634.3 947.3 634.7 942.9 635.2 938.4 635.7 934.0 636.1 929.8 636.6 926.2 637.1 923.1 637.5 920.9 638.0 919.5 638.5 919.0 638.9 919.5 639.4 920.9 639.9 923.1 640.4 926.1 640.8 929.8 641.3 934.0 641.8 938.4 642.2 942.9 642.7 947.3 643.2 951.5 643.6 955.1 644.1 958.2 644.6 960.4 645.0 961.8 645.5 962.3 646.0 961.8 646.4 960.4 646.9 958.2 647.4 955.1 647.9 951.5 648.3 947.3 648.8 942.9 649.3 938.4 649.7 934.0 650.2 929.8 650.7 926.2 651.1 923.1 651.6 920.9 652.1 919.5 652.5 919.0 653.0 919.5 653.5 920.9 653.9 923.1 654.4 926.2 654.9 929.8 655.4 933.9 655.8 938.4 656.3 942.9 656.8 947.3 657.2 951.5 657.7 955.1 658.2 958.2 658.6 960.4 659.1 961.8 659.6 962.3 660.0 961.8 660.5 960.4 661.0 958.2 661.4 955.1 661.9 951.5 662.4 947.3 662.9 942.9 663.3 938.4 663.8 934.0 664.3 929.8 664.7 926.2 665.2 923.1 665.7 920.9 666.1 919.5 666.6 919.0 667.1 919.5 667.5 920.9 668.0 923.1 668.5 926.2 668.9 929.8 669.4 933.9 669.9 938.4 670.3 942.9 670.8 947.3 671.3 951.5 671.8 955.1 672.2 958.1 672.7 960.4 673.2 961.8 673.6 962.3 674.1 961.8 674.6 960.4 675.0 958.1 675.5 955.1 676.0 951.5 676.4 947.3 676.9 942.9 677.4 938.4 677.8 934.0 678.3 929.8 678.8 926.2 679.3 923.1 679.7 920.9 680.2 919.5 680.7 919.0 681.1 919.5 681.6 920.9 682.1 923.1 682.5 926.2 683.0 929.8 683.5 933.9 683.9 938.4 684.4 942.9 684.9 947.3 685.3 951.4 685.8 955.1 686.3 958.1 686.8 960.4 687.2 961.8 687.7 962.3 688.2 961.8 688.6 960.4 689.1 958.1 689.6 955.1 690.0 951.4 690.5 947.3 691.0 942.9 691.4 938.4 691.9 934.0 692.4 929.8 692.8 926.2 693.3 923.1 693.8 920.9 694.3 919.5 694.7 919.0 695.2 919.5 695.7 920.9 696.1 923.1 696.6 926.2 697.1 929.8 697.5 933.9 698.0 938.4 698.5 942.9 698.9 947.3 699.4 951.4 699.9 955.1 700.3 958.1 700.8 960.4 701.3 961.8 701.8 962.2 702.2 961.8 702.7 960.4 703.2 958.1 703.6 955.1 704.1 951.4 704.6 947.3 705.0 942.9 705.5 938.4 706.0 934.0 706.4 929.8 706.9 926.2 707.4 923.1 707.8 920.9 708.3 919.5 708.8 919.0 709.2 919.5 709.7 920.9 710.2 923.1 710.7 926.2 711.1 929.8 711.6 933.9 712.1 938.4 712.5 942.9 713.0 947.3 713.5 951.4 713.9 955.1 714.4 958.1 714.9 960.4 715.3 961.8 715.8 962.2 716.3 961.8 716.7 960.4 717.2 958.1 717.7 955.1 718.2 951.4 718.6 947.3 719.1 942.9 719.6 938.4 720.0 933.9 720.5 929.8 721.0 926.2 721.4 923.1 721.9 920.9 722.4 919.5 722.8 919.0 723.3 919.5 723.8 920.9 724.2 923.1 724.7 926.2 725.2 929.8 725.7 933.9 726.1 938.4 726.6 942.9 727.1 947.3 727.5 951.4 728.0 955.1 728.5 958.1 728.9 960.3 729.4 961.7 729.9 962.2 730.3 961.7 730.8 960.3 731.3 958.1 731.7 955.1 732.2 951.4 732.7 947.3 733.2 942.9 733.6 938.4 734.1 933.9 734.6 929.8 735.0 926.2 735.5 923.2 736.0 920.9 736.4 919.5 736.9 919.0 737.4 919.5 737.8 920.9 738.3 923.2 738.8 926.2 739.2 929.8 739.7 933.9 740.2 938.4 740.6 942.9 741.1 947.3 741.6 951.4 742.1 955.1 742.5 958.1 743.0 960.3 743.5 961.7 743.9 962.2 744.4 961.7 744.9 960.3 745.3 958.1 745.8 955.1 746.3 951.4 746.7 947.3 747.2 942.9 747.7 938.4 748.1 933.9 748.6 929.8 749.1 926.2 749.6 923.2 750.0 920.9 750.5 919.5 751.0 919.0 751.4 919.5 751.9 920.9 752.4 923.2 752.8 926.2 753.3 929.8 753.8 933.9 754.2 938.4 754.7 942.9 755.2 947.3 755.6 951.4 756.1 955.0 756.6 958.1 757.1 960.3 757.5 961.7 758.0 962.2 758.5 961.7 758.9 960.3 759.4 958.1 759.9 955.0 760.3 951.4 760.8 947.3 761.3 942.9 761.7 938.4 762.2 933.9 762.7 929.8 763.1 926.2 763.6 923.2 764.1 920.9 764.6 919.5 765.0 919.0 765.5 919.5 766.0 920.9 766.4 923.2 766.9 926.2 767.4 929.8 767.8 933.9 768.3 938.3 768.8 942.9 769.2 947.3 769.7 951.4 770.2 955.0 770.6 958.0 771.1 960.3 771.6 961.7 772.0 962.2 772.5 961.7 773.0 960.3 773.5 958.0 773.9 955.0 774.4 951.4 774.9 947.3 775.3 942.9 775.8 938.4 776.3 933.9 776.7 929.8 777.2 926.2 777.7 923.2 778.1 920.9 778.6 919.5 779.1 919.1 779.5 919.5 780.0 920.9 780.5 923.2 781.0 926.2 781.4 929.8 781.9 933.9 782.4 938.3 782.8 942.9 783.3 947.3 783.8 951.4 784.2 955.0 784.7 958.0 785.2 960.3 785.6 961.7 786.1 962.1 786.6 961.7 787.0 960.3 787.5 958.0 788.0 955.0 788.5 951.4 788.9 947.3 789.4 942.9 789.9 938.3 790.3 933.9 790.8 929.8 791.3 926.2 791.7 923.2 792.2 920.9 792.7 919.5 793.1 919.1 793.6 919.5 794.1 920.9 794.5 923.2 795.0 926.2 795.5 929.8 796.0 933.9 796.4 938.3 796.9 942.8 797.4 947.2 797.8 951.4 798.3 955.0 798.8 958.0 799.2 960.3 799.7 961.7 800.2 962.1 800.6 961.7 801.1 960.3 801.6 958.0 802.0 955.0 802.5 951.4 803.0 947.3 803.5 942.8 803.9 938.3 804.4 933.9 804.9 929.8 805.3 926.2 805.8 923.2 806.3 920.9 806.7 919.5 807.2 919.1 807.7 919.5 808.1 920.9 808.6 923.2 809.1 926.2 809.5 929.8 810.0 933.9 810.5 938.3 810.9 942.8 811.4 947.2 811.9 951.4 812.4 955.0 812.8 958.0 813.3 960.3 813.8 961.6 814.2 962.1 814.7 961.6 815.2 960.3 815.6 958.0 816.1 955.0 816.6 951.4 817.0 947.2 817.5 942.8 818.0 938.3 818.4 933.9 818.9 929.8 819.4 926.2 819.9 923.2 820.3 920.9 820.8 919.5 821.3 919.1 821.7 919.5 822.2 920.9 822.7 923.2 823.1 926.2 823.6 929.8 824.1 933.9 824.5 938.3 825.0 942.8 825.5 947.2 825.9 951.3 826.4 955.0 826.9 958.0 827.4 960.2 827.8 961.6 828.3 962.1 828.8 961.6 829.2 960.2 829.7 958.0 830.2 955.0 830.6 951.3 831.1 947.2 831.6 942.8 832.0 938.3 832.5 933.9 833.0 929.8 833.4 926.2 833.9 923.2 834.4 920.9 834.9 919.5 835.3 919.1 835.8 919.5 836.3 920.9 836.7 923.2 837.2 926.2 837.7 929.8 838.1 933.9 838.6 938.3 839.1 942.8 839.5 947.2 840.0 951.3 840.5 955.0 840.9 958.0 841.4 960.2 841.9 961.6 842.4 962.1 842.8 961.6 843.3 960.2 843.8 958.0 844.2 955.0 844.7 951.3 845.2 947.2 845.6 942.8 846.1 938.3 846.6 933.9 847.0 929.8 847.5 926.2 848.0 923.2 848.4 920.9 848.9 919.6 849.4 919.1 849.8 919.6 850.3 920.9 850.8 923.2 851.3 926.2 851.7 929.8 852.2 933.9 852.7 938.3 853.1 942.8 853.6 947.2 854.1 951.3 854.5 955.0 855.0 958.0 855.5 960.2 855.9 961.6 856.4 962.1 856.9 961.6 857.3 960.2 857.8 958.0 858.3 955.0 858.8 951.3 859.2 947.2 859.7 942.8 860.2 938.3 860.6 933.9 861.1 929.8 861.6 926.2 862.0 923.2 862.5 920.9 863.0 919.6 863.4 919.1 863.9 919.6 864.4 920.9 864.8 923.2 865.3 926.2 865.8 929.8 866.3 933.9 866.7 938.3 867.2 942.8 867.7 947.2 868.1 951.3 868.6 954.9 869.1 957.9 869.5 960.2 870.0 961.6 870.5 962.0 870.9 961.6 871.4 960.2 871.9 957.9 872.3 954.9 872.8 951.3 873.3 947.2 873.8 942.8 874.2 938.3 874.7 933.9 875.2 929.8 875.6 926.2 876.1 923.2 876.6 921.0 877.0 919.6 877.5 919.1 878.0 919.6 878.4 921.0 878.9 923.2 879.4 926.2 879.8 929.8 880.3 933.9 880.8 938.3 881.2 942.8 881.7 947.2 882.2 951.3 882.7 954.9 883.1 957.9 883.6 960.2 884.1 961.6 884.5 962.0 885.0 961.6 885.5 960.2 885.9 957.9 886.4 954.9 886.9 951.3 887.3 947.2 887.8 942.8 888.3 938.3 888.7 933.9 889.2 929.8 889.7 926.2 890.2 923.2 890.6 921.0 891.1 919.6 891.6 919.1 892.0 919.6 892.5 921.0 893.0 923.2 893.4 926.2 893.9 929.8 894.4 933.9 894.8 938.3 895.3 942.8 895.8 947.2 896.2 951.3 896.7 954.9 897.2 957.9 897.7 960.2 898.1 961.5 898.6 962.0 899.1 961.5 899.5 960.2 900.0 957.9 900.5 954.9 900.9 951.3 901.4 947.2 901.9 942.8 902.3 938.3 902.8 933.9 903.3 929.8 903.7 926.2 904.2 923.2 904.7 921.0 905.2 919.6 905.6 919.1 906.1 919.6 906.6 921.0 907.0 923.2 907.5 926.2 908.0 929.8 908.4 933.9 908.9 938.3 909.4 942.8 909.8 947.2 910.3 951.3 910.8 954.9 911.2 957.9 911.7 960.1 912.2 961.5 912.7 962.0 913.1 961.5 913.6 960.1 914.1 957.9 914.5 954.9 915.0 951.3 915.5 947.2 915.9 942.8 916.4 938.3 916.9 933.9 917.3 929.8 917.8 926.2 918.3 923.2 918.7 921.0 919.2 919.6 919.7 919.1 920.1 919.6 920.6 921.0 921.1 923.2 921.6 926.2 922.0 929.8 922.5 933.9 923.0 938.3 923.4 942.8 923.9 947.2 924.4 951.3 924.8 954.9 925.3 957.9 925.8 960.1 926.2 961.5 926.7 962.0 927.2 961.5 927.6 960.1 928.1 957.9 928.6 954.9 929.1 951.3 929.5 947.2 930.0 942.8 930.5 938.3 930.9 933.9 931.4 929.8 931.9 926.2 932.3 923.2 932.8 921.0 933.3 919.6 933.7 919.1 934.2 919.6 934.7 921.0 935.1 923.2 935.6 926.2 936.1 929.8 936.6 933.9 937.0 938.3 937.5 942.8 938.0 947.2 938.4 951.3 938.9 954.9 939.4 957.9 939.8 960.1 940.3 961.5 940.8 962.0 941.2 961.5 941.7 960.1 942.2 957.9 942.6 954.9 943.1 951.3 943.6 947.2 944.1 942.8 944.5 938.3 945.0 933.9 945.5 929.8 945.9 926.2 946.4 923.2 946.9 921.0 947.3 919.6 947.8 919.1 948.3 919.6 948.7 921.0 949.2 923.2 949.7 926.2 950.1 929.8 950.6 933.9 951.1 938.3 951.5 942.8 952.0 947.2 952.5 951.2 953.0 954.9 953.4 957.9 953.9 960.1 954.4 961.5 954.8 962.0 955.3 961.5 955.8 960.1 956.2 957.9 956.7 954.9 957.2 951.2 957.6 947.2 958.1 942.8 958.6 938.3 959.0 933.9 959.5 929.8 960.0 926.2 960.5 923.2 960.9 921.0 961.4 919.6 961.9 919.1 962.3 919.6 962.8 921.0 963.3 923.2 963.7 926.2 964.2 929.8 964.7 933.9 965.1 938.3 965.6 942.8 966.1 947.2 966.5 951.2 967.0 954.9 967.5 957.8 968.0 960.1 968.4 961.5 968.9 961.9 969.4 961.5 969.8 960.1 970.3 957.9 970.8 954.9 971.2 951.2 971.7 947.2 972.2 942.8 972.6 938.3 973.1 933.9 973.6 929.8 974.0 926.2 974.5 923.2 975.0 921.0 975.5 919.6 975.9 919.1 976.4 919.6 976.9 921.0 977.3 923.2 977.8 926.2 978.3 929.8 978.7 933.9 979.2 938.3 979.7 942.8 980.1 947.1 980.6 951.2 981.1 954.8 981.5 957.8 982.0 960.1 982.5 961.5 983.0 961.9 983.4 961.5 983.9 960.1 984.4 957.8 984.8 954.8 985.3 951.2 985.8 947.1 986.2 942.8 986.7 938.3 987.2 933.9 987.6 929.8 988.1 926.2 988.6 923.2 989.0 921.0 989.5 919.6 990.0 919.2 990.4 919.6 990.9 921.0 991.4 923.2 991.9 926.2 992.3 929.8 992.8 933.9 993.3 938.3 993.7 942.8 994.2 947.1 994.7 951.2 995.1 954.8 995.6 957.8 996.1 960.1 996.5 961.4 997.0 961.9 997.5 961.4 997.9 960.1 998.4 957.8 998.9 954.8 999.4 951.2 999.8 947.1 1000.3 942.8 1000.8 938.3 1001.2 933.9 1001.7 929.8 1002.2 926.2 1002.6 923.2 1003.1 921.0 1003.6 919.6 1004.0 919.2 1004.5 919.6 1005.0 921.0 1005.4 923.2 1005.9 926.2 1006.4 929.8 1006.9 933.9 1007.3 938.3 1007.8 942.8 1008.3 947.1 1008.7 951.2 1009.2 954.8 1009.7 957.8 1010.1 960.0 1010.6 961.4 1011.1 961.9 1011.5 961.4 1012.0 960.0 1012.5 957.8 1012.9 954.8 1013.4 951.2 1013.9 947.1 1014.4 942.8 1014.8 938.3 1015.3 933.9 1015.8 929.8 1016.2 926.2 1016.7 923.2 1017.2 921.0 1017.6 919.6 1018.1 919.2 1018.6 919.6 1019.0 921.0 1019.5 923.2 1020.0 926.2 1020.4 929.8 1020.9 933.9 1021.4 938.3 1021.8 942.8 1022.3 947.1 1022.8 951.2 1023.3 954.8 1023.7 957.8 1024.2 960.0 1024.7 961.4 1025.1 961.9 1025.6 961.4 1026.1 960.0 1026.5 957.8 1027.0 954.8 1027.5 951.2 1027.9 947.1 1028.4 942.8 1028.9 938.3 1029.3 933.9 1029.8 929.8 1030.3 926.2 1030.8 923.3 1031.2 921.0 1031.7 919.6 1032.2 919.2 1032.6 919.6 1033.1 921.0 1033.6 923.3 1034.0 926.2 1034.5 929.8 1035.0 933.9 1035.4 938.3 1035.9 942.7 1036.4 947.1 1036.8 951.2 1037.3 954.8 1037.8 957.8 1038.3 960.0 1038.7 961.4 1039.2 961.9 1039.7 961.4 1040.1 960.0 1040.6 957.8 1041.1 954.8 1041.5 951.2 1042.0 947.1 1042.5 942.7 1042.9 938.3 1043.4 933.9 1043.9 929.8 1044.3 926.2 1044.8 923.3 1045.3 921.0 1045.8 919.6 1046.2 919.2 1046.7 919.6 1047.2 921.0 1047.6 923.3 1048.1 926.2 1048.6 929.8 1049.0 933.9 1049.5 938.3 1050.0 942.7 1050.4 947.1 1050.9 951.2 1051.4 954.8 1051.8 957.8 1052.3 960.0 1052.8 961.4 1053.2 961.8 1053.7 961.4 1054.2 960.0 1054.7 957.8 1055.1 954.8 1055.6 951.2 1056.1 947.1 1056.5 942.7 1057.0 938.3 1057.5 933.9 1057.9 929.9 1058.4 926.2 1058.9 923.3 1059.3 921.0 1059.8 919.7 1060.3 919.2 1060.7 919.7 1061.2 921.0 1061.7 923.3 1062.2 926.2 1062.6 929.8 1063.1 933.9 1063.6 938.3 1064.0 942.7 1064.5 947.1 1065.0 951.2 1065.4 954.8 1065.9 957.8 1066.4 960.0 1066.8 961.4 1067.3 961.8 1067.8 961.4 1068.2 960.0 1068.7 957.8 1069.2 954.8 1069.7 951.2 1070.1 947.1 1070.6 942.7 1071.1 938.3 1071.5 933.9 1072.0 929.9 1072.5 926.2 1072.9 923.3 1073.4 921.0 1073.9 919.7 1074.3 919.2 1074.8 919.7 1075.3 921.0 1075.7 923.3 1076.2 926.2 1076.7 929.8 1077.2 933.9 1077.6 938.3 1078.1 942.7 1078.6 947.1 1079.0 951.2 1079.5 954.8 1080.0 957.7 1080.4 960.0 1080.9 961.3 1081.4 961.8 1081.8 961.3 1082.3 960.0 1082.8 957.7 1083.2 954.8 1083.7 951.2 1084.2 947.1 1084.7 942.7 1085.1 938.3 1085.6 933.9 1086.1 929.9 1086.5 926.3 1087.0 923.3 1087.5 921.0 1087.9 919.7 1088.4 919.2 1088.9 919.7 1089.3 921.0 1089.8 923.3 1090.3 926.2 1090.7 929.8 1091.2 933.9 1091.7 938.3 1092.1 942.7 1092.6 947.1 1093.1 951.1 1093.6 954.7 1094.0 957.7 1094.5 960.0 1095.0 961.3 1095.4 961.8 1095.9 961.3 1096.4 960.0 1096.8 957.7 1097.3 954.7 1097.8 951.1 1098.2 947.1 1098.7 942.7 1099.2 938.3 1099.6 933.9 1100.1 929.9 1100.6 926.3 1101.1 923.3 1101.5 921.0 1102.0 919.7 1102.5 919.2 1102.9 919.7 1103.4 921.0 1103.9 923.3 1104.3 926.3 1104.8 929.9 1105.3 933.9 1105.7 938.3 1106.2 942.7 1106.7 947.1 1107.1 951.1 1107.6 954.7 1108.1 957.7 1108.6 959.9 1109.0 961.3 1109.5 961.8 1110.0 961.3 1110.4 959.9 1110.9 957.7 1111.4 954.7 1111.8 951.1 1112.3 947.1 1112.8 942.7 1113.2 938.3 1113.7 933.9 1114.2 929.9 1114.6 926.3 1115.1 923.3 1115.6 921.1 1116.1 919.7 1116.5 919.2 1117.0 919.7 1117.5 921.1 1117.9 923.3 1118.4 926.3 1118.9 929.9 1119.3 933.9 1119.8 938.3 1120.3 942.7 1120.7 947.1 1121.2 951.1 1121.7 954.7 1122.1 957.7 1122.6 959.9 1123.1 961.3 1123.5 961.8 1124.0 961.3 1124.5 959.9 1125.0 957.7 1125.4 954.7 1125.9 951.1 1126.4 947.1 1126.8 942.7 1127.3 938.3 1127.8 933.9 1128.2 929.9 1128.7 926.3 1129.2 923.3 1129.6 921.1 1130.1 919.7 1130.6 919.2 1131.0 919.7 1131.5 921.1 1132.0 923.3 1132.5 926.3 1132.9 929.9 1133.4 933.9 1133.9 938.3 1134.3 942.7 1134.8 947.1 1135.3 951.1 1135.7 954.7 1136.2 957.7 1136.7 959.9 1137.1 961.3 1137.6 961.7 1138.1 961.3 1138.5 959.9 1139.0 957.7 1139.5 954.7 1140.0 951.1 1140.4 947.1 1140.9 942.7 1141.4 938.3 1141.8 933.9 1142.3 929.9 1142.8 926.3 1143.2 923.3 1143.7 921.1 1144.2 919.7 1144.6 919.2 1145.1 919.7 1145.6 921.1 1146.0 923.3 1146.5 926.3 1147.0 929.9 1147.5 933.9 1147.9 938.3 1148.4 942.7 1148.9 947.0 1149.3 951.1 1149.8 954.7 1150.3 957.7 1150.7 959.9 1151.2 961.3 1151.7 961.7 1152.1 961.3 1152.6 959.9 1153.1 957.7 1153.5 954.7 1154.0 951.1 1154.5 947.0 1155.0 942.7 1155.4 938.3 1155.9 933.9 1156.4 929.9 1156.8 926.3 1157.3 923.3 1157.8 921.1 1158.2 919.7 1158.7 919.2 1159.2 919.7 1159.6 921.1 1160.1 923.3 1160.6 926.3 1161.0 929.9 1161.5 933.9 1162.0 938.3 1162.4 942.7 1162.9 947.0 1163.4 951.1 1163.9 954.7 1164.3 957.7 1164.8 959.9 1165.3 961.2 1165.7 961.7 1166.2 961.2 1166.7 959.9 1167.1 957.7 1167.6 954.7 1168.1 951.1 1168.5 947.0 1169.0 942.7 1169.5 938.3 1169.9 933.9 1170.4 929.9 1170.9 926.3 1171.4 923.3 1171.8 921.1 1172.3 919.7 1172.8 919.2 1173.2 919.7 1173.7 921.1 1174.2 923.3 1174.6 926.3 1175.1 929.9 1175.6 933.9 1176.0 938.3 1176.5 942.7 1177.0 947.0 1177.4 951.1 1177.9 954.7 1178.4 957.6 1178.9 959.9 1179.3 961.2 1179.8 961.7 1180.3 961.2 1180.7 959.9 1181.2 957.6 1181.7 954.7 1182.1 951.1 1182.6 947.0 1183.1 942.7 1183.5 938.3 1184.0 933.9 1184.5 929.9 1184.9 926.3 1185.4 923.3 1185.9 921.1 1186.4 919.7 1186.8 919.2 1187.3 919.7 1187.8 921.1 1188.2 923.3 1188.7 926.3 1189.2 929.9 1189.6 933.9 1190.1 938.2 1190.6 942.7 1191.0 947.0 1191.5 951.1 1192.0 954.7 1192.4 957.6 1192.9 959.8 1193.4 961.2 1193.9 961.7 1194.3 961.2 1194.8 959.8 1195.3 957.6 1195.7 954.7 1196.2 951.1 1196.7 947.0 1197.1 942.7 1197.6 938.3 1198.1 933.9 1198.5 929.9 1199.0 926.3 1199.5 923.3 1199.9 921.1 1200.4 919.7 1200.9 919.3 1201.3 919.7 1201.8 921.1 1202.3 923.3 1202.8 926.3 1203.2 929.9 1203.7 933.9 1204.2 938.2 1204.6 942.7 1205.1 947.0 1205.6 951.1 1206.0 954.6 1206.5 957.6 1207.0 959.8 1207.4 961.2 1207.9 961.7 1208.4 961.2 1208.8 959.8 1209.3 957.6 1209.8 954.6 1210.3 951.1 1210.7 947.0 1211.2 942.7 1211.7 938.2 1212.1 933.9 1212.6 929.9 1213.1 926.3 1213.5 923.3 1214.0 921.1 1214.5 919.7 1214.9 919.3 1215.4 919.7 1215.9 921.1 1216.3 923.3 1216.8 926.3 1217.3 929.9 1217.8 933.9 1218.2 938.2 1218.7 942.7 1219.2 947.0 1219.6 951.1 1220.1 954.6 1220.6 957.6 1221.0 959.8 1221.5 961.2 1222.0 961.6 1222.4 961.2 1222.9 959.8 1223.4 957.6 1223.8 954.6 1224.3 951.1 1224.8 947.0 1225.3 942.7 1225.7 938.2 1226.2 933.9 1226.7 929.9 1227.1 926.3 1227.6 923.3 1228.1 921.1 1228.5 919.7 1229.0 919.3 1229.5 919.7 1229.9 921.1 1230.4 923.3 1230.9 926.3 1231.3 929.9 1231.8 933.9 1232.3 938.2 1232.7 942.7 1233.2 947.0 1233.7 951.0 1234.2 954.6 1234.6 957.6 1235.1 959.8 1235.6 961.2 1236.0 961.6 1236.5 961.2 1237.0 959.8 1237.4 957.6 1237.9 954.6 1238.4 951.0 1238.8 947.0 1239.3 942.7 1239.8 938.2 1240.2 933.9 1240.7 929.9 1241.2 926.3 1241.7 923.3 1242.1 921.1 1242.6 919.7 1243.1 919.3 1243.5 919.7 1244.0 921.1 1244.5 923.3 1244.9 926.3 1245.4 929.9 1245.9 933.9 1246.3 938.2 1246.8 942.7 1247.3 947.0 1247.7 951.0 1248.2 954.6 1248.7 957.6 1249.2 959.8 1249.6 961.2 1250.1 961.6 1250.6 961.2 1251.0 959.8 1251.5 957.6 1252.0 954.6 1252.4 951.0 1252.9 947.0 1253.4 942.7 1253.8 938.2 1254.3 933.9 1254.8 929.9 1255.2 926.3 1255.7 923.3 1256.2 921.1 1256.7 919.7 1257.1 919.3 1257.6 919.7 1258.1 921.1 1258.5 923.3 1259.0 926.3 1259.5 929.9 1259.9 933.9 1260.4 938.2 1260.9 942.7 1261.3 947.0 1261.8 951.0 1262.3 954.6 1262.7 957.6 1263.2 959.8 1263.7 961.1 1264.2 961.6 1264.6 961.1 1265.1 959.8 1265.6 957.6 1266.0 954.6 1266.5 951.0 1267.0 947.0 1267.4 942.7 1267.9 938.2 1268.4 933.9 1268.8 929.9 1269.3 926.3 1269.8 923.3 1270.2 921.1 1270.7 919.8 1271.2 919.3 1271.6 919.8 1272.1 921.1 1272.6 923.3 1273.1 926.3 1273.5 929.9 1274.0 933.9 1274.5 938.2 1274.9 942.6 1275.4 947.0 1275.9 951.0 1276.3 954.6 1276.8 957.5 1277.3 959.8 1277.7 961.1 1278.2 961.6 1278.7 961.1 1279.1 959.8 1279.6 957.5 1280.1 954.6 1280.6 951.0 1281.0 947.0 1281.5 942.7 1282.0 938.2 1282.4 933.9 1282.9 929.9 1283.4 926.3 1283.8 923.3 1284.3 921.1 1284.8 919.8 1285.2 919.3 1285.7 919.8 1286.2 921.1 1286.6 923.3 1287.1 926.3 1287.6 929.9 1288.1 933.9 1288.5 938.2 1289.0 942.6 1289.5 947.0 1289.9 951.0 1290.4 954.6 1290.9 957.5 1291.3 959.7 1291.8 961.1 1292.3 961.6 1292.7 961.1 1293.2 959.7 1293.7 957.5 1294.1 954.6 1294.6 951.0 1295.1 947.0 1295.6 942.6 1296.0 938.2 1296.5 933.9 1297.0 929.9 1297.4 926.3 1297.9 923.3 1298.4 921.1 1298.8 919.8 1299.3 919.3 1299.8 919.8 1300.2 921.1 1300.7 923.3 1301.2 926.3 1301.6 929.9 1302.1 933.9 1302.6 938.2 1303.0 942.6 1303.5 947.0 1304.0 951.0 1304.5 954.6 1304.9 957.5 1305.4 959.7 1305.9 961.1 1306.3 961.6 1306.8 961.1 1307.3 959.7 1307.7 957.5 1308.2 954.6 1308.7 951.0 1309.1 947.0 1309.6 942.6 1310.1 938.2 1310.5 933.9 1311.0 929.9 1311.5 926.3 1312.0 923.3 1312.4 921.1 1312.9 919.8 1313.4 919.3 1313.8 919.8 1314.3 921.1 1314.8 923.3 1315.2 926.3 1315.7 929.9 1316.2 933.9 1316.6 938.2 1317.1 942.6 1317.6 946.9 1318.0 951.0 1318.5 954.5 1319.0 957.5 1319.5 959.7 1319.9 961.1 1320.4 961.5 1320.9 961.1 1321.3 959.7 1321.8 957.5 1322.3 954.6 1322.7 951.0 1323.2 946.9 1323.7 942.6 1324.1 938.2 1324.6 933.9 1325.1 929.9 1325.5 926.3 1326.0 923.3 1326.5 921.1 1327.0 919.8 1327.4 919.3 1327.9 919.8 1328.4 921.1 1328.8 923.3 1329.3 926.3 1329.8 929.9 1330.2 933.9 1330.7 938.2 1331.2 942.6 1331.6 946.9 1332.1 951.0 1332.6 954.5 1333.0 957.5 1333.5 959.7 1334.0 961.1 1334.5 961.5 1334.9 961.1 1335.4 959.7 1335.9 957.5 1336.3 954.5 1336.8 951.0 1337.3 946.9 1337.7 942.6 1338.2 938.2 1338.7 933.9 1339.1 929.9 1339.6 926.3 1340.1 923.4 1340.5 921.1 1341.0 919.8 1341.5 919.3 1341.9 919.8 1342.4 921.1 1342.9 923.4 1343.4 926.3 1343.8 929.9 1344.3 933.9 1344.8 938.2 1345.2 942.6 1345.7 946.9 1346.2 951.0 1346.6 954.5 1347.1 957.5 1347.6 959.7 1348.0 961.0 1348.5 961.5 1349.0 961.0 1349.4 959.7 1349.9 957.5 1350.4 954.5 1350.9 951.0 1351.3 946.9 1351.8 942.6 1352.3 938.2 1352.7 933.9 1353.2 929.9 1353.7 926.3 1354.1 923.4 1354.6 921.2 1355.1 919.8 1355.5 919.3 1356.0 919.8 1356.5 921.2 1356.9 923.4 1357.4 926.3 1357.9 929.9 1358.4 933.9 1358.8 938.2 1359.3 942.6 1359.8 946.9 1360.2 950.9 1360.7 954.5 1361.2 957.5 1361.6 959.7 1362.1 961.0 1362.6 961.5 1363.0 961.0 1363.5 959.7 1364.0 957.5 1364.4 954.5 1364.9 950.9 1365.4 946.9 1365.9 942.6 1366.3 938.2 1366.8 933.9 1367.3 929.9 1367.7 926.3 1368.2 923.4 1368.7 921.2 1369.1 919.8 1369.6 919.3 1370.1 919.8 1370.5 921.2 1371.0 923.4 1371.5 926.3 1371.9 929.9 1372.4 933.9 1372.9 938.2 1373.3 942.6 1373.8 946.9 1374.3 950.9 1374.8 954.5 1375.2 957.4 1375.7 959.6 1376.2 961.0 1376.6 961.5 1377.1 961.0 1377.6 959.6 1378.0 957.4 1378.5 954.5 1379.0 950.9 1379.4 946.9 1379.9 942.6 1380.4 938.2 1380.8 933.9 1381.3 929.9 1381.8 926.3 1382.3 923.4 1382.7 921.2 1383.2 919.8 1383.7 919.3 1384.1 919.8 1384.6 921.2 1385.1 923.4 1385.5 926.3 1386.0 929.9 1386.5 933.9 1386.9 938.2 1387.4 942.6 1387.9 946.9 1388.3 950.9 1388.8 954.5 1389.3 957.4 1389.8 959.6 1390.2 961.0 1390.7 961.5 1391.2 961.0 1391.6 959.6 1392.1 957.4 1392.6 954.5 1393.0 950.9 1393.5 946.9 1394.0 942.6 1394.4 938.2 1394.9 933.9 1395.4 929.9 1395.8 926.3 1396.3 923.4 1396.8 921.2 1397.3 919.8 1397.7 919.4 1398.2 919.8 1398.7 921.2 1399.1 923.4 1399.6 926.3 1400.1 929.9 1400.5 933.9 1401.0 938.2 1401.5 942.6 1401.9 946.9 1402.4 950.9 1402.9 954.5 1403.3 957.4 1403.8 959.6 1404.3 961.0 1404.8 961.4 1405.2 961.0 1405.7 959.6 1406.2 957.4 1406.6 954.5 1407.1 950.9 1407.6 946.9 1408.0 942.6 1408.5 938.2 1409.0 933.9 1409.4 929.9 1409.9 926.3 1410.4 923.4 1410.8 921.2 1411.3 919.8 1411.8 919.4 1412.2 919.8 1412.7 921.2 1413.2 923.4 1413.7 926.3 1414.1 929.9 1414.6 933.9 1415.1 938.2 1415.5 942.6 1416.0 946.9 1416.5 950.9 1416.9 954.5 1417.4 957.4 1417.9 959.6 1418.3 961.0 1418.8 961.4 1419.3 961.0 1419.7 959.6 1420.2 957.4 1420.7 954.5 1421.2 950.9 1421.6 946.9 1422.1 942.6 1422.6 938.2 1423.0 933.9 1423.5 929.9 1424.0 926.3 1424.4 923.4 1424.9 921.2 1425.4 919.8 1425.8 919.4 1426.3 919.8 1426.8 921.2 1427.2 923.4 1427.7 926.3 1428.2 929.9 1428.7 933.9 1429.1 938.2 1429.6 942.6 1430.1 946.9 1430.5 950.9 1431.0 954.5 1431.5 957.4 1431.9 959.6 1432.4 960.9 1432.9 961.4 1433.3 960.9 1433.8 959.6 1434.3 957.4 1434.7 954.5 1435.2 950.9 1435.7 946.9 1436.2 942.6 1436.6 938.2 1437.1 933.9 1437.6 929.9 1438.0 926.3 1438.5 923.4 1439.0 921.2 1439.4 919.8 1439.9 919.4 1440.4 919.8 1440.8 921.2 1441.3 923.4 1441.8 926.3 1442.2 929.9 1442.7 933.9 1443.2 938.2 1443.6 942.6 1444.1 946.9 1444.6 950.9 1445.1 954.4 1445.5 957.4 1446.0 959.6 1446.5 960.9 1446.9 961.4 1447.4 960.9 1447.9 959.6 1448.3 957.4 1448.8 954.4 1449.3 950.9 1449.7 946.9 1450.2 942.6 1450.7 938.2 1451.1 933.9 1451.6 929.9 1452.1 926.3 1452.6 923.4 1453.0 921.2 1453.5 919.8 1454.0 919.4 1454.4 919.8 1454.9 921.2 1455.4 923.4 1455.8 926.3 1456.3 929.9 1456.8 933.9 1457.2 938.2 1457.7 942.6 1458.2 946.9 1458.6 950.9 1459.1 954.4 1459.6 957.4 1460.1 959.6 1460.5 960.9 1461.0 961.4 1461.5 960.9 1461.9 959.6 1462.4 957.4 1462.9 954.4 1463.3 950.9 1463.8 946.9 1464.3 942.6 1464.7 938.2 1465.2 933.9 1465.7 929.9 1466.1 926.3 1466.6 923.4 1467.1 921.2 1467.6 919.8 1468.0 919.4 1468.5 919.8 1469.0 921.2 1469.4 923.4 1469.9 926.3 1470.4 929.9 1470.8 933.9 1471.3 938.2 1471.8 942.6 1472.2 946.9 1472.7 950.9 1473.2 954.4 1473.6 957.3 1474.1 959.5 1474.6 960.9 1475.0 961.4 1475.5 960.9 1476.0 959.5 1476.5 957.4 1476.9 954.4 1477.4 950.9 1477.9 946.9 1478.3 942.6 1478.8 938.2 1479.3 933.9 1479.7 929.9 1480.2 926.3 1480.7 923.4 1481.1 921.2 1481.6 919.9 1482.1 919.4 1482.5 919.9 1483.0 921.2 1483.5 923.4 1484.0 926.3 1484.4 929.9 1484.9 933.9 1485.4 938.2 1485.8 942.6 1486.3 946.8 1486.8 950.9 1487.2 954.4 1487.7 957.3 1488.2 959.5 1488.6 960.9 1489.1 961.3 1489.6 960.9 1490.0 959.5 1490.5 957.3 1491.0 954.4 1491.5 950.9 1491.9 946.9 1492.4 942.6 1492.9 938.2 1493.3 933.9 1493.8 929.9 1494.3 926.3 1494.7 923.4 1495.2 921.2 1495.7 919.9 1496.1 919.4 1496.6 919.9 1497.1 921.2 1497.5 923.4 1498.0 926.3 1498.5 929.9 1499.0 933.9 1499.4 938.2 1499.9 942.6 1500.4 946.8 1500.8 950.8 1501.3 954.4 1501.8 957.3 1502.2 959.5 1502.7 960.9 1503.2 961.3 1503.6 960.9 1504.1 959.5 1504.6 957.3 1505.0 954.4 1505.5 950.8 1506.0 946.8 1506.5 942.6 1506.9 938.2 1507.4 933.9 1507.9 929.9 1508.3 926.3 1508.8 923.4 1509.3 921.2 1509.7 919.9 1510.2 919.4 1510.7 919.9 1511.1 921.2 1511.6 923.4 1512.1 926.3 1512.5 929.9 1513.0 933.9 1513.5 938.2 1513.9 942.5 1514.4 946.8 1514.9 950.8 1515.4 954.4 1515.8 957.3 1516.3 959.5 1516.8 960.9 1517.2 961.3 1517.7 960.9 1518.2 959.5 1518.6 957.3 1519.1 954.4 1519.6 950.8 1520.0 946.8 1520.5 942.6 1521.0 938.2 1521.4 933.9 1521.9 929.9 1522.4 926.3 1522.9 923.4 1523.3 921.2 1523.8 919.9 1524.3 919.4 1524.7 919.9 1525.2 921.2 1525.7 923.4 1526.1 926.3 1526.6 929.9 1527.1 933.9 1527.5 938.2 1528.0 942.5 1528.5 946.8 1528.9 950.8 1529.4 954.4 1529.9 957.3 1530.4 959.5 1530.8 960.8 1531.3 961.3 1531.8 960.8 1532.2 959.5 1532.7 957.3 1533.2 954.4 1533.6 950.8 1534.1 946.8 1534.6 942.5 1535.0 938.2 1535.5 933.9 1536.0 929.9 1536.4 926.3 1536.9 923.4 1537.4 921.2 1537.9 919.9 1538.3 919.4 1538.8 919.9 1539.3 921.2 1539.7 923.4 1540.2 926.3 1540.7 929.9 1541.1 933.9 1541.6 938.2 1542.1 942.5 1542.5 946.8 1543.0 950.8 1543.5 954.4 1543.9 957.3 1544.4 959.5 1544.9 960.8 1545.3 961.3 1545.8 960.8 1546.3 959.5 1546.8 957.3 1547.2 954.4 1547.7 950.8 1548.2 946.8 1548.6 942.5 1549.1 938.2 1549.6 933.9 1550.0 929.9 1550.5 926.4 1551.0 923.4 1551.4 921.2 1551.9 919.9 1552.4 919.4 1552.8 919.9 1553.3 921.2 1553.8 923.4 1554.3 926.3 1554.7 929.9 1555.2 933.9 1555.7 938.2 1556.1 942.5 1556.6 946.8 1557.1 950.8 1557.5 954.3 1558.0 957.3 1558.5 959.5 1558.9 960.8 1559.4 961.3 1559.9 960.8 1560.3 959.5 1560.8 957.3 1561.3 954.3 1561.8 950.8 1562.2 946.8 1562.7 942.5 1563.2 938.2 1563.6 933.9 1564.1 929.9 1564.6 926.4 1565.0 923.4 1565.5 921.2 1566.0 919.9 1566.4 919.4 1566.9 919.9 1567.4 921.2 1567.8 923.4 1568.3 926.4 1568.8 929.9 1569.3 933.9 1569.7 938.2 1570.2 942.5 1570.7 946.8 1571.1 950.8 1571.6 954.3 1572.1 957.3 1572.5 959.4 1573.0 960.8 1573.5 961.2 1573.9 960.8 1574.4 959.4 1574.9 957.3 1575.3 954.3 1575.8 950.8 1576.3 946.8 1576.8 942.5 1577.2 938.2 1577.7 933.9 1578.2 929.9 1578.6 926.4 1579.1 923.4 1579.6 921.2 1580.0 919.9 1580.5 919.4 1581.0 919.9 1581.4 921.2 1581.9 923.4 1582.4 926.4 1582.8 929.9 1583.3 933.9 1583.8 938.2 1584.2 942.5 1584.7 946.8 1585.2 950.8 1585.7 954.3 1586.1 957.2 1586.6 959.4 1587.1 960.8 1587.5 961.2 1588.0 960.8 1588.5 959.4 1588.9 957.2 1589.4 954.3 1589.9 950.8 1590.3 946.8 1590.8 942.5 1591.3 938.2 1591.7 933.9 1592.2 929.9 1592.7 926.4 1593.2 923.4 1593.6 921.3 1594.1 919.9 1594.6 919.4 1595.0 919.9 1595.5 921.3 1596.0 923.4 1596.4 926.4 1596.9 929.9 1597.4 933.9 1597.8 938.1 1598.3 942.5 1598.8 946.8 1599.2 950.8 1599.7 954.3 1600.2 957.2 1600.7 959.4 1601.1 960.8 1601.6 961.2 1602.1 960.8 1602.5 959.4 1603.0 957.2 1603.5 954.3 1603.9 950.8 1604.4 946.8 1604.9 942.5 1605.3 938.2 1605.8 933.9 1606.3 929.9 1606.7 926.4 1607.2 923.4 1607.7 921.3 1608.2 919.9 1608.6 919.5 1609.1 919.9 1609.6 921.3 1610.0 923.4 1610.5 926.4 1611.0 929.9 1611.4 933.9 1611.9 938.1 1612.4 942.5 1612.8 946.8 1613.3 950.8 1613.8 954.3 1614.2 957.2 1614.7 959.4 1615.2 960.7 1615.7 961.2 1616.1 960.7 1616.6 959.4 1617.1 957.2 1617.5 954.3 1618.0 950.8 1618.5 946.8 1618.9 942.5 1619.4 938.1 1619.9 933.9 1620.3 929.9 1620.8 926.4 1621.3 923.4 1621.7 921.3 1622.2 919.9 1622.7 919.5 1623.1 919.9 1623.6 921.3 1624.1 923.4 1624.6 926.4 1625.0 929.9 1625.5 933.9 1626.0 938.1 1626.4 942.5 1626.9 946.8 1627.4 950.8 1627.8 954.3 1628.3 957.2 1628.8 959.4 1629.2 960.7 1629.7 961.2 1630.2 960.7 1630.6 959.4 1631.1 957.2 1631.6 954.3 1632.1 950.8 1632.5 946.8 1633.0 942.5 1633.5 938.1 1633.9 933.9 1634.4 929.9 1634.9 926.4 1635.3 923.5 1635.8 921.3 1636.3 919.9 1636.7 919.5 1637.2 919.5 1637.7 919.5 1638.1 919.5 1638.6 919.5 1639.0 919.5 1639.5 919.5" stroke="#c44444" stroke-width="3.0" fill="none" stroke-linejoin="round"/>
</g><g filter="url(#bl)">
<path d="M377.9 87.8v16.5M377.9 214.2v-16.5M518.3 87.8v16.5M518.3 214.2v-16.5M658.8 87.8v16.5M658.8 214.2v-16.5M799.2 87.8v16.5M799.2 214.2v-16.5M939.6 87.8v16.5M939.6 214.2v-16.5M1080.0 87.8v16.5M1080.0 214.2v-16.5M1220.4 87.8v16.5M1220.4 214.2v-16.5M1360.9 87.8v16.5M1360.9 214.2v-16.5M1501.3 87.8v16.5M1501.3 214.2v-16.5M237.5 151.0h14M1641.7 151.0h-14" stroke="#c86262" stroke-width="3.4" fill="none"/>
<rect x="237.5" y="87.8" width="1404.2" height="126.4" rx="1.5" stroke="#d07474" stroke-width="5.0" fill="none"/>
<path d="M378.8 282.6v16.5M378.8 406.4v-16.5M519.1 282.6v16.5M519.1 406.4v-16.5M659.4 282.6v16.5M659.4 406.4v-16.5M799.7 282.6v16.5M799.7 406.4v-16.5M940.0 282.6v16.5M940.0 406.4v-16.5M1080.4 282.6v16.5M1080.4 406.4v-16.5M1220.7 282.6v16.5M1220.7 406.4v-16.5M1361.0 282.6v16.5M1361.0 406.4v-16.5M1501.3 282.6v16.5M1501.3 406.4v-16.5M238.5 344.8h14M1641.6 344.8h-14" stroke="#c86262" stroke-width="3.4" fill="none"/>
<rect x="238.5" y="282.6" width="1403.1" height="123.8" rx="1.5" stroke="#d07474" stroke-width="5.0" fill="none"/>
<path d="M378.1 482.5v16.5M378.1 608.2v-16.5M518.5 482.5v16.5M518.5 608.2v-16.5M658.9 482.5v16.5M658.9 608.2v-16.5M799.3 482.5v16.5M799.3 608.2v-16.5M939.6 482.5v16.5M939.6 608.2v-16.5M1080.0 482.5v16.5M1080.0 608.2v-16.5M1220.4 482.5v16.5M1220.4 608.2v-16.5M1360.8 482.5v16.5M1360.8 608.2v-16.5M1501.2 482.5v16.5M1501.2 608.2v-16.5M237.7 544.6h14M1641.6 544.6h-14" stroke="#c86262" stroke-width="3.4" fill="none"/>
<rect x="237.7" y="482.5" width="1403.9" height="125.7" rx="1.5" stroke="#d07474" stroke-width="5.0" fill="none"/>
<path d="M376.3 683.2v16.5M376.3 807.3v-16.5M516.6 683.2v16.5M516.6 807.3v-16.5M657.0 683.2v16.5M657.0 807.3v-16.5M797.3 683.2v16.5M797.3 807.3v-16.5M937.6 683.2v16.5M937.6 807.3v-16.5M1077.9 683.2v16.5M1077.9 807.3v-16.5M1218.2 683.2v16.5M1218.2 807.3v-16.5M1358.6 683.2v16.5M1358.6 807.3v-16.5M1498.9 683.2v16.5M1498.9 807.3v-16.5M236.0 745.1h14M1639.2 745.1h-14" stroke="#c86262" stroke-width="3.4" fill="none"/>
<rect x="236.0" y="683.2" width="1403.2" height="124.1" rx="1.5" stroke="#d07474" stroke-width="5.0" fill="none"/>
<path d="M376.4 877.3v16.5M376.4 1002.3v-16.5M516.7 877.3v16.5M516.7 1002.3v-16.5M657.0 877.3v16.5M657.0 1002.3v-16.5M797.4 877.3v16.5M797.4 1002.3v-16.5M937.8 877.3v16.5M937.8 1002.3v-16.5M1078.1 877.3v16.5M1078.1 1002.3v-16.5M1218.5 877.3v16.5M1218.5 1002.3v-16.5M1358.8 877.3v16.5M1358.8 1002.3v-16.5M1499.2 877.3v16.5M1499.2 1002.3v-16.5M236.0 940.3h14M1639.5 940.3h-14" stroke="#c86262" stroke-width="3.4" fill="none"/>
<rect x="236.0" y="877.3" width="1403.5" height="125.0" rx="1.5" stroke="#d07474" stroke-width="5.0" fill="none"/>
</g>
</g>
<g id="modes" filter="url(#bt)">
<line x1="245" y1="1149.5" x2="1640.5" y2="1149.5" stroke="#008000" stroke-width="7" stroke-linecap="round"/>
<line x1="245.2" y1="1094.7" x2="245.2" y2="1149.5" stroke="#008000" stroke-width="7.2" stroke-linecap="round" stroke-dasharray="8.5 15.5"/>
<line x1="596" y1="1094.7" x2="596" y2="1149.5" stroke="#008000" stroke-width="7.2" stroke-linecap="round" stroke-dasharray="8.5 15.5"/>
<line x1="769" y1="1094.7" x2="769" y2="1149.5" stroke="#008000" stroke-width="7.2" stroke-linecap="round" stroke-dasharray="8.5 15.5"/>
<line x1="941.7" y1="1094.7" x2="941.7" y2="1149.5" stroke="#008000" stroke-width="7.2" stroke-linecap="round" stroke-dasharray="8.5 15.5"/>
<line x1="1119" y1="1094.7" x2="1119" y2="1149.5" stroke="#008000" stroke-width="7.2" stroke-linecap="round" stroke-dasharray="8.5 15.5"/>
<line x1="1292.6" y1="1094.7" x2="1292.6" y2="1149.5" stroke="#008000" stroke-width="7.2" stroke-linecap="round" stroke-dasharray="8.5 15.5"/>
<line x1="1471" y1="1094.7" x2="1471" y2="1149.5" stroke="#008000" stroke-width="7.2" stroke-linecap="round" stroke-dasharray="8.5 15.5"/>
<line x1="1640.2" y1="1094.7" x2="1640.2" y2="1149.5" stroke="#008000" stroke-width="7.2" stroke-linecap="round" stroke-dasharray="8.5 15.5"/>
</g>
<g id="arrows" filter="url(#bt)">
<polygon points="98.4,69.3 84.2,111 112.6,111" fill="#000080"/>
<polygon points="98.4,1042.2 84.1,1000.9 112.7,1000.9" fill="#000080"/>
<path d="M98.4 110v5.6M98.4 131.75v8M98.4 155.46v8M98.4 179.17v8M98.4 202.88v8M98.4 226.59v8M98.4 250.30v8M98.4 274.01v8M98.4 297.72v8M98.4 321.43v8M98.4 345.14v8M98.4 368.85v8M98.4 392.56v8M98.4 416.27v8M98.4 439.98v8M98.4 463.69v8M98.4 487.40v8M98.4 511.11v8M98.4 534.82v8M98.4 558.53v8M98.4 582.24v8M98.4 605.95v8M98.4 629.66v8M98.4 653.37v8M98.4 677.08v8M98.4 700.79v8M98.4 724.50v8M98.4 748.21v8M98.4 771.92v8M98.4 795.63v8M98.4 819.34v8M98.4 843.05v8M98.4 866.76v8M98.4 890.47v8M98.4 914.18v8M98.4 937.89v8M98.4 961.60v8M98.4 985.31v8" stroke="#000080" stroke-width="8" stroke-linecap="round" fill="none"/>
<polygon points="235.1,1189.6 277.4,1175.8 277.4,1203.6" fill="#000080"/>
<polygon points="1658,1189.6 1615.5,1175.8 1615.5,1203.6" fill="#000080"/>
<path d="M276 1189.6h5M298.00 1189.6h7M321.94 1189.6h7M345.87 1189.6h7M369.81 1189.6h7M393.74 1189.6h7M417.68 1189.6h7M441.61 1189.6h7M465.54 1189.6h7M489.48 1189.6h7M513.41 1189.6h7M537.35 1189.6h7M561.28 1189.6h7M585.22 1189.6h7M609.15 1189.6h7M633.09 1189.6h7M657.02 1189.6h7M680.96 1189.6h7M704.89 1189.6h7M728.83 1189.6h7M752.76 1189.6h7M776.70 1189.6h7M800.63 1189.6h7M824.57 1189.6h7M848.50 1189.6h7M872.44 1189.6h7M896.38 1189.6h7M920.31 1189.6h7M944.25 1189.6h7M968.18 1189.6h7M992.12 1189.6h7M1016.05 1189.6h7M1039.99 1189.6h7M1063.92 1189.6h7M1087.86 1189.6h7M1111.79 1189.6h7M1135.72 1189.6h7M1159.66 1189.6h7M1183.59 1189.6h7M1207.53 1189.6h7M1231.46 1189.6h7M1255.40 1189.6h7M1279.34 1189.6h7M1303.27 1189.6h7M1327.20 1189.6h7M1351.14 1189.6h7M1375.08 1189.6h7M1399.01 1189.6h7M1422.94 1189.6h7M1446.88 1189.6h7M1470.81 1189.6h7M1494.75 1189.6h7M1518.68 1189.6h7M1542.62 1189.6h7M1566.55 1189.6h7M1590.49 1189.6h7M1614.4 1189.6h2" stroke="#000080" stroke-width="8" stroke-linecap="round" fill="none"/>
</g>
<g id="labels" filter="url(#bt)">
<text x="862.1" y="66.8" font-size="61.5" fill="#000">Grid</text>
<text x="894.0" y="273.1" font-size="61.5" fill="#000">PV</text>
<text x="879.3" y="465.9" font-size="61.5" fill="#000">UPS</text>
<text x="873.6" y="666.4" font-size="61.5" fill="#000">ESS</text>
<text x="835.2" y="861.8" font-size="61.5" fill="#000">Genset</text>
<text transform="translate(244.7 73.2) scale(1 1.05)" font-size="60.0" fill="#000">x10</text>
<text x="333.6" y="52.9" font-size="41.0" fill="#000" style="font-weight:normal">3</text>
<text transform="translate(247.9 273.2) scale(1 1.05)" font-size="60.0" fill="#000">x10</text>
<text x="337.9" y="253.7" font-size="41.0" fill="#000" style="font-weight:normal">3</text>
<text transform="translate(247.3 467.8) scale(1 1.05)" font-size="60.0" fill="#000">x10</text>
<text x="335.6" y="448.9" font-size="41.0" fill="#000" style="font-weight:normal">3</text>
<text transform="translate(237.6 866.4) scale(1 1.05)" font-size="60.0" fill="#000">x10</text>
<text x="326.4" y="848.8" font-size="41.0" fill="#000" style="font-weight:normal">3</text>
<text transform="translate(148.8 113.7) scale(1 1.035)" font-size="61.5" fill="#000">0.5</text>
<text transform="translate(125.7 228.1) scale(1 1.035)" font-size="61.5" fill="#000">-0.5</text>
<text transform="translate(201.9 318.8) scale(1 1.035)" font-size="61.5" fill="#000">1</text>
<text transform="translate(179.3 418.8) scale(1 1.035)" font-size="61.5" fill="#000">-1</text>
<text transform="translate(199.6 513.5) scale(1 1.035)" font-size="61.5" fill="#000">1</text>
<text transform="translate(177.5 613.5) scale(1 1.035)" font-size="61.5" fill="#000">-1</text>
<text transform="translate(166.8 711.3) scale(1 1.035)" font-size="61.5" fill="#000">50</text>
<text transform="translate(115.8 824.6) scale(1 1.035)" font-size="61.5" fill="#000">49.8</text>
<text transform="translate(192.7 916.8) scale(1 1.035)" font-size="61.5" fill="#000">1</text>
<text transform="translate(170.0 1016.3) scale(1 1.035)" font-size="61.5" fill="#000">-1</text>
<text transform="translate(233.5 1062.0) scale(1 1.035)" font-size="61.5" fill="#000">0</text>
<text transform="translate(342.5 1062.0) scale(1 1.035)" font-size="61.5" fill="#000">0.2</text>
<text transform="translate(476.5 1062.0) scale(1 1.035)" font-size="61.5" fill="#000">0.4</text>
<text transform="translate(625.8 1062.0) scale(1 1.035)" font-size="61.5" fill="#000">0.6</text>
<text transform="translate(763.5 1062.0) scale(1 1.035)" font-size="61.5" fill="#000">0.8</text>
<text transform="translate(930.1 1063.3) scale(1 1.035)" font-size="61.5" fill="#000">1</text>
<text transform="translate(1046.1 1062.7) scale(1 1.035)" font-size="61.5" fill="#000">1.2</text>
<text transform="translate(1183.1 1062.7) scale(1 1.035)" font-size="61.5" fill="#000">1.4</text>
<text transform="translate(1321.1 1062.0) scale(1 1.035)" font-size="61.5" fill="#000">1.6</text>
<text transform="translate(1459.3 1062.0) scale(1 1.035)" font-size="61.5" fill="#000">1.8</text>
<text transform="translate(1620.5 1062.7) scale(1 1.035)" font-size="61.5" fill="#000">2</text>
<text x="53.1" y="1131.1" font-size="61.5" fill="#000">Modes</text>
<text transform="translate(435.1 1140.0) scale(1 1.045)" font-size="61.5" fill="#008000">1</text>
<text transform="translate(665.8 1139.4) scale(1 1.045)" font-size="61.5" fill="#008000">2</text>
<text transform="translate(849.2 1135.4) scale(1 1.045)" font-size="61.5" fill="#008000">3</text>
<text transform="translate(1011.1 1131.7) scale(1 1.045)" font-size="61.5" fill="#008000">4</text>
<text transform="translate(1194.2 1135.7) scale(1 1.045)" font-size="61.5" fill="#008000">5</text>
<text transform="translate(1356.4 1135.0) scale(1 1.045)" font-size="61.5" fill="#008000">6</text>
<text transform="translate(1538.1 1131.9) scale(1 1.045)" font-size="61.5" fill="#008000">7</text>
<text x="812.2" y="1257.2" font-size="61.5" fill="#000080">Time (sec)</text>
<text transform="translate(70.6 704.0) rotate(-90)" font-size="62" fill="#000080">Voltage (V)</text>
</g>
</svg>
</body></html>
